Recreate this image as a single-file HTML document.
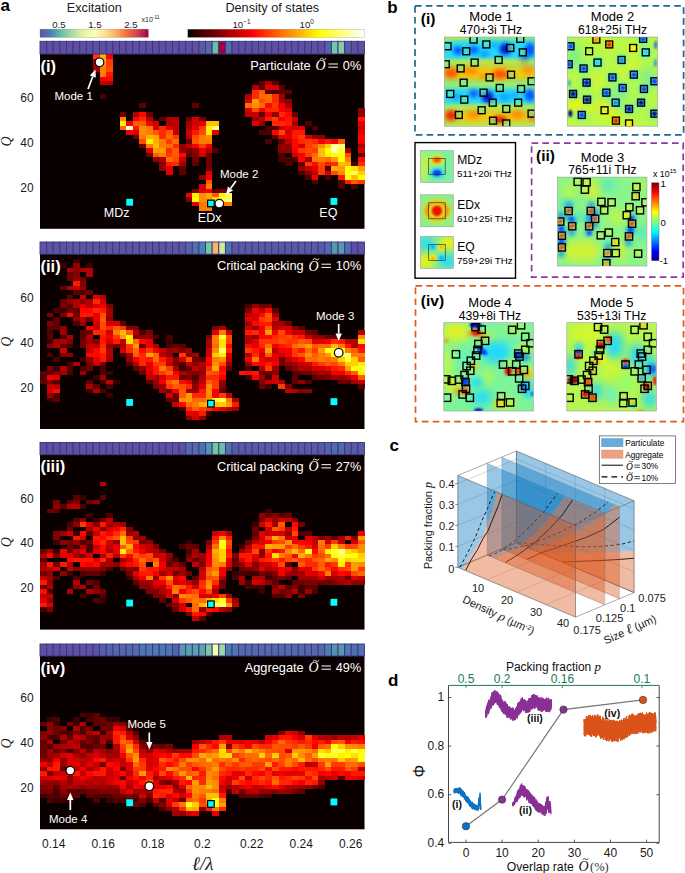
<!DOCTYPE html>
<html><head><meta charset="utf-8"><title>figure</title>
<style>html,body{margin:0;padding:0;background:#fff;}svg{display:block;font-family:"Liberation Sans",sans-serif;}</style>
</head><body>
<svg width="685" height="873" viewBox="0 0 685 873">
<rect width="685" height="873" fill="#fff"/>
<rect x="40.0" y="53.8" width="324.5" height="175.0" fill="#0b0000"/>
<path shape-rendering="crispEdges" fill="#ff3900" d="M93.0 54.0H99.7V58.5H93.0ZM106.2 58.5H112.9V63.0H106.2ZM106.2 63.0H112.9V67.5H106.2ZM271.8 103.3H278.5V107.8H271.8ZM271.8 116.7H278.5V121.3H271.8ZM198.9 125.7H205.6V130.2H198.9ZM172.4 134.7H179.1V139.2H172.4ZM298.3 134.7H304.9V139.2H298.3ZM165.8 139.2H172.5V143.7H165.8ZM304.9 139.2H311.6V143.7H304.9ZM198.9 143.6H205.6V148.2H198.9ZM304.9 143.6H311.6V148.2H304.9ZM298.3 148.1H304.9V152.7H298.3ZM311.5 148.1H318.2V152.7H311.5ZM165.8 152.6H172.5V157.1H165.8ZM304.9 152.6H311.6V157.1H304.9ZM304.9 161.6H311.6V166.1H304.9ZM318.1 166.1H324.8V170.6H318.1ZM318.1 170.5H324.8V175.1H318.1ZM357.9 179.5H364.6V184.0H357.9Z"/>
<path shape-rendering="crispEdges" fill="#ffae00" d="M99.6 54.0H106.3V58.5H99.6ZM99.6 58.5H106.3V63.0H99.6ZM146.0 134.7H159.3V139.2H146.0ZM152.6 139.2H159.3V143.7H152.6ZM344.6 161.6H351.3V166.1H344.6ZM331.4 166.1H338.1V170.6H331.4ZM205.6 192.9H212.2V197.5H205.6Z"/>
<path shape-rendering="crispEdges" fill="#f50000" d="M106.2 54.0H112.9V58.5H106.2ZM99.6 76.4H106.3V80.9H99.6ZM278.4 103.3H285.1V107.8H278.4ZM258.5 107.8H265.2V112.3H258.5ZM278.4 107.8H285.1V112.3H278.4ZM278.4 116.7H285.1V121.3H278.4ZM126.1 121.2H132.8V125.8H126.1ZM146.0 121.2H152.6V125.8H146.0ZM126.1 130.2H132.8V134.7H126.1ZM318.1 139.2H324.8V143.7H318.1ZM331.4 139.2H338.1V143.7H331.4ZM357.9 139.2H364.6V143.7H357.9ZM192.3 143.6H199.0V148.2H192.3ZM205.6 143.6H212.2V148.2H205.6ZM291.7 148.1H298.3V152.7H291.7ZM298.3 152.6H304.9V157.1H298.3ZM205.6 175.0H212.2V179.5H205.6ZM311.5 175.0H318.2V179.5H311.5ZM205.6 188.5H212.2V193.0H205.6ZM185.7 192.9H192.4V197.5H185.7Z"/>
<path shape-rendering="crispEdges" fill="#a10000" d="M93.0 58.5H99.7V63.0H93.0ZM93.0 63.0H99.7V67.5H93.0ZM93.0 67.4H99.7V72.0H93.0ZM278.4 94.3H285.1V98.9H278.4ZM278.4 98.8H285.1V103.4H278.4ZM285.0 103.3H291.7V107.8H285.0ZM251.9 116.7H258.6V121.3H251.9ZM185.7 121.2H192.4V125.8H185.7ZM291.7 121.2H298.3V125.8H291.7ZM344.6 148.1H351.3V152.7H344.6ZM304.9 157.1H311.6V161.6H304.9ZM179.1 161.6H185.7V166.1H179.1Z"/>
<path shape-rendering="crispEdges" fill="#ff8d00" d="M99.6 63.0H106.3V67.5H99.6ZM251.9 103.3H258.6V107.8H251.9ZM119.5 116.7H126.1V121.3H119.5ZM139.3 125.7H146.0V130.2H139.3ZM139.3 130.2H146.0V134.7H139.3ZM205.6 134.7H212.2V139.2H205.6ZM318.1 143.6H324.8V148.2H318.1ZM338.0 170.5H344.7V175.1H338.0ZM198.9 192.9H205.6V197.5H198.9ZM198.9 197.4H205.6V202.0H198.9Z"/>
<path shape-rendering="crispEdges" fill="#ff7c00" d="M99.6 67.4H106.3V72.0H99.6ZM99.6 71.9H106.3V76.5H99.6ZM146.0 125.7H152.6V130.2H146.0ZM146.0 130.2H152.6V134.7H146.0ZM139.3 134.7H146.0V139.2H139.3ZM198.9 134.7H205.6V139.2H198.9ZM159.2 139.2H165.9V143.7H159.2ZM198.9 139.2H212.2V143.7H198.9ZM146.0 143.6H152.6V148.2H146.0ZM159.2 143.6H165.9V148.2H159.2ZM159.2 152.6H165.9V157.1H159.2ZM311.5 157.1H324.8V161.6H311.5ZM344.6 157.1H351.3V161.6H344.6ZM205.6 184.0H212.2V188.5H205.6ZM198.9 201.9H232.1V206.4H198.9ZM198.9 206.4H212.2V210.9H198.9Z"/>
<path shape-rendering="crispEdges" fill="#ff4a00" d="M106.2 67.4H112.9V72.0H106.2ZM258.5 98.8H265.2V103.4H258.5ZM251.9 107.8H258.6V112.3H251.9ZM198.9 130.2H205.6V134.7H198.9ZM278.4 130.2H285.1V134.7H278.4ZM192.3 134.7H199.0V139.2H192.3ZM139.3 139.2H146.0V143.7H139.3ZM304.9 148.1H311.6V152.7H304.9ZM344.6 152.6H351.3V157.1H344.6ZM172.4 157.1H179.1V161.6H172.4ZM318.1 161.6H324.8V166.1H318.1ZM331.4 170.5H338.1V175.1H331.4Z"/>
<path shape-rendering="crispEdges" fill="#ff1700" d="M106.2 71.9H112.9V76.5H106.2ZM265.2 116.7H271.8V121.3H265.2ZM285.0 116.7H291.7V121.3H285.0ZM357.9 116.7H364.6V121.3H357.9ZM285.0 121.2H291.7V125.8H285.0ZM132.7 125.7H139.4V130.2H132.7ZM192.3 130.2H199.0V134.7H192.3ZM291.7 130.2H304.9V134.7H291.7ZM291.7 134.7H298.3V139.2H291.7ZM324.8 139.2H331.4V143.7H324.8ZM165.8 161.6H172.5V166.1H165.8ZM324.8 161.6H331.4V166.1H324.8ZM338.0 175.0H344.7V179.5H338.0ZM344.6 179.5H351.3V184.0H344.6Z"/>
<path shape-rendering="crispEdges" fill="#ff0700" d="M106.2 76.4H112.9V80.9H106.2ZM265.2 103.3H271.8V107.8H265.2ZM139.3 112.3H146.0V116.8H139.3ZM285.0 112.3H291.7V116.8H285.0ZM132.7 116.7H139.4V121.3H132.7ZM271.8 130.2H278.5V134.7H271.8ZM357.9 134.7H364.6V139.2H357.9ZM291.7 139.2H298.3V143.7H291.7ZM291.7 143.6H298.3V148.2H291.7ZM179.1 152.6H185.7V157.1H179.1ZM298.3 157.1H304.9V161.6H298.3ZM357.9 157.1H364.6V161.6H357.9ZM311.5 161.6H318.2V166.1H311.5Z"/>
<path shape-rendering="crispEdges" fill="#c30000" d="M99.6 80.9H106.3V85.4H99.6ZM245.3 112.3H258.6V116.8H245.3ZM258.5 116.7H265.2V121.3H258.5ZM172.4 121.2H179.1V125.8H172.4ZM172.4 125.7H179.1V130.2H172.4ZM172.4 130.2H179.1V134.7H172.4ZM185.7 134.7H192.4V139.2H185.7ZM285.0 139.2H291.7V143.7H285.0ZM185.7 143.6H192.4V148.2H185.7ZM179.1 157.1H185.7V161.6H179.1ZM304.9 166.1H311.6V170.6H304.9ZM311.5 170.5H318.2V175.1H311.5Z"/>
<path shape-rendering="crispEdges" fill="#b20000" d="M106.2 80.9H112.9V85.4H106.2ZM265.2 80.9H271.8V85.4H265.2ZM251.9 85.4H258.6V89.9H251.9ZM245.3 94.3H252.0V98.9H245.3ZM132.7 112.3H139.4V116.8H132.7ZM146.0 116.7H152.6V121.3H146.0ZM165.8 116.7H179.1V121.3H165.8ZM165.8 121.2H172.5V125.8H165.8ZM185.7 125.7H192.4V130.2H185.7ZM357.9 143.6H364.6V148.2H357.9ZM205.6 148.1H212.2V152.7H205.6ZM159.2 157.1H165.9V161.6H159.2Z"/>
<path shape-rendering="crispEdges" fill="#5e0000" d="M258.5 80.9H265.2V85.4H258.5ZM271.8 80.9H278.5V85.4H271.8ZM258.5 85.4H265.2V89.9H258.5ZM278.4 85.4H285.1V89.9H278.4ZM278.4 89.9H291.7V94.4H278.4ZM139.3 103.3H146.0V107.8H139.3ZM192.3 103.3H199.0V107.8H192.3ZM258.5 112.3H265.2V116.8H258.5ZM291.7 112.3H298.3V116.8H291.7ZM159.2 116.7H165.9V121.3H159.2ZM271.8 134.7H278.5V139.2H271.8ZM278.4 139.2H285.1V143.7H278.4ZM185.7 152.6H192.4V157.1H185.7ZM357.9 152.6H364.6V157.1H357.9ZM192.3 161.6H199.0V166.1H192.3ZM298.3 161.6H304.9V166.1H298.3ZM179.1 166.1H185.7V170.6H179.1ZM179.1 170.5H185.7V175.1H179.1ZM212.2 188.5H218.9V193.0H212.2Z"/>
<path shape-rendering="crispEdges" fill="#e40000" d="M265.2 85.4H271.8V89.9H265.2ZM285.0 107.8H291.7V112.3H285.0ZM265.2 112.3H271.8V116.8H265.2ZM198.9 121.2H205.6V125.8H198.9ZM251.9 121.2H258.6V125.8H251.9ZM357.9 121.2H364.6V125.8H357.9ZM165.8 125.7H172.5V130.2H165.8ZM192.3 125.7H199.0V130.2H192.3ZM285.0 125.7H291.7V130.2H285.0ZM298.3 125.7H304.9V130.2H298.3ZM212.2 130.2H218.9V134.7H212.2ZM357.9 130.2H364.6V134.7H357.9ZM278.4 134.7H291.7V139.2H278.4ZM146.0 148.1H152.6V152.7H146.0ZM198.9 148.1H205.6V152.7H198.9ZM165.8 166.1H172.5V170.6H165.8ZM311.5 166.1H318.2V170.6H311.5ZM165.8 170.5H172.5V175.1H165.8ZM205.6 170.5H212.2V175.1H205.6ZM198.9 188.5H205.6V193.0H198.9ZM192.3 201.9H199.0V206.4H192.3Z"/>
<path shape-rendering="crispEdges" fill="#d30000" d="M271.8 85.4H278.5V89.9H271.8ZM245.3 98.8H252.0V103.4H245.3ZM245.3 107.8H252.0V112.3H245.3ZM192.3 116.7H199.0V121.3H192.3ZM291.7 116.7H298.3V121.3H291.7ZM152.6 121.2H159.3V125.8H152.6ZM192.3 121.2H199.0V125.8H192.3ZM152.6 125.7H159.3V130.2H152.6ZM278.4 125.7H285.1V130.2H278.4ZM291.7 125.7H298.3V130.2H291.7ZM357.9 125.7H364.6V130.2H357.9ZM132.7 130.2H139.4V134.7H132.7ZM185.7 130.2H192.4V134.7H185.7ZM285.0 130.2H291.7V134.7H285.0ZM304.9 134.7H311.6V139.2H304.9ZM298.3 143.6H304.9V148.2H298.3ZM357.9 148.1H364.6V152.7H357.9ZM198.9 152.6H205.6V157.1H198.9ZM291.7 152.6H298.3V157.1H291.7ZM324.8 170.5H331.4V175.1H324.8ZM198.9 184.0H205.6V188.5H198.9Z"/>
<path shape-rendering="crispEdges" fill="#ff2800" d="M251.9 89.9H258.6V94.4H251.9ZM251.9 94.3H258.6V98.9H251.9ZM271.8 94.3H278.5V98.9H271.8ZM271.8 98.8H278.5V103.4H271.8ZM265.2 107.8H278.5V112.3H265.2ZM278.4 112.3H285.1V116.8H278.4ZM139.3 116.7H146.0V121.3H139.3ZM271.8 121.2H285.1V125.8H271.8ZM159.2 125.7H165.9V130.2H159.2ZM159.2 130.2H165.9V134.7H159.2ZM159.2 134.7H165.9V139.2H159.2ZM298.3 139.2H304.9V143.7H298.3ZM311.5 139.2H318.2V143.7H311.5ZM172.4 143.6H179.1V148.2H172.4ZM165.8 148.1H172.5V152.7H165.8ZM172.4 161.6H179.1V166.1H172.4ZM331.4 161.6H338.1V166.1H331.4ZM357.9 161.6H364.6V166.1H357.9Z"/>
<path shape-rendering="crispEdges" fill="#ff5a00" d="M258.5 89.9H265.2V94.4H258.5ZM132.7 121.2H146.0V125.8H132.7ZM152.6 130.2H159.3V134.7H152.6ZM165.8 130.2H172.5V134.7H165.8ZM192.3 139.2H199.0V143.7H192.3ZM338.0 139.2H344.7V143.7H338.0ZM311.5 143.6H318.2V148.2H311.5ZM172.4 148.1H179.1V152.7H172.4ZM152.6 152.6H159.3V157.1H152.6ZM172.4 152.6H179.1V157.1H172.4ZM205.6 179.5H212.2V184.0H205.6ZM351.3 179.5H357.9V184.0H351.3ZM212.2 192.9H218.9V197.5H212.2Z"/>
<path shape-rendering="crispEdges" fill="#4e0000" d="M265.2 89.9H278.5V94.4H265.2ZM99.6 94.3H106.3V98.9H99.6ZM304.9 121.2H311.6V125.8H304.9ZM265.2 125.7H278.5V130.2H265.2ZM311.5 125.7H318.2V130.2H311.5ZM258.5 130.2H271.8V134.7H258.5ZM265.2 139.2H271.8V143.7H265.2ZM212.2 148.1H218.9V152.7H212.2ZM278.4 152.6H285.1V157.1H278.4ZM278.4 157.1H298.3V161.6H278.4ZM285.0 161.6H291.7V166.1H285.0ZM351.3 161.6H357.9V166.1H351.3ZM324.8 166.1H331.4V170.6H324.8ZM298.3 170.5H304.9V175.1H298.3ZM304.9 175.0H311.6V179.5H304.9ZM324.8 175.0H331.4V179.5H324.8ZM311.5 179.5H318.2V184.0H311.5ZM338.0 179.5H344.7V184.0H338.0ZM338.0 184.0H344.7V188.5H338.0ZM351.3 184.0H357.9V188.5H351.3Z"/>
<path shape-rendering="crispEdges" fill="#ff6b00" d="M258.5 94.3H271.8V98.9H258.5ZM265.2 98.8H271.8V103.4H265.2ZM245.3 103.3H252.0V107.8H245.3ZM258.5 103.3H265.2V107.8H258.5ZM119.5 125.7H126.1V130.2H119.5ZM165.8 134.7H172.5V139.2H165.8ZM172.4 139.2H179.1V143.7H172.4ZM165.8 143.6H172.5V148.2H165.8ZM311.5 152.6H318.2V157.1H311.5ZM165.8 157.1H172.5V161.6H165.8ZM324.8 157.1H331.4V161.6H324.8Z"/>
<path shape-rendering="crispEdges" fill="#ff9d00" d="M251.9 98.8H258.6V103.4H251.9ZM152.6 148.1H165.9V152.7H152.6ZM331.4 157.1H338.1V161.6H331.4ZM338.0 166.1H344.7V170.6H338.0ZM357.9 166.1H364.6V170.6H357.9ZM205.6 197.4H212.2V202.0H205.6Z"/>
<path shape-rendering="crispEdges" fill="#910000" d="M285.0 98.8H291.7V103.4H285.0ZM357.9 107.8H364.6V112.3H357.9ZM271.8 112.3H278.5V116.8H271.8ZM357.9 112.3H364.6V116.8H357.9ZM258.5 121.2H265.2V125.8H258.5ZM311.5 134.7H324.8V139.2H311.5ZM179.1 143.6H185.7V148.2H179.1ZM278.4 143.6H291.7V148.2H278.4ZM179.1 148.1H185.7V152.7H179.1ZM192.3 148.1H199.0V152.7H192.3ZM278.4 148.1H291.7V152.7H278.4ZM152.6 157.1H159.3V161.6H152.6ZM159.2 161.6H165.9V166.1H159.2ZM159.2 166.1H165.9V170.6H159.2ZM298.3 166.1H304.9V170.6H298.3ZM304.9 170.5H311.6V175.1H304.9ZM198.9 175.0H205.6V179.5H198.9Z"/>
<path shape-rendering="crispEdges" fill="#6f0000" d="M119.5 112.3H126.1V116.8H119.5ZM146.0 112.3H152.6V116.8H146.0ZM185.7 116.7H192.4V121.3H185.7ZM198.9 116.7H205.6V121.3H198.9ZM132.7 134.7H139.4V139.2H132.7ZM185.7 139.2H192.4V143.7H185.7ZM139.3 143.6H146.0V148.2H139.3ZM185.7 148.1H192.4V152.7H185.7ZM146.0 152.6H152.6V157.1H146.0ZM205.6 152.6H212.2V157.1H205.6ZM192.3 157.1H199.0V161.6H192.3ZM205.6 157.1H212.2V161.6H205.6ZM205.6 161.6H212.2V166.1H205.6ZM205.6 166.1H212.2V170.6H205.6Z"/>
<path shape-rendering="crispEdges" fill="#fff100" d="M119.5 121.2H126.1V125.8H119.5ZM205.6 125.7H212.2V130.2H205.6ZM205.6 130.2H212.2V134.7H205.6ZM146.0 139.2H152.6V143.7H146.0ZM324.8 152.6H331.4V157.1H324.8ZM192.3 192.9H199.0V197.5H192.3ZM218.8 192.9H225.5V197.5H218.8Z"/>
<path shape-rendering="crispEdges" fill="#ffbf00" d="M205.6 121.2H218.9V125.8H205.6ZM152.6 143.6H159.3V148.2H152.6ZM318.1 148.1H324.8V152.7H318.1ZM318.1 152.6H324.8V157.1H318.1ZM338.0 161.6H344.7V166.1H338.0ZM351.3 175.0H357.9V179.5H351.3Z"/>
<path shape-rendering="crispEdges" fill="#ffffe6" d="M126.1 125.7H132.8V130.2H126.1Z"/>
<path shape-rendering="crispEdges" fill="#ffff82" d="M212.2 125.7H218.9V130.2H212.2ZM338.0 143.6H344.7V148.2H338.0Z"/>
<path shape-rendering="crispEdges" fill="#ffcf00" d="M324.8 143.6H331.4V148.2H324.8ZM357.9 170.5H364.6V175.1H357.9Z"/>
<path shape-rendering="crispEdges" fill="#ffff9b" d="M331.4 143.6H338.1V148.2H331.4Z"/>
<path shape-rendering="crispEdges" fill="#ffff04" d="M324.8 148.1H331.4V152.7H324.8ZM331.4 152.6H344.7V157.1H331.4ZM338.0 157.1H344.7V161.6H338.0ZM344.6 166.1H351.3V170.6H344.6ZM344.6 175.0H351.3V179.5H344.6ZM357.9 175.0H364.6V179.5H357.9ZM192.3 197.4H199.0V202.0H192.3Z"/>
<path shape-rendering="crispEdges" fill="#ffffb4" d="M331.4 148.1H338.1V152.7H331.4Z"/>
<path shape-rendering="crispEdges" fill="#ffff36" d="M338.0 148.1H344.7V152.7H338.0ZM218.8 197.4H225.5V202.0H218.8Z"/>
<path shape-rendering="crispEdges" fill="#800000" d="M192.3 152.6H199.0V157.1H192.3ZM192.3 188.5H199.0V193.0H192.3ZM218.8 188.5H225.5V193.0H218.8ZM185.7 197.4H192.4V202.0H185.7Z"/>
<path shape-rendering="crispEdges" fill="#ffe000" d="M351.3 166.1H357.9V170.6H351.3ZM212.2 197.4H218.9V202.0H212.2Z"/>
<path shape-rendering="crispEdges" fill="#ffff1d" d="M344.6 170.5H351.3V175.1H344.6Z"/>
<path shape-rendering="crispEdges" fill="#ffff4f" d="M351.3 170.5H357.9V175.1H351.3Z"/>
<path shape-rendering="crispEdges" fill="#ffff68" d="M225.4 192.9H232.1V197.5H225.4ZM225.4 197.4H232.1V202.0H225.4Z"/>
<rect x="40.00" y="41.3" width="6.62" height="12.7" fill="#5e4fa2" stroke="#3a3478" stroke-width="0.9"/>
<rect x="46.62" y="41.3" width="6.62" height="12.7" fill="#5e4fa2" stroke="#3a3478" stroke-width="0.9"/>
<rect x="53.24" y="41.3" width="6.62" height="12.7" fill="#5e4fa2" stroke="#3a3478" stroke-width="0.9"/>
<rect x="59.87" y="41.3" width="6.62" height="12.7" fill="#5e4fa2" stroke="#3a3478" stroke-width="0.9"/>
<rect x="66.49" y="41.3" width="6.62" height="12.7" fill="#5e4fa2" stroke="#3a3478" stroke-width="0.9"/>
<rect x="73.11" y="41.3" width="6.62" height="12.7" fill="#5e4fa2" stroke="#3a3478" stroke-width="0.9"/>
<rect x="79.73" y="41.3" width="6.62" height="12.7" fill="#5e4fa2" stroke="#3a3478" stroke-width="0.9"/>
<rect x="86.36" y="41.3" width="6.62" height="12.7" fill="#5e4fa2" stroke="#3a3478" stroke-width="0.9"/>
<rect x="92.98" y="41.3" width="6.62" height="12.7" fill="#5e4fa2" stroke="#3a3478" stroke-width="0.9"/>
<rect x="99.60" y="41.3" width="6.62" height="12.7" fill="#5e4fa2" stroke="#3a3478" stroke-width="0.9"/>
<rect x="106.22" y="41.3" width="6.62" height="12.7" fill="#5e4fa2" stroke="#3a3478" stroke-width="0.9"/>
<rect x="112.85" y="41.3" width="6.62" height="12.7" fill="#5e4fa2" stroke="#3a3478" stroke-width="0.9"/>
<rect x="119.47" y="41.3" width="6.62" height="12.7" fill="#5e4fa2" stroke="#3a3478" stroke-width="0.9"/>
<rect x="126.09" y="41.3" width="6.62" height="12.7" fill="#5e4fa2" stroke="#3a3478" stroke-width="0.9"/>
<rect x="132.71" y="41.3" width="6.62" height="12.7" fill="#5e4fa2" stroke="#3a3478" stroke-width="0.9"/>
<rect x="139.34" y="41.3" width="6.62" height="12.7" fill="#5e4fa2" stroke="#3a3478" stroke-width="0.9"/>
<rect x="145.96" y="41.3" width="6.62" height="12.7" fill="#5e4fa2" stroke="#3a3478" stroke-width="0.9"/>
<rect x="152.58" y="41.3" width="6.62" height="12.7" fill="#5e4fa2" stroke="#3a3478" stroke-width="0.9"/>
<rect x="159.20" y="41.3" width="6.62" height="12.7" fill="#5e4fa2" stroke="#3a3478" stroke-width="0.9"/>
<rect x="165.83" y="41.3" width="6.62" height="12.7" fill="#5e4fa2" stroke="#3a3478" stroke-width="0.9"/>
<rect x="172.45" y="41.3" width="6.62" height="12.7" fill="#5e4fa2" stroke="#3a3478" stroke-width="0.9"/>
<rect x="179.07" y="41.3" width="6.62" height="12.7" fill="#5e4fa2" stroke="#3a3478" stroke-width="0.9"/>
<rect x="185.69" y="41.3" width="6.62" height="12.7" fill="#5e4fa2" stroke="#3a3478" stroke-width="0.9"/>
<rect x="192.32" y="41.3" width="6.62" height="12.7" fill="#5e4fa2" stroke="#3a3478" stroke-width="0.9"/>
<rect x="198.94" y="41.3" width="6.62" height="12.7" fill="#5a59a6" stroke="#3a3478" stroke-width="0.9"/>
<rect x="205.56" y="41.3" width="6.62" height="12.7" fill="#5468ac" stroke="#3a3478" stroke-width="0.9"/>
<rect x="212.18" y="41.3" width="6.62" height="12.7" fill="#66c2a5" stroke="#3a3478" stroke-width="0.9"/>
<rect x="218.81" y="41.3" width="6.62" height="12.7" fill="#9e0142" stroke="#3a3478" stroke-width="0.9"/>
<rect x="225.43" y="41.3" width="6.62" height="12.7" fill="#526cae" stroke="#3a3478" stroke-width="0.9"/>
<rect x="232.05" y="41.3" width="6.62" height="12.7" fill="#5e4fa2" stroke="#3a3478" stroke-width="0.9"/>
<rect x="238.67" y="41.3" width="6.62" height="12.7" fill="#5e4fa2" stroke="#3a3478" stroke-width="0.9"/>
<rect x="245.30" y="41.3" width="6.62" height="12.7" fill="#5e4fa2" stroke="#3a3478" stroke-width="0.9"/>
<rect x="251.92" y="41.3" width="6.62" height="12.7" fill="#5e4fa2" stroke="#3a3478" stroke-width="0.9"/>
<rect x="258.54" y="41.3" width="6.62" height="12.7" fill="#5e4fa2" stroke="#3a3478" stroke-width="0.9"/>
<rect x="265.16" y="41.3" width="6.62" height="12.7" fill="#5e4fa2" stroke="#3a3478" stroke-width="0.9"/>
<rect x="271.79" y="41.3" width="6.62" height="12.7" fill="#5e4fa2" stroke="#3a3478" stroke-width="0.9"/>
<rect x="278.41" y="41.3" width="6.62" height="12.7" fill="#5e4fa2" stroke="#3a3478" stroke-width="0.9"/>
<rect x="285.03" y="41.3" width="6.62" height="12.7" fill="#5e4fa2" stroke="#3a3478" stroke-width="0.9"/>
<rect x="291.65" y="41.3" width="6.62" height="12.7" fill="#5e4fa2" stroke="#3a3478" stroke-width="0.9"/>
<rect x="298.28" y="41.3" width="6.62" height="12.7" fill="#5e4fa2" stroke="#3a3478" stroke-width="0.9"/>
<rect x="304.90" y="41.3" width="6.62" height="12.7" fill="#5e4fa2" stroke="#3a3478" stroke-width="0.9"/>
<rect x="311.52" y="41.3" width="6.62" height="12.7" fill="#5e4fa2" stroke="#3a3478" stroke-width="0.9"/>
<rect x="318.14" y="41.3" width="6.62" height="12.7" fill="#5e4fa2" stroke="#3a3478" stroke-width="0.9"/>
<rect x="324.77" y="41.3" width="6.62" height="12.7" fill="#5663aa" stroke="#3a3478" stroke-width="0.9"/>
<rect x="331.39" y="41.3" width="6.62" height="12.7" fill="#74c7a5" stroke="#3a3478" stroke-width="0.9"/>
<rect x="338.01" y="41.3" width="6.62" height="12.7" fill="#82cda5" stroke="#3a3478" stroke-width="0.9"/>
<rect x="344.63" y="41.3" width="6.62" height="12.7" fill="#585ea8" stroke="#3a3478" stroke-width="0.9"/>
<rect x="351.26" y="41.3" width="6.62" height="12.7" fill="#5e4fa2" stroke="#3a3478" stroke-width="0.9"/>
<rect x="357.88" y="41.3" width="6.62" height="12.7" fill="#5e4fa2" stroke="#3a3478" stroke-width="0.9"/>
<rect x="40.0" y="254.0" width="324.5" height="175.0" fill="#0b0000"/>
<path shape-rendering="crispEdges" fill="#3d0000" d="M73.1 258.7H79.8V263.2H73.1ZM59.9 263.2H66.5V267.7H59.9ZM86.4 263.2H93.0V267.7H86.4ZM59.9 308.0H66.5V312.5H59.9ZM46.6 339.4H53.3V343.9H46.6ZM165.8 339.4H172.5V343.9H165.8ZM79.7 357.3H86.4V361.8H79.7ZM53.2 366.3H59.9V370.8H53.2ZM179.1 366.3H185.7V370.8H179.1ZM106.2 370.7H112.9V375.3H106.2ZM93.0 375.2H99.7V379.7H93.0ZM245.3 375.2H252.0V379.7H245.3ZM99.6 379.7H106.3V384.2H99.6ZM112.8 379.7H119.5V384.2H112.8ZM265.2 384.2H271.8V388.7H265.2ZM86.4 388.7H93.0V393.2H86.4ZM106.2 393.1H112.9V397.7H106.2ZM46.6 397.6H53.3V402.2H46.6ZM205.6 411.1H212.2V415.6H205.6Z"/>
<path shape-rendering="crispEdges" fill="#910000" d="M73.1 263.2H79.8V267.7H73.1ZM73.1 267.6H79.8V272.2H73.1ZM73.1 276.6H79.8V281.1H73.1ZM79.7 285.6H86.4V290.1H79.7ZM66.5 299.0H73.2V303.6H66.5ZM79.7 299.0H86.4V303.6H79.7ZM251.9 303.5H258.6V308.0H251.9ZM73.1 316.9H79.8V321.5H73.1ZM106.2 316.9H112.9V321.5H106.2ZM79.7 321.4H86.4V326.0H79.7ZM59.9 325.9H66.5V330.4H59.9ZM126.1 325.9H132.8V330.4H126.1ZM251.9 325.9H258.6V330.4H251.9ZM291.7 325.9H298.3V330.4H291.7ZM139.3 334.9H152.6V339.4H139.3ZM251.9 334.9H258.6V339.4H251.9ZM311.5 334.9H324.8V339.4H311.5ZM46.6 343.8H53.3V348.4H46.6ZM106.2 343.8H112.9V348.4H106.2ZM165.8 348.3H172.5V352.9H165.8ZM66.5 352.8H73.2V357.3H66.5ZM165.8 352.8H172.5V357.3H165.8ZM86.4 357.3H93.0V361.8H86.4ZM126.1 357.3H132.8V361.8H126.1ZM192.3 361.8H199.0V366.3H192.3ZM225.4 361.8H232.1V366.3H225.4ZM245.3 361.8H252.0V366.3H245.3ZM285.0 361.8H291.7V366.3H285.0ZM139.3 366.3H146.0V370.8H139.3ZM291.7 366.3H298.3V370.8H291.7ZM185.7 370.7H192.4V375.3H185.7ZM198.9 370.7H205.6V375.3H198.9ZM311.5 370.7H318.2V375.3H311.5ZM324.8 370.7H331.4V375.3H324.8ZM338.0 375.2H344.7V379.7H338.0ZM152.6 379.7H159.3V384.2H152.6ZM218.8 379.7H225.5V384.2H218.8ZM298.3 379.7H304.9V384.2H298.3ZM192.3 384.2H199.0V388.7H192.3ZM304.9 388.7H311.6V393.2H304.9ZM185.7 415.6H192.4V420.1H185.7ZM198.9 415.6H205.6V420.1H198.9Z"/>
<path shape-rendering="crispEdges" fill="#b20000" d="M66.5 267.6H73.2V272.2H66.5ZM79.7 267.6H93.0V272.2H79.7ZM86.4 272.1H93.0V276.7H86.4ZM66.5 285.6H73.2V290.1H66.5ZM99.6 294.5H106.3V299.1H99.6ZM73.1 299.0H79.8V303.6H73.1ZM86.4 299.0H93.0V303.6H86.4ZM73.1 303.5H79.8V308.0H73.1ZM86.4 303.5H93.0V308.0H86.4ZM258.5 308.0H265.2V312.5H258.5ZM79.7 316.9H86.4V321.5H79.7ZM218.8 325.9H225.5V330.4H218.8ZM271.8 325.9H278.5V330.4H271.8ZM132.7 330.4H139.4V334.9H132.7ZM357.9 330.4H364.6V334.9H357.9ZM66.5 334.9H73.2V339.4H66.5ZM86.4 334.9H93.0V339.4H86.4ZM245.3 334.9H252.0V339.4H245.3ZM59.9 339.4H66.5V343.9H59.9ZM205.6 339.4H212.2V343.9H205.6ZM245.3 339.4H252.0V343.9H245.3ZM344.6 339.4H357.9V343.9H344.6ZM53.2 343.8H59.9V348.4H53.2ZM119.5 343.8H126.1V348.4H119.5ZM152.6 343.8H159.3V348.4H152.6ZM351.3 343.8H357.9V348.4H351.3ZM106.2 348.3H112.9V352.9H106.2ZM271.8 348.3H278.5V352.9H271.8ZM106.2 352.8H112.9V357.3H106.2ZM159.2 352.8H165.9V357.3H159.2ZM245.3 352.8H252.0V357.3H245.3ZM73.1 361.8H79.8V366.3H73.1ZM132.7 361.8H139.4V366.3H132.7ZM198.9 361.8H205.6V366.3H198.9ZM59.9 366.3H66.5V370.8H59.9ZM258.5 366.3H265.2V370.8H258.5ZM298.3 366.3H311.6V370.8H298.3ZM179.1 370.7H185.7V375.3H179.1ZM318.1 370.7H324.8V375.3H318.1ZM198.9 375.2H205.6V379.7H198.9ZM344.6 375.2H351.3V379.7H344.6ZM278.4 379.7H285.1V384.2H278.4ZM53.2 384.2H59.9V388.7H53.2ZM86.4 384.2H93.0V388.7H86.4ZM93.0 388.7H99.7V393.2H93.0ZM291.7 388.7H298.3V393.2H291.7ZM232.1 397.6H238.7V402.2H232.1Z"/>
<path shape-rendering="crispEdges" fill="#6f0000" d="M66.5 272.1H73.2V276.7H66.5ZM66.5 276.6H73.2V281.1H66.5ZM79.7 276.6H86.4V281.1H79.7ZM86.4 290.1H93.0V294.6H86.4ZM59.9 299.0H66.5V303.6H59.9ZM258.5 303.5H271.8V308.0H258.5ZM66.5 308.0H73.2V312.5H66.5ZM73.1 312.5H79.8V317.0H73.1ZM285.0 321.4H291.7V326.0H285.0ZM86.4 330.4H93.0V334.9H86.4ZM304.9 330.4H311.6V334.9H304.9ZM324.8 334.9H331.4V339.4H324.8ZM79.7 339.4H86.4V343.9H79.7ZM79.7 343.8H86.4V348.4H79.7ZM112.8 343.8H119.5V348.4H112.8ZM139.3 343.8H146.0V348.4H139.3ZM192.3 357.3H199.0V361.8H192.3ZM278.4 357.3H285.1V361.8H278.4ZM86.4 361.8H93.0V366.3H86.4ZM99.6 361.8H106.3V366.3H99.6ZM172.4 361.8H179.1V366.3H172.4ZM278.4 361.8H285.1V366.3H278.4ZM86.4 366.3H93.0V370.8H86.4ZM185.7 366.3H192.4V370.8H185.7ZM139.3 370.7H146.0V375.3H139.3ZM265.2 370.7H271.8V375.3H265.2ZM304.9 370.7H311.6V375.3H304.9ZM179.1 375.2H185.7V379.7H179.1ZM318.1 375.2H324.8V379.7H318.1ZM192.3 379.7H199.0V384.2H192.3ZM338.0 379.7H344.7V384.2H338.0ZM258.5 384.2H265.2V388.7H258.5ZM165.8 388.7H172.5V393.2H165.8ZM172.4 393.1H179.1V397.7H172.4ZM165.8 397.6H172.5V402.2H165.8Z"/>
<path shape-rendering="crispEdges" fill="#800000" d="M73.1 272.1H79.8V276.7H73.1ZM79.7 281.1H86.4V285.6H79.7ZM59.9 303.5H66.5V308.0H59.9ZM106.2 303.5H112.9V308.0H106.2ZM245.3 308.0H252.0V312.5H245.3ZM46.6 312.5H53.3V317.0H46.6ZM59.9 312.5H66.5V317.0H59.9ZM46.6 321.4H53.3V326.0H46.6ZM132.7 325.9H139.4V330.4H132.7ZM212.2 325.9H218.9V330.4H212.2ZM146.0 330.4H152.6V334.9H146.0ZM132.7 334.9H139.4V339.4H132.7ZM205.6 334.9H212.2V339.4H205.6ZM66.5 339.4H73.2V343.9H66.5ZM93.0 339.4H99.7V343.9H93.0ZM179.1 348.3H185.7V352.9H179.1ZM59.9 352.8H66.5V357.3H59.9ZM185.7 352.8H192.4V357.3H185.7ZM172.4 357.3H179.1V361.8H172.4ZM46.6 366.3H53.3V370.8H46.6ZM53.2 370.7H59.9V375.3H53.2ZM192.3 370.7H199.0V375.3H192.3ZM271.8 370.7H278.5V375.3H271.8ZM185.7 375.2H192.4V379.7H185.7ZM324.8 375.2H331.4V379.7H324.8ZM46.6 379.7H53.3V384.2H46.6ZM258.5 379.7H265.2V384.2H258.5ZM152.6 384.2H159.3V388.7H152.6ZM218.8 384.2H225.5V388.7H218.8ZM285.0 384.2H291.7V388.7H285.0ZM298.3 388.7H304.9V393.2H298.3Z"/>
<path shape-rendering="crispEdges" fill="#ff1700" d="M73.1 281.1H79.8V285.6H73.1ZM99.6 308.0H106.3V312.5H99.6ZM79.7 312.5H93.0V317.0H79.7ZM258.5 321.4H271.8V326.0H258.5ZM245.3 330.4H252.0V334.9H245.3ZM99.6 334.9H106.3V339.4H99.6ZM298.3 334.9H304.9V339.4H298.3ZM99.6 339.4H106.3V343.9H99.6ZM112.8 339.4H119.5V343.9H112.8ZM338.0 339.4H344.7V343.9H338.0ZM278.4 343.8H285.1V348.4H278.4ZM344.6 343.8H351.3V348.4H344.6ZM251.9 348.3H258.6V352.9H251.9ZM298.3 348.3H304.9V352.9H298.3ZM357.9 348.3H364.6V352.9H357.9ZM99.6 352.8H106.3V357.3H99.6ZM99.6 357.3H106.3V361.8H99.6ZM146.0 357.3H152.6V361.8H146.0ZM159.2 357.3H165.9V361.8H159.2ZM265.2 361.8H271.8V366.3H265.2ZM311.5 361.8H318.2V366.3H311.5ZM152.6 366.3H159.3V370.8H152.6ZM331.4 366.3H338.1V370.8H331.4ZM152.6 370.7H159.3V375.3H152.6ZM218.8 370.7H225.5V375.3H218.8ZM238.7 370.7H245.3V375.3H238.7ZM251.9 370.7H258.6V375.3H251.9ZM165.8 375.2H179.1V379.7H165.8ZM198.9 388.7H205.6V393.2H198.9ZM232.1 402.1H238.7V406.6H232.1ZM198.9 411.1H205.6V415.6H198.9Z"/>
<path shape-rendering="crispEdges" fill="#5e0000" d="M59.9 285.6H66.5V290.1H59.9ZM73.1 290.1H79.8V294.6H73.1ZM66.5 294.5H73.2V299.1H66.5ZM66.5 303.5H73.2V308.0H66.5ZM73.1 308.0H79.8V312.5H73.1ZM271.8 308.0H278.5V312.5H271.8ZM53.2 316.9H59.9V321.5H53.2ZM86.4 316.9H93.0V321.5H86.4ZM53.2 321.4H59.9V326.0H53.2ZM119.5 321.4H126.1V326.0H119.5ZM46.6 325.9H59.9V330.4H46.6ZM298.3 325.9H304.9V330.4H298.3ZM79.7 330.4H86.4V334.9H79.7ZM311.5 330.4H318.2V334.9H311.5ZM46.6 334.9H53.3V339.4H46.6ZM79.7 334.9H86.4V339.4H79.7ZM331.4 334.9H338.1V339.4H331.4ZM59.9 343.8H66.5V348.4H59.9ZM172.4 343.8H185.7V348.4H172.4ZM198.9 357.3H205.6V361.8H198.9ZM132.7 366.3H139.4V370.8H132.7ZM225.4 366.3H232.1V370.8H225.4ZM285.0 366.3H291.7V370.8H285.0ZM40.0 370.7H53.3V375.3H40.0ZM258.5 370.7H265.2V375.3H258.5ZM298.3 370.7H304.9V375.3H298.3ZM291.7 375.2H298.3V379.7H291.7ZM311.5 375.2H318.2V379.7H311.5ZM40.0 379.7H46.7V384.2H40.0ZM86.4 379.7H93.0V384.2H86.4ZM291.7 379.7H298.3V384.2H291.7ZM344.6 379.7H351.3V384.2H344.6ZM93.0 384.2H99.7V388.7H93.0ZM357.9 384.2H364.6V388.7H357.9ZM218.8 388.7H225.5V393.2H218.8ZM53.2 397.6H59.9V402.2H53.2ZM172.4 397.6H179.1V402.2H172.4Z"/>
<path shape-rendering="crispEdges" fill="#c30000" d="M73.1 285.6H79.8V290.1H73.1ZM79.7 294.5H86.4V299.1H79.7ZM245.3 312.5H252.0V317.0H245.3ZM93.0 325.9H99.7V330.4H93.0ZM225.4 330.4H232.1V334.9H225.4ZM291.7 330.4H304.9V334.9H291.7ZM304.9 334.9H311.6V339.4H304.9ZM119.5 339.4H126.1V343.9H119.5ZM86.4 343.8H99.7V348.4H86.4ZM86.4 348.3H93.0V352.9H86.4ZM159.2 348.3H165.9V352.9H159.2ZM258.5 352.8H265.2V357.3H258.5ZM225.4 357.3H232.1V361.8H225.4ZM285.0 357.3H291.7V361.8H285.0ZM93.0 361.8H99.7V366.3H93.0ZM165.8 361.8H172.5V366.3H165.8ZM185.7 361.8H192.4V366.3H185.7ZM298.3 361.8H304.9V366.3H298.3ZM192.3 366.3H199.0V370.8H192.3ZM146.0 375.2H152.6V379.7H146.0ZM106.2 379.7H112.9V384.2H106.2ZM198.9 379.7H205.6V384.2H198.9ZM265.2 379.7H271.8V384.2H265.2ZM357.9 379.7H364.6V384.2H357.9ZM46.6 384.2H53.3V388.7H46.6ZM285.0 388.7H291.7V393.2H285.0ZM225.4 393.1H232.1V397.7H225.4ZM172.4 402.1H179.1V406.6H172.4ZM225.4 406.6H232.1V411.1H225.4Z"/>
<path shape-rendering="crispEdges" fill="#4e0000" d="M79.7 290.1H86.4V294.6H79.7ZM245.3 303.5H252.0V308.0H245.3ZM53.2 308.0H59.9V312.5H53.2ZM73.1 321.4H79.8V326.0H73.1ZM46.6 330.4H53.3V334.9H46.6ZM139.3 330.4H146.0V334.9H139.3ZM59.9 334.9H66.5V339.4H59.9ZM152.6 334.9H159.3V339.4H152.6ZM165.8 334.9H172.5V339.4H165.8ZM66.5 343.8H73.2V348.4H66.5ZM165.8 343.8H172.5V348.4H165.8ZM46.6 352.8H53.3V357.3H46.6ZM119.5 352.8H126.1V357.3H119.5ZM53.2 357.3H59.9V361.8H53.2ZM66.5 361.8H73.2V366.3H66.5ZM126.1 361.8H132.8V366.3H126.1ZM179.1 361.8H185.7V366.3H179.1ZM66.5 366.3H73.2V370.8H66.5ZM79.7 366.3H86.4V370.8H79.7ZM99.6 366.3H106.3V370.8H99.6ZM245.3 366.3H252.0V370.8H245.3ZM66.5 370.7H73.2V375.3H66.5ZM99.6 370.7H106.3V375.3H99.6ZM291.7 370.7H298.3V375.3H291.7ZM40.0 375.2H46.7V379.7H40.0ZM192.3 375.2H199.0V379.7H192.3ZM265.2 375.2H271.8V379.7H265.2ZM53.2 379.7H59.9V384.2H53.2ZM146.0 379.7H152.6V384.2H146.0ZM304.9 379.7H311.6V384.2H304.9ZM106.2 384.2H112.9V388.7H106.2ZM99.6 388.7H106.3V393.2H99.6ZM53.2 393.1H59.9V397.7H53.2ZM179.1 406.6H185.7V411.1H179.1Z"/>
<path shape-rendering="crispEdges" fill="#e40000" d="M93.0 294.5H99.7V299.1H93.0ZM79.7 303.5H86.4V308.0H79.7ZM93.0 303.5H99.7V308.0H93.0ZM93.0 312.5H99.7V317.0H93.0ZM93.0 316.9H99.7V321.5H93.0ZM245.3 316.9H252.0V321.5H245.3ZM271.8 316.9H278.5V321.5H271.8ZM212.2 330.4H218.9V334.9H212.2ZM146.0 339.4H152.6V343.9H146.0ZM251.9 339.4H258.6V343.9H251.9ZM311.5 339.4H324.8V343.9H311.5ZM251.9 343.8H258.6V348.4H251.9ZM271.8 352.8H278.5V357.3H271.8ZM93.0 357.3H99.7V361.8H93.0ZM271.8 357.3H278.5V361.8H271.8ZM291.7 357.3H298.3V361.8H291.7ZM146.0 361.8H152.6V366.3H146.0ZM146.0 366.3H152.6V370.8H146.0ZM53.2 375.2H59.9V379.7H53.2ZM351.3 375.2H357.9V379.7H351.3ZM185.7 379.7H192.4V384.2H185.7ZM198.9 384.2H205.6V388.7H198.9ZM218.8 406.6H225.5V411.1H218.8ZM185.7 411.1H199.0V415.6H185.7Z"/>
<path shape-rendering="crispEdges" fill="#ff2800" d="M93.0 299.0H99.7V303.6H93.0ZM93.0 308.0H99.7V312.5H93.0ZM106.2 325.9H112.9V330.4H106.2ZM93.0 330.4H106.3V334.9H93.0ZM251.9 330.4H258.6V334.9H251.9ZM271.8 334.9H278.5V339.4H271.8ZM291.7 334.9H298.3V339.4H291.7ZM331.4 339.4H338.1V343.9H331.4ZM99.6 343.8H106.3V348.4H99.6ZM258.5 343.8H265.2V348.4H258.5ZM285.0 343.8H291.7V348.4H285.0ZM126.1 348.3H132.8V352.9H126.1ZM225.4 348.3H232.1V352.9H225.4ZM139.3 352.8H146.0V357.3H139.3ZM251.9 352.8H258.6V357.3H251.9ZM139.3 357.3H146.0V361.8H139.3ZM139.3 361.8H146.0V366.3H139.3ZM205.6 366.3H212.2V370.8H205.6ZM338.0 366.3H344.7V370.8H338.0ZM344.6 370.7H351.3V375.3H344.6ZM205.6 375.2H218.9V379.7H205.6ZM185.7 384.2H192.4V388.7H185.7ZM192.3 393.1H205.6V397.7H192.3ZM185.7 406.6H192.4V411.1H185.7ZM205.6 406.6H212.2V411.1H205.6Z"/>
<path shape-rendering="crispEdges" fill="#d30000" d="M99.6 299.0H106.3V303.6H99.6ZM251.9 312.5H258.6V317.0H251.9ZM251.9 316.9H258.6V321.5H251.9ZM93.0 321.4H99.7V326.0H93.0ZM106.2 321.4H119.5V326.0H106.2ZM245.3 325.9H252.0V330.4H245.3ZM278.4 325.9H291.7V330.4H278.4ZM106.2 330.4H112.9V334.9H106.2ZM106.2 339.4H112.9V343.9H106.2ZM59.9 348.3H66.5V352.9H59.9ZM119.5 348.3H126.1V352.9H119.5ZM205.6 348.3H212.2V352.9H205.6ZM205.6 352.8H212.2V357.3H205.6ZM225.4 352.8H232.1V357.3H225.4ZM278.4 352.8H285.1V357.3H278.4ZM165.8 357.3H172.5V361.8H165.8ZM179.1 357.3H185.7V361.8H179.1ZM265.2 357.3H271.8V361.8H265.2ZM304.9 361.8H311.6V366.3H304.9ZM311.5 366.3H324.8V370.8H311.5ZM146.0 370.7H152.6V375.3H146.0ZM159.2 375.2H165.9V379.7H159.2ZM271.8 375.2H278.5V379.7H271.8ZM271.8 379.7H278.5V384.2H271.8ZM46.6 388.7H53.3V393.2H46.6ZM165.8 393.1H172.5V397.7H165.8ZM192.3 415.6H199.0V420.1H192.3Z"/>
<path shape-rendering="crispEdges" fill="#f50000" d="M99.6 303.5H106.3V308.0H99.6ZM251.9 308.0H258.6V312.5H251.9ZM86.4 325.9H93.0V330.4H86.4ZM258.5 325.9H265.2V330.4H258.5ZM258.5 330.4H265.2V334.9H258.5ZM271.8 330.4H278.5V334.9H271.8ZM285.0 330.4H291.7V334.9H285.0ZM106.2 334.9H112.9V339.4H106.2ZM324.8 339.4H331.4V343.9H324.8ZM146.0 343.8H152.6V348.4H146.0ZM271.8 343.8H278.5V348.4H271.8ZM152.6 348.3H159.3V352.9H152.6ZM258.5 348.3H265.2V352.9H258.5ZM278.4 348.3H291.7V352.9H278.4ZM285.0 352.8H291.7V357.3H285.0ZM132.7 357.3H139.4V361.8H132.7ZM245.3 357.3H252.0V361.8H245.3ZM258.5 357.3H265.2V361.8H258.5ZM205.6 361.8H212.2V366.3H205.6ZM258.5 361.8H265.2V366.3H258.5ZM271.8 361.8H278.5V366.3H271.8ZM324.8 366.3H331.4V370.8H324.8ZM172.4 370.7H179.1V375.3H172.4ZM331.4 370.7H344.7V375.3H331.4ZM46.6 375.2H53.3V379.7H46.6ZM218.8 375.2H225.5V379.7H218.8ZM251.9 375.2H258.6V379.7H251.9ZM159.2 379.7H165.9V384.2H159.2ZM172.4 388.7H179.1V393.2H172.4ZM212.2 388.7H218.9V393.2H212.2ZM212.2 393.1H218.9V397.7H212.2Z"/>
<path shape-rendering="crispEdges" fill="#ff0700" d="M79.7 308.0H93.0V312.5H79.7ZM265.2 308.0H271.8V312.5H265.2ZM66.5 312.5H73.2V317.0H66.5ZM258.5 312.5H265.2V317.0H258.5ZM251.9 321.4H258.6V326.0H251.9ZM258.5 334.9H271.8V339.4H258.5ZM139.3 339.4H146.0V343.9H139.3ZM225.4 343.8H232.1V348.4H225.4ZM245.3 343.8H252.0V348.4H245.3ZM357.9 343.8H364.6V348.4H357.9ZM93.0 348.3H99.7V352.9H93.0ZM139.3 348.3H146.0V352.9H139.3ZM86.4 352.8H99.7V357.3H86.4ZM205.6 357.3H212.2V361.8H205.6ZM298.3 357.3H304.9V361.8H298.3ZM251.9 361.8H258.6V366.3H251.9ZM218.8 366.3H225.5V370.8H218.8ZM245.3 370.7H252.0V375.3H245.3ZM179.1 379.7H185.7V384.2H179.1ZM53.2 388.7H59.9V393.2H53.2ZM179.1 402.1H185.7V406.6H179.1ZM212.2 406.6H218.9V411.1H212.2Z"/>
<path shape-rendering="crispEdges" fill="#a10000" d="M106.2 308.0H112.9V312.5H106.2ZM106.2 312.5H112.9V317.0H106.2ZM271.8 312.5H278.5V317.0H271.8ZM245.3 321.4H252.0V326.0H245.3ZM271.8 321.4H285.1V326.0H271.8ZM59.9 330.4H66.5V334.9H59.9ZM53.2 339.4H59.9V343.9H53.2ZM86.4 339.4H93.0V343.9H86.4ZM205.6 343.8H212.2V348.4H205.6ZM172.4 348.3H179.1V352.9H172.4ZM185.7 348.3H192.4V352.9H185.7ZM126.1 352.8H132.8V357.3H126.1ZM192.3 352.8H199.0V357.3H192.3ZM106.2 357.3H112.9V361.8H106.2ZM291.7 361.8H298.3V366.3H291.7ZM172.4 366.3H179.1V370.8H172.4ZM198.9 366.3H205.6V370.8H198.9ZM271.8 366.3H278.5V370.8H271.8ZM59.9 370.7H66.5V375.3H59.9ZM79.7 370.7H86.4V375.3H79.7ZM99.6 375.2H106.3V379.7H99.6ZM152.6 375.2H159.3V379.7H152.6ZM258.5 375.2H265.2V379.7H258.5ZM331.4 375.2H338.1V379.7H331.4ZM351.3 379.7H357.9V384.2H351.3ZM159.2 384.2H165.9V388.7H159.2ZM159.2 388.7H165.9V393.2H159.2ZM185.7 388.7H199.0V393.2H185.7ZM46.6 393.1H53.3V397.7H46.6ZM232.1 406.6H238.7V411.1H232.1Z"/>
<path shape-rendering="crispEdges" fill="#ff4a00" d="M99.6 312.5H106.3V317.0H99.6ZM265.2 316.9H271.8V321.5H265.2ZM99.6 321.4H106.3V326.0H99.6ZM99.6 325.9H106.3V330.4H99.6ZM278.4 330.4H285.1V334.9H278.4ZM225.4 334.9H232.1V339.4H225.4ZM285.0 334.9H291.7V339.4H285.0ZM225.4 339.4H232.1V343.9H225.4ZM278.4 339.4H285.1V343.9H278.4ZM304.9 339.4H311.6V343.9H304.9ZM185.7 357.3H192.4V361.8H185.7ZM218.8 361.8H225.5V366.3H218.8ZM331.4 361.8H338.1V366.3H331.4ZM212.2 370.7H218.9V375.3H212.2ZM179.1 384.2H185.7V388.7H179.1Z"/>
<path shape-rendering="crispEdges" fill="#ff5a00" d="M265.2 312.5H271.8V317.0H265.2ZM99.6 316.9H106.3V321.5H99.6ZM112.8 325.9H119.5V330.4H112.8ZM265.2 325.9H271.8V330.4H265.2ZM126.1 330.4H132.8V334.9H126.1ZM298.3 339.4H304.9V343.9H298.3ZM311.5 343.8H318.2V348.4H311.5ZM351.3 348.3H357.9V352.9H351.3ZM132.7 352.8H139.4V357.3H132.7ZM265.2 352.8H271.8V357.3H265.2ZM298.3 352.8H304.9V357.3H298.3ZM311.5 352.8H318.2V357.3H311.5ZM357.9 357.3H364.6V361.8H357.9ZM324.8 361.8H331.4V366.3H324.8ZM205.6 370.7H212.2V375.3H205.6ZM351.3 370.7H357.9V375.3H351.3ZM357.9 375.2H364.6V379.7H357.9ZM165.8 379.7H172.5V384.2H165.8ZM205.6 379.7H212.2V384.2H205.6ZM172.4 384.2H179.1V388.7H172.4ZM179.1 388.7H185.7V393.2H179.1ZM179.1 393.1H185.7V397.7H179.1ZM192.3 406.6H199.0V411.1H192.3Z"/>
<path shape-rendering="crispEdges" fill="#ff3900" d="M258.5 316.9H265.2V321.5H258.5ZM119.5 325.9H126.1V330.4H119.5ZM112.8 334.9H119.5V339.4H112.8ZM278.4 334.9H285.1V339.4H278.4ZM258.5 339.4H278.5V343.9H258.5ZM285.0 339.4H298.3V343.9H285.0ZM126.1 343.8H132.8V348.4H126.1ZM99.6 348.3H106.3V352.9H99.6ZM146.0 348.3H152.6V352.9H146.0ZM245.3 348.3H252.0V352.9H245.3ZM291.7 348.3H298.3V352.9H291.7ZM311.5 348.3H318.2V352.9H311.5ZM179.1 352.8H185.7V357.3H179.1ZM291.7 352.8H298.3V357.3H291.7ZM152.6 361.8H165.9V366.3H152.6ZM318.1 361.8H324.8V366.3H318.1ZM165.8 366.3H172.5V370.8H165.8ZM265.2 366.3H271.8V370.8H265.2ZM159.2 370.7H165.9V375.3H159.2ZM212.2 379.7H218.9V384.2H212.2ZM165.8 384.2H172.5V388.7H165.8ZM212.2 384.2H218.9V388.7H212.2ZM278.4 384.2H285.1V388.7H278.4ZM218.8 393.1H225.5V397.7H218.8ZM198.9 406.6H205.6V411.1H198.9Z"/>
<path shape-rendering="crispEdges" fill="#ff7c00" d="M112.8 330.4H119.5V334.9H112.8ZM218.8 330.4H225.5V334.9H218.8ZM212.2 334.9H218.9V339.4H212.2ZM212.2 339.4H218.9V343.9H212.2ZM298.3 343.8H304.9V348.4H298.3ZM338.0 343.8H344.7V348.4H338.0ZM344.6 348.3H351.3V352.9H344.6ZM318.1 352.8H324.8V357.3H318.1ZM351.3 352.8H364.6V357.3H351.3ZM212.2 357.3H218.9V361.8H212.2ZM251.9 357.3H258.6V361.8H251.9ZM318.1 357.3H324.8V361.8H318.1ZM331.4 357.3H338.1V361.8H331.4ZM338.0 361.8H344.7V366.3H338.0ZM159.2 366.3H165.9V370.8H159.2ZM172.4 379.7H179.1V384.2H172.4ZM225.4 397.6H232.1V402.2H225.4ZM192.3 402.1H199.0V406.6H192.3Z"/>
<path shape-rendering="crispEdges" fill="#ffbf00" d="M119.5 330.4H126.1V334.9H119.5ZM331.4 343.8H338.1V348.4H331.4ZM205.6 402.1H218.9V406.6H205.6Z"/>
<path shape-rendering="crispEdges" fill="#ff9d00" d="M265.2 330.4H271.8V334.9H265.2ZM119.5 334.9H126.1V339.4H119.5ZM132.7 343.8H139.4V348.4H132.7ZM304.9 343.8H311.6V348.4H304.9ZM265.2 348.3H271.8V352.9H265.2ZM318.1 348.3H324.8V352.9H318.1ZM324.8 352.8H331.4V357.3H324.8ZM344.6 366.3H351.3V370.8H344.6ZM185.7 393.1H192.4V397.7H185.7ZM185.7 397.6H192.4V402.2H185.7ZM225.4 402.1H232.1V406.6H225.4Z"/>
<path shape-rendering="crispEdges" fill="#fff100" d="M126.1 334.9H132.8V339.4H126.1ZM218.8 352.8H225.5V357.3H218.8ZM357.9 361.8H364.6V366.3H357.9ZM357.9 370.7H364.6V375.3H357.9Z"/>
<path shape-rendering="crispEdges" fill="#ffff36" d="M218.8 334.9H225.5V339.4H218.8ZM344.6 357.3H351.3V361.8H344.6Z"/>
<path shape-rendering="crispEdges" fill="#ff8d00" d="M357.9 334.9H364.6V339.4H357.9ZM212.2 348.3H218.9V352.9H212.2ZM304.9 352.8H311.6V357.3H304.9ZM218.8 357.3H225.5V361.8H218.8ZM212.2 361.8H218.9V366.3H212.2ZM205.6 384.2H212.2V388.7H205.6ZM205.6 388.7H212.2V393.2H205.6ZM205.6 393.1H212.2V397.7H205.6ZM179.1 397.6H185.7V402.2H179.1ZM205.6 397.6H212.2V402.2H205.6Z"/>
<path shape-rendering="crispEdges" fill="#ffe000" d="M126.1 339.4H132.8V343.9H126.1ZM218.8 339.4H225.5V343.9H218.8ZM357.9 339.4H364.6V343.9H357.9ZM218.8 343.8H225.5V348.4H218.8Z"/>
<path shape-rendering="crispEdges" fill="#ff6b00" d="M132.7 339.4H139.4V343.9H132.7ZM212.2 343.8H218.9V348.4H212.2ZM265.2 343.8H271.8V348.4H265.2ZM291.7 343.8H298.3V348.4H291.7ZM318.1 343.8H331.4V348.4H318.1ZM132.7 348.3H139.4V352.9H132.7ZM304.9 348.3H311.6V352.9H304.9ZM152.6 352.8H159.3V357.3H152.6ZM152.6 357.3H159.3V361.8H152.6ZM304.9 357.3H318.2V361.8H304.9ZM324.8 357.3H331.4V361.8H324.8ZM165.8 370.7H172.5V375.3H165.8ZM192.3 397.6H205.6V402.2H192.3ZM185.7 402.1H192.4V406.6H185.7Z"/>
<path shape-rendering="crispEdges" fill="#ffff68" d="M218.8 348.3H225.5V352.9H218.8Z"/>
<path shape-rendering="crispEdges" fill="#ffff1d" d="M324.8 348.3H338.1V352.9H324.8ZM331.4 352.8H338.1V357.3H331.4ZM357.9 366.3H364.6V370.8H357.9ZM212.2 397.6H218.9V402.2H212.2Z"/>
<path shape-rendering="crispEdges" fill="#ffff04" d="M338.0 348.3H344.7V352.9H338.0ZM351.3 366.3H357.9V370.8H351.3Z"/>
<path shape-rendering="crispEdges" fill="#ffae00" d="M146.0 352.8H152.6V357.3H146.0ZM212.2 366.3H218.9V370.8H212.2ZM198.9 402.1H205.6V406.6H198.9Z"/>
<path shape-rendering="crispEdges" fill="#ffcf00" d="M212.2 352.8H218.9V357.3H212.2ZM338.0 357.3H344.7V361.8H338.0ZM351.3 357.3H357.9V361.8H351.3ZM344.6 361.8H357.9V366.3H344.6ZM218.8 402.1H225.5V406.6H218.8Z"/>
<path shape-rendering="crispEdges" fill="#ffff4f" d="M338.0 352.8H344.7V357.3H338.0ZM218.8 397.6H225.5V402.2H218.8Z"/>
<path shape-rendering="crispEdges" fill="#ffff82" d="M344.6 352.8H351.3V357.3H344.6Z"/>
<rect x="40.00" y="242.0" width="6.62" height="12.2" fill="#5c54a4" stroke="#3a3478" stroke-width="0.9"/>
<rect x="46.62" y="242.0" width="6.62" height="12.2" fill="#5c54a4" stroke="#3a3478" stroke-width="0.9"/>
<rect x="53.24" y="242.0" width="6.62" height="12.2" fill="#5c54a4" stroke="#3a3478" stroke-width="0.9"/>
<rect x="59.87" y="242.0" width="6.62" height="12.2" fill="#5c54a4" stroke="#3a3478" stroke-width="0.9"/>
<rect x="66.49" y="242.0" width="6.62" height="12.2" fill="#5c54a4" stroke="#3a3478" stroke-width="0.9"/>
<rect x="73.11" y="242.0" width="6.62" height="12.2" fill="#5c54a4" stroke="#3a3478" stroke-width="0.9"/>
<rect x="79.73" y="242.0" width="6.62" height="12.2" fill="#5c54a4" stroke="#3a3478" stroke-width="0.9"/>
<rect x="86.36" y="242.0" width="6.62" height="12.2" fill="#5c54a4" stroke="#3a3478" stroke-width="0.9"/>
<rect x="92.98" y="242.0" width="6.62" height="12.2" fill="#5c54a4" stroke="#3a3478" stroke-width="0.9"/>
<rect x="99.60" y="242.0" width="6.62" height="12.2" fill="#5c54a4" stroke="#3a3478" stroke-width="0.9"/>
<rect x="106.22" y="242.0" width="6.62" height="12.2" fill="#5c54a4" stroke="#3a3478" stroke-width="0.9"/>
<rect x="112.85" y="242.0" width="6.62" height="12.2" fill="#5c54a4" stroke="#3a3478" stroke-width="0.9"/>
<rect x="119.47" y="242.0" width="6.62" height="12.2" fill="#5c54a4" stroke="#3a3478" stroke-width="0.9"/>
<rect x="126.09" y="242.0" width="6.62" height="12.2" fill="#5c54a4" stroke="#3a3478" stroke-width="0.9"/>
<rect x="132.71" y="242.0" width="6.62" height="12.2" fill="#5c54a4" stroke="#3a3478" stroke-width="0.9"/>
<rect x="139.34" y="242.0" width="6.62" height="12.2" fill="#5c54a4" stroke="#3a3478" stroke-width="0.9"/>
<rect x="145.96" y="242.0" width="6.62" height="12.2" fill="#5c54a4" stroke="#3a3478" stroke-width="0.9"/>
<rect x="152.58" y="242.0" width="6.62" height="12.2" fill="#5c54a4" stroke="#3a3478" stroke-width="0.9"/>
<rect x="159.20" y="242.0" width="6.62" height="12.2" fill="#5c54a4" stroke="#3a3478" stroke-width="0.9"/>
<rect x="165.83" y="242.0" width="6.62" height="12.2" fill="#5c54a4" stroke="#3a3478" stroke-width="0.9"/>
<rect x="172.45" y="242.0" width="6.62" height="12.2" fill="#5c54a4" stroke="#3a3478" stroke-width="0.9"/>
<rect x="179.07" y="242.0" width="6.62" height="12.2" fill="#5c54a4" stroke="#3a3478" stroke-width="0.9"/>
<rect x="185.69" y="242.0" width="6.62" height="12.2" fill="#5663aa" stroke="#3a3478" stroke-width="0.9"/>
<rect x="192.32" y="242.0" width="6.62" height="12.2" fill="#5071b0" stroke="#3a3478" stroke-width="0.9"/>
<rect x="198.94" y="242.0" width="6.62" height="12.2" fill="#4a80b6" stroke="#3a3478" stroke-width="0.9"/>
<rect x="205.56" y="242.0" width="6.62" height="12.2" fill="#74c7a5" stroke="#3a3478" stroke-width="0.9"/>
<rect x="212.18" y="242.0" width="6.62" height="12.2" fill="#fdb365" stroke="#3a3478" stroke-width="0.9"/>
<rect x="218.81" y="242.0" width="6.62" height="12.2" fill="#ceeb9d" stroke="#3a3478" stroke-width="0.9"/>
<rect x="225.43" y="242.0" width="6.62" height="12.2" fill="#4e76b2" stroke="#3a3478" stroke-width="0.9"/>
<rect x="232.05" y="242.0" width="6.62" height="12.2" fill="#5a59a6" stroke="#3a3478" stroke-width="0.9"/>
<rect x="238.67" y="242.0" width="6.62" height="12.2" fill="#5a59a6" stroke="#3a3478" stroke-width="0.9"/>
<rect x="245.30" y="242.0" width="6.62" height="12.2" fill="#5a59a6" stroke="#3a3478" stroke-width="0.9"/>
<rect x="251.92" y="242.0" width="6.62" height="12.2" fill="#5a59a6" stroke="#3a3478" stroke-width="0.9"/>
<rect x="258.54" y="242.0" width="6.62" height="12.2" fill="#5a59a6" stroke="#3a3478" stroke-width="0.9"/>
<rect x="265.16" y="242.0" width="6.62" height="12.2" fill="#5a59a6" stroke="#3a3478" stroke-width="0.9"/>
<rect x="271.79" y="242.0" width="6.62" height="12.2" fill="#5a59a6" stroke="#3a3478" stroke-width="0.9"/>
<rect x="278.41" y="242.0" width="6.62" height="12.2" fill="#5a59a6" stroke="#3a3478" stroke-width="0.9"/>
<rect x="285.03" y="242.0" width="6.62" height="12.2" fill="#5a59a6" stroke="#3a3478" stroke-width="0.9"/>
<rect x="291.65" y="242.0" width="6.62" height="12.2" fill="#5a59a6" stroke="#3a3478" stroke-width="0.9"/>
<rect x="298.28" y="242.0" width="6.62" height="12.2" fill="#5a59a6" stroke="#3a3478" stroke-width="0.9"/>
<rect x="304.90" y="242.0" width="6.62" height="12.2" fill="#5a59a6" stroke="#3a3478" stroke-width="0.9"/>
<rect x="311.52" y="242.0" width="6.62" height="12.2" fill="#5a59a6" stroke="#3a3478" stroke-width="0.9"/>
<rect x="318.14" y="242.0" width="6.62" height="12.2" fill="#5a59a6" stroke="#3a3478" stroke-width="0.9"/>
<rect x="324.77" y="242.0" width="6.62" height="12.2" fill="#526cae" stroke="#3a3478" stroke-width="0.9"/>
<rect x="331.39" y="242.0" width="6.62" height="12.2" fill="#559aaf" stroke="#3a3478" stroke-width="0.9"/>
<rect x="338.01" y="242.0" width="6.62" height="12.2" fill="#559aaf" stroke="#3a3478" stroke-width="0.9"/>
<rect x="344.63" y="242.0" width="6.62" height="12.2" fill="#526cae" stroke="#3a3478" stroke-width="0.9"/>
<rect x="351.26" y="242.0" width="6.62" height="12.2" fill="#5e4fa2" stroke="#3a3478" stroke-width="0.9"/>
<rect x="357.88" y="242.0" width="6.62" height="12.2" fill="#5e4fa2" stroke="#3a3478" stroke-width="0.9"/>
<rect x="40.0" y="454.5" width="324.5" height="175.1" fill="#0b0000"/>
<path shape-rendering="crispEdges" fill="#b20000" d="M99.6 481.7H106.3V486.2H99.6ZM66.5 504.1H79.8V508.6H66.5ZM112.8 522.0H119.5V526.6H112.8ZM86.4 526.5H93.0V531.0H86.4ZM132.7 531.0H139.4V535.5H132.7ZM251.9 540.0H258.6V544.5H251.9ZM79.7 544.4H86.4V549.0H79.7ZM205.6 544.4H212.2V549.0H205.6ZM245.3 544.4H252.0V549.0H245.3ZM146.0 548.9H159.3V553.5H146.0ZM40.0 553.4H46.7V557.9H40.0ZM99.6 553.4H106.3V557.9H99.6ZM112.8 553.4H119.5V557.9H112.8ZM192.3 553.4H199.0V557.9H192.3ZM66.5 562.4H73.2V566.9H66.5ZM106.2 562.4H112.9V566.9H106.2ZM40.0 566.9H46.7V571.4H40.0ZM265.2 566.9H271.8V571.4H265.2ZM132.7 575.8H139.4V580.3H132.7ZM218.8 575.8H225.5V580.3H218.8ZM251.9 575.8H265.2V580.3H251.9ZM338.0 575.8H344.7V580.3H338.0ZM73.1 580.3H79.8V584.8H73.1ZM344.6 580.3H351.3V584.8H344.6ZM46.6 584.8H53.3V589.3H46.6ZM79.7 584.8H86.4V589.3H79.7ZM159.2 584.8H165.9V589.3H159.2ZM66.5 589.3H73.2V593.8H66.5ZM86.4 589.3H93.0V593.8H86.4ZM159.2 589.3H165.9V593.8H159.2ZM291.7 589.3H298.3V593.8H291.7ZM218.8 607.2H225.5V611.7H218.8Z"/>
<path shape-rendering="crispEdges" fill="#5e0000" d="M73.1 495.1H79.8V499.7H73.1ZM99.6 495.1H106.3V499.7H99.6ZM66.5 499.6H73.2V504.2H66.5ZM59.9 504.1H66.5V508.6H59.9ZM53.2 508.6H59.9V513.1H53.2ZM278.4 513.1H285.1V517.6H278.4ZM73.1 517.5H79.8V522.1H73.1ZM86.4 531.0H93.0V535.5H86.4ZM251.9 531.0H258.6V535.5H251.9ZM304.9 531.0H311.6V535.5H304.9ZM331.4 535.5H338.1V540.0H331.4ZM192.3 544.4H199.0V549.0H192.3ZM40.0 557.9H46.7V562.4H40.0ZM192.3 557.9H199.0V562.4H192.3ZM232.1 557.9H238.7V562.4H232.1ZM165.8 562.4H172.5V566.9H165.8ZM179.1 562.4H185.7V566.9H179.1ZM285.0 562.4H291.7V566.9H285.0ZM86.4 571.3H99.7V575.9H86.4ZM265.2 571.3H271.8V575.9H265.2ZM192.3 575.8H199.0V580.3H192.3ZM271.8 575.8H278.5V580.3H271.8ZM285.0 575.8H291.7V580.3H285.0ZM344.6 575.8H351.3V580.3H344.6ZM132.7 580.3H139.4V584.8H132.7ZM271.8 580.3H278.5V584.8H271.8ZM291.7 580.3H298.3V584.8H291.7ZM40.0 584.8H46.7V589.3H40.0ZM285.0 584.8H291.7V589.3H285.0ZM304.9 584.8H318.2V589.3H304.9ZM159.2 598.2H165.9V602.8H159.2ZM165.8 602.7H172.5V607.2H165.8ZM205.6 611.7H212.2V616.2H205.6ZM198.9 616.2H205.6V620.7H198.9Z"/>
<path shape-rendering="crispEdges" fill="#3d0000" d="M79.7 495.1H86.4V499.7H79.7ZM265.2 508.6H271.8V513.1H265.2ZM86.4 513.1H93.0V517.6H86.4ZM93.0 517.5H99.7V522.1H93.0ZM251.9 522.0H258.6V526.6H251.9ZM73.1 531.0H79.8V535.5H73.1ZM53.2 540.0H59.9V544.5H53.2ZM185.7 540.0H192.4V544.5H185.7ZM73.1 544.4H79.8V549.0H73.1ZM238.7 544.4H245.3V549.0H238.7ZM53.2 548.9H59.9V553.5H53.2ZM66.5 571.3H73.2V575.9H66.5ZM99.6 571.3H106.3V575.9H99.6ZM232.1 571.3H238.7V575.9H232.1ZM245.3 571.3H258.6V575.9H245.3ZM126.1 575.8H132.8V580.3H126.1ZM265.2 575.8H271.8V580.3H265.2ZM251.9 584.8H265.2V589.3H251.9ZM298.3 584.8H304.9V589.3H298.3ZM258.5 589.3H265.2V593.8H258.5ZM298.3 589.3H304.9V593.8H298.3ZM99.6 598.2H106.3V602.8H99.6ZM40.0 607.2H46.7V611.7H40.0Z"/>
<path shape-rendering="crispEdges" fill="#800000" d="M53.2 499.6H59.9V504.2H53.2ZM73.1 499.6H79.8V504.2H73.1ZM271.8 513.1H278.5V517.6H271.8ZM99.6 517.5H106.3V522.1H99.6ZM258.5 517.5H265.2V522.1H258.5ZM291.7 517.5H298.3V522.1H291.7ZM93.0 522.0H99.7V526.6H93.0ZM99.6 526.5H106.3V531.0H99.6ZM126.1 526.5H132.8V531.0H126.1ZM53.2 531.0H59.9V535.5H53.2ZM53.2 535.5H59.9V540.0H53.2ZM251.9 535.5H258.6V540.0H251.9ZM318.1 535.5H324.8V540.0H318.1ZM66.5 540.0H73.2V544.5H66.5ZM205.6 540.0H212.2V544.5H205.6ZM152.6 544.4H159.3V549.0H152.6ZM258.5 548.9H265.2V553.5H258.5ZM79.7 553.4H86.4V557.9H79.7ZM232.1 553.4H238.7V557.9H232.1ZM165.8 557.9H172.5V562.4H165.8ZM198.9 562.4H205.6V566.9H198.9ZM251.9 562.4H258.6V566.9H251.9ZM99.6 566.9H106.3V571.4H99.6ZM245.3 566.9H252.0V571.4H245.3ZM271.8 571.3H278.5V575.9H271.8ZM278.4 575.8H285.1V580.3H278.4ZM304.9 580.3H318.2V584.8H304.9ZM331.4 580.3H338.1V584.8H331.4ZM271.8 584.8H278.5V589.3H271.8ZM291.7 584.8H298.3V589.3H291.7ZM146.0 589.3H159.3V593.8H146.0ZM285.0 589.3H291.7V593.8H285.0ZM152.6 593.7H165.9V598.3H152.6ZM298.3 593.7H304.9V598.3H298.3ZM46.6 607.2H53.3V611.7H46.6ZM185.7 611.7H192.4V616.2H185.7Z"/>
<path shape-rendering="crispEdges" fill="#6f0000" d="M86.4 499.6H93.0V504.2H86.4ZM46.6 508.6H53.3V513.1H46.6ZM265.2 513.1H271.8V517.6H265.2ZM285.0 513.1H291.7V517.6H285.0ZM298.3 522.0H304.9V526.6H298.3ZM66.5 526.5H73.2V531.0H66.5ZM251.9 526.5H258.6V531.0H251.9ZM86.4 540.0H93.0V544.5H86.4ZM139.3 540.0H146.0V544.5H139.3ZM245.3 540.0H252.0V544.5H245.3ZM66.5 544.4H73.2V549.0H66.5ZM185.7 544.4H192.4V549.0H185.7ZM40.0 548.9H46.7V553.5H40.0ZM66.5 548.9H73.2V553.5H66.5ZM159.2 548.9H165.9V553.5H159.2ZM53.2 553.4H59.9V557.9H53.2ZM185.7 553.4H192.4V557.9H185.7ZM53.2 562.4H59.9V566.9H53.2ZM232.1 562.4H238.7V566.9H232.1ZM119.5 566.9H126.1V571.4H119.5ZM132.7 566.9H139.4V571.4H132.7ZM238.7 566.9H245.3V571.4H238.7ZM40.0 571.3H46.7V575.9H40.0ZM126.1 571.3H132.8V575.9H126.1ZM172.4 571.3H179.1V575.9H172.4ZM185.7 571.3H192.4V575.9H185.7ZM258.5 571.3H265.2V575.9H258.5ZM86.4 580.3H93.0V584.8H86.4ZM218.8 580.3H225.5V584.8H218.8ZM298.3 580.3H304.9V584.8H298.3ZM318.1 580.3H331.4V584.8H318.1ZM93.0 584.8H99.7V589.3H93.0ZM218.8 584.8H225.5V589.3H218.8ZM99.6 589.3H106.3V593.8H99.6ZM278.4 589.3H285.1V593.8H278.4ZM172.4 607.2H179.1V611.7H172.4Z"/>
<path shape-rendering="crispEdges" fill="#910000" d="M93.0 499.6H99.7V504.2H93.0ZM53.2 504.1H59.9V508.6H53.2ZM258.5 513.1H265.2V517.6H258.5ZM79.7 517.5H86.4V522.1H79.7ZM73.1 522.0H79.8V526.6H73.1ZM132.7 535.5H139.4V540.0H132.7ZM351.3 535.5H357.9V540.0H351.3ZM59.9 540.0H66.5V544.5H59.9ZM73.1 540.0H79.8V544.5H73.1ZM112.8 540.0H119.5V544.5H112.8ZM146.0 540.0H152.6V544.5H146.0ZM165.8 553.4H172.5V557.9H165.8ZM258.5 553.4H265.2V557.9H258.5ZM198.9 557.9H205.6V562.4H198.9ZM112.8 562.4H119.5V566.9H112.8ZM172.4 562.4H179.1V566.9H172.4ZM238.7 562.4H245.3V566.9H238.7ZM73.1 566.9H99.7V571.4H73.1ZM126.1 566.9H132.8V571.4H126.1ZM225.4 566.9H232.1V571.4H225.4ZM251.9 566.9H258.6V571.4H251.9ZM291.7 566.9H298.3V571.4H291.7ZM46.6 571.3H53.3V575.9H46.6ZM59.9 571.3H66.5V575.9H59.9ZM291.7 571.3H298.3V575.9H291.7ZM152.6 575.8H159.3V580.3H152.6ZM46.6 580.3H53.3V584.8H46.6ZM192.3 580.3H199.0V584.8H192.3ZM265.2 580.3H271.8V584.8H265.2ZM351.3 580.3H364.6V584.8H351.3ZM73.1 584.8H79.8V589.3H73.1ZM139.3 584.8H152.6V589.3H139.3ZM93.0 589.3H99.7V593.8H93.0ZM172.4 593.7H179.1V598.3H172.4ZM285.0 593.7H291.7V598.3H285.0ZM46.6 598.2H53.3V602.8H46.6ZM172.4 602.7H179.1V607.2H172.4ZM198.9 607.2H205.6V611.7H198.9ZM225.4 607.2H232.1V611.7H225.4Z"/>
<path shape-rendering="crispEdges" fill="#4e0000" d="M79.7 504.1H86.4V508.6H79.7ZM106.2 513.1H112.9V517.6H106.2ZM66.5 522.0H73.2V526.6H66.5ZM298.3 531.0H304.9V535.5H298.3ZM79.7 540.0H86.4V544.5H79.7ZM86.4 544.4H93.0V549.0H86.4ZM179.1 544.4H185.7V549.0H179.1ZM86.4 548.9H93.0V553.5H86.4ZM185.7 548.9H192.4V553.5H185.7ZM172.4 557.9H179.1V562.4H172.4ZM106.2 566.9H112.9V571.4H106.2ZM79.7 571.3H86.4V575.9H79.7ZM238.7 571.3H245.3V575.9H238.7ZM53.2 575.8H59.9V580.3H53.2ZM73.1 575.8H79.8V580.3H73.1ZM232.1 575.8H238.7V580.3H232.1ZM93.0 580.3H99.7V584.8H93.0ZM245.3 580.3H252.0V584.8H245.3ZM245.3 584.8H252.0V589.3H245.3ZM46.6 589.3H53.3V593.8H46.6ZM311.5 589.3H318.2V593.8H311.5ZM79.7 593.7H86.4V598.3H79.7ZM99.6 593.7H106.3V598.3H99.6ZM271.8 593.7H285.1V598.3H271.8ZM93.0 598.2H99.7V602.8H93.0Z"/>
<path shape-rendering="crispEdges" fill="#c30000" d="M106.2 517.5H112.9V522.1H106.2ZM285.0 517.5H291.7V522.1H285.0ZM285.0 526.5H291.7V531.0H285.0ZM93.0 531.0H99.7V535.5H93.0ZM212.2 531.0H218.9V535.5H212.2ZM265.2 531.0H271.8V535.5H265.2ZM285.0 535.5H291.7V540.0H285.0ZM311.5 535.5H318.2V540.0H311.5ZM311.5 540.0H318.2V544.5H311.5ZM324.8 540.0H331.4V544.5H324.8ZM338.0 540.0H344.7V544.5H338.0ZM93.0 544.4H99.7V549.0H93.0ZM106.2 544.4H112.9V549.0H106.2ZM146.0 544.4H152.6V549.0H146.0ZM73.1 548.9H79.8V553.5H73.1ZM152.6 553.4H159.3V557.9H152.6ZM192.3 562.4H199.0V566.9H192.3ZM258.5 562.4H265.2V566.9H258.5ZM46.6 566.9H53.3V571.4H46.6ZM66.5 566.9H73.2V571.4H66.5ZM165.8 566.9H179.1V571.4H165.8ZM198.9 566.9H205.6V571.4H198.9ZM271.8 566.9H278.5V571.4H271.8ZM40.0 575.8H46.7V580.3H40.0ZM357.9 575.8H364.6V580.3H357.9ZM185.7 580.3H192.4V584.8H185.7ZM258.5 580.3H265.2V584.8H258.5ZM152.6 584.8H159.3V589.3H152.6ZM278.4 584.8H285.1V589.3H278.4ZM40.0 593.7H53.3V598.3H40.0ZM232.1 602.7H238.7V607.2H232.1ZM192.3 616.2H199.0V620.7H192.3Z"/>
<path shape-rendering="crispEdges" fill="#d30000" d="M265.2 517.5H271.8V522.1H265.2ZM278.4 517.5H285.1V522.1H278.4ZM86.4 522.0H93.0V526.6H86.4ZM258.5 522.0H265.2V526.6H258.5ZM106.2 526.5H112.9V531.0H106.2ZM265.2 526.5H271.8V531.0H265.2ZM66.5 531.0H73.2V535.5H66.5ZM271.8 531.0H285.1V535.5H271.8ZM79.7 535.5H86.4V540.0H79.7ZM258.5 535.5H265.2V540.0H258.5ZM106.2 540.0H112.9V544.5H106.2ZM351.3 540.0H357.9V544.5H351.3ZM139.3 544.4H146.0V549.0H139.3ZM311.5 544.4H318.2V549.0H311.5ZM245.3 548.9H252.0V553.5H245.3ZM86.4 553.4H93.0V557.9H86.4ZM159.2 553.4H165.9V557.9H159.2ZM126.1 557.9H132.8V562.4H126.1ZM159.2 557.9H165.9V562.4H159.2ZM251.9 557.9H258.6V562.4H251.9ZM119.5 562.4H126.1V566.9H119.5ZM225.4 562.4H232.1V566.9H225.4ZM265.2 562.4H271.8V566.9H265.2ZM165.8 571.3H172.5V575.9H165.8ZM198.9 571.3H205.6V575.9H198.9ZM311.5 571.3H318.2V575.9H311.5ZM331.4 571.3H338.1V575.9H331.4ZM198.9 575.8H205.6V580.3H198.9ZM318.1 575.8H324.8V580.3H318.1ZM172.4 580.3H179.1V584.8H172.4ZM251.9 580.3H258.6V584.8H251.9ZM192.3 584.8H199.0V589.3H192.3ZM165.8 589.3H172.5V593.8H165.8ZM198.9 593.7H212.2V598.3H198.9ZM172.4 598.2H179.1V602.8H172.4ZM46.6 602.7H53.3V607.2H46.6ZM179.1 602.7H185.7V607.2H179.1ZM179.1 607.2H185.7V611.7H179.1Z"/>
<path shape-rendering="crispEdges" fill="#a10000" d="M271.8 517.5H278.5V522.1H271.8ZM106.2 522.0H112.9V526.6H106.2ZM119.5 522.0H126.1V526.6H119.5ZM271.8 522.0H278.5V526.6H271.8ZM59.9 531.0H66.5V535.5H59.9ZM126.1 531.0H132.8V535.5H126.1ZM225.4 531.0H232.1V535.5H225.4ZM285.0 531.0H291.7V535.5H285.0ZM139.3 535.5H146.0V540.0H139.3ZM324.8 535.5H331.4V540.0H324.8ZM338.0 535.5H344.7V540.0H338.0ZM46.6 548.9H53.3V553.5H46.6ZM106.2 548.9H112.9V553.5H106.2ZM192.3 548.9H199.0V553.5H192.3ZM238.7 548.9H245.3V553.5H238.7ZM73.1 553.4H79.8V557.9H73.1ZM198.9 553.4H205.6V557.9H198.9ZM106.2 557.9H112.9V562.4H106.2ZM119.5 557.9H126.1V562.4H119.5ZM185.7 557.9H192.4V562.4H185.7ZM40.0 562.4H46.7V566.9H40.0ZM99.6 562.4H106.3V566.9H99.6ZM179.1 566.9H185.7V571.4H179.1ZM159.2 571.3H165.9V575.9H159.2ZM179.1 571.3H185.7V575.9H179.1ZM285.0 571.3H291.7V575.9H285.0ZM298.3 571.3H304.9V575.9H298.3ZM46.6 575.8H53.3V580.3H46.6ZM238.7 575.8H245.3V580.3H238.7ZM298.3 575.8H318.2V580.3H298.3ZM324.8 575.8H338.1V580.3H324.8ZM139.3 580.3H152.6V584.8H139.3ZM238.7 580.3H245.3V584.8H238.7ZM338.0 580.3H344.7V584.8H338.0ZM212.2 589.3H218.9V593.8H212.2ZM271.8 589.3H278.5V593.8H271.8ZM304.9 589.3H311.6V593.8H304.9ZM225.4 593.7H232.1V598.3H225.4ZM232.1 598.2H238.7V602.8H232.1Z"/>
<path shape-rendering="crispEdges" fill="#ff3900" d="M79.7 522.0H86.4V526.6H79.7ZM278.4 526.5H285.1V531.0H278.4ZM106.2 535.5H112.9V540.0H106.2ZM126.1 535.5H132.8V540.0H126.1ZM265.2 535.5H271.8V540.0H265.2ZM132.7 540.0H139.4V544.5H132.7ZM212.2 540.0H218.9V544.5H212.2ZM271.8 540.0H278.5V544.5H271.8ZM331.4 540.0H338.1V544.5H331.4ZM225.4 544.4H232.1V549.0H225.4ZM285.0 544.4H291.7V549.0H285.0ZM298.3 544.4H304.9V549.0H298.3ZM324.8 544.4H331.4V549.0H324.8ZM344.6 544.4H351.3V549.0H344.6ZM265.2 548.9H271.8V553.5H265.2ZM119.5 553.4H126.1V557.9H119.5ZM139.3 553.4H146.0V557.9H139.3ZM311.5 553.4H318.2V557.9H311.5ZM146.0 557.9H152.6V562.4H146.0ZM298.3 557.9H304.9V562.4H298.3ZM331.4 562.4H338.1V566.9H331.4ZM344.6 562.4H351.3V566.9H344.6ZM139.3 566.9H146.0V571.4H139.3ZM311.5 566.9H318.2V571.4H311.5ZM324.8 566.9H331.4V571.4H324.8ZM338.0 566.9H344.7V571.4H338.0ZM357.9 566.9H364.6V571.4H357.9ZM159.2 575.8H165.9V580.3H159.2ZM198.9 584.8H205.6V589.3H198.9ZM218.8 593.7H225.5V598.3H218.8ZM179.1 598.2H185.7V602.8H179.1ZM225.4 598.2H232.1V602.8H225.4Z"/>
<path shape-rendering="crispEdges" fill="#ff1700" d="M99.6 522.0H106.3V526.6H99.6ZM265.2 522.0H271.8V526.6H265.2ZM291.7 526.5H298.3V531.0H291.7ZM99.6 531.0H106.3V535.5H99.6ZM73.1 535.5H79.8V540.0H73.1ZM93.0 535.5H99.7V540.0H93.0ZM212.2 535.5H218.9V540.0H212.2ZM225.4 535.5H232.1V540.0H225.4ZM344.6 535.5H351.3V540.0H344.6ZM251.9 544.4H265.2V549.0H251.9ZM304.9 544.4H311.6V549.0H304.9ZM132.7 548.9H139.4V553.5H132.7ZM225.4 548.9H232.1V553.5H225.4ZM278.4 548.9H285.1V553.5H278.4ZM106.2 553.4H112.9V557.9H106.2ZM238.7 553.4H252.0V557.9H238.7ZM265.2 553.4H271.8V557.9H265.2ZM73.1 557.9H93.0V562.4H73.1ZM245.3 557.9H252.0V562.4H245.3ZM258.5 557.9H265.2V562.4H258.5ZM278.4 557.9H285.1V562.4H278.4ZM46.6 562.4H53.3V566.9H46.6ZM59.9 562.4H66.5V566.9H59.9ZM132.7 562.4H139.4V566.9H132.7ZM324.8 562.4H331.4V566.9H324.8ZM146.0 566.9H159.3V571.4H146.0ZM139.3 571.3H152.6V575.9H139.3ZM40.0 580.3H46.7V584.8H40.0ZM165.8 584.8H172.5V589.3H165.8ZM185.7 584.8H192.4V589.3H185.7ZM40.0 602.7H46.7V607.2H40.0ZM185.7 607.2H192.4V611.7H185.7ZM205.6 607.2H212.2V611.7H205.6ZM192.3 611.7H199.0V616.2H192.3Z"/>
<path shape-rendering="crispEdges" fill="#ff5a00" d="M278.4 522.0H285.1V526.6H278.4ZM271.8 526.5H278.5V531.0H271.8ZM112.8 535.5H119.5V540.0H112.8ZM357.9 540.0H364.6V544.5H357.9ZM119.5 544.4H126.1V549.0H119.5ZM132.7 553.4H139.4V557.9H132.7ZM285.0 553.4H291.7V557.9H285.0ZM152.6 557.9H159.3V562.4H152.6ZM291.7 557.9H298.3V562.4H291.7ZM311.5 557.9H318.2V562.4H311.5ZM298.3 562.4H304.9V566.9H298.3ZM318.1 562.4H324.8V566.9H318.1ZM205.6 566.9H212.2V571.4H205.6ZM212.2 575.8H218.9V580.3H212.2ZM179.1 584.8H185.7V589.3H179.1ZM185.7 598.2H192.4V602.8H185.7Z"/>
<path shape-rendering="crispEdges" fill="#ff0700" d="M291.7 522.0H298.3V526.6H291.7ZM79.7 531.0H86.4V535.5H79.7ZM99.6 535.5H106.3V540.0H99.6ZM93.0 540.0H99.7V544.5H93.0ZM298.3 540.0H304.9V544.5H298.3ZM99.6 544.4H106.3V549.0H99.6ZM132.7 544.4H139.4V549.0H132.7ZM99.6 548.9H106.3V553.5H99.6ZM311.5 548.9H318.2V553.5H311.5ZM46.6 553.4H53.3V557.9H46.6ZM126.1 553.4H132.8V557.9H126.1ZM66.5 557.9H73.2V562.4H66.5ZM79.7 562.4H86.4V566.9H79.7ZM93.0 562.4H99.7V566.9H93.0ZM126.1 562.4H132.8V566.9H126.1ZM205.6 562.4H212.2V566.9H205.6ZM331.4 566.9H338.1V571.4H331.4ZM318.1 571.3H324.8V575.9H318.1ZM338.0 571.3H344.7V575.9H338.0ZM179.1 575.8H185.7V580.3H179.1ZM40.0 589.3H46.7V593.8H40.0ZM198.9 589.3H205.6V593.8H198.9ZM212.2 607.2H218.9V611.7H212.2ZM198.9 611.7H205.6V616.2H198.9Z"/>
<path shape-rendering="crispEdges" fill="#f50000" d="M93.0 526.5H99.7V531.0H93.0ZM112.8 526.5H119.5V531.0H112.8ZM106.2 531.0H112.9V535.5H106.2ZM218.8 531.0H225.5V535.5H218.8ZM357.9 531.0H364.6V535.5H357.9ZM265.2 540.0H271.8V544.5H265.2ZM291.7 540.0H298.3V544.5H291.7ZM304.9 540.0H311.6V544.5H304.9ZM59.9 548.9H66.5V553.5H59.9ZM139.3 548.9H146.0V553.5H139.3ZM271.8 548.9H278.5V553.5H271.8ZM205.6 553.4H212.2V557.9H205.6ZM291.7 553.4H298.3V557.9H291.7ZM205.6 557.9H212.2V562.4H205.6ZM86.4 562.4H93.0V566.9H86.4ZM159.2 562.4H165.9V566.9H159.2ZM271.8 562.4H278.5V566.9H271.8ZM218.8 566.9H225.5V571.4H218.8ZM278.4 566.9H285.1V571.4H278.4ZM152.6 571.3H159.3V575.9H152.6ZM218.8 571.3H225.5V575.9H218.8ZM278.4 571.3H285.1V575.9H278.4ZM344.6 571.3H351.3V575.9H344.6ZM139.3 575.8H146.0V580.3H139.3ZM159.2 580.3H165.9V584.8H159.2ZM179.1 589.3H185.7V593.8H179.1ZM212.2 593.7H218.9V598.3H212.2Z"/>
<path shape-rendering="crispEdges" fill="#ff2800" d="M119.5 526.5H126.1V531.0H119.5ZM112.8 531.0H119.5V535.5H112.8ZM99.6 540.0H106.3V544.5H99.6ZM225.4 553.4H232.1V557.9H225.4ZM99.6 557.9H106.3V562.4H99.6ZM132.7 557.9H139.4V562.4H132.7ZM265.2 557.9H271.8V562.4H265.2ZM304.9 557.9H311.6V562.4H304.9ZM304.9 562.4H318.2V566.9H304.9ZM198.9 580.3H205.6V584.8H198.9ZM212.2 580.3H218.9V584.8H212.2ZM185.7 589.3H192.4V593.8H185.7Z"/>
<path shape-rendering="crispEdges" fill="#ff6b00" d="M119.5 531.0H126.1V535.5H119.5ZM212.2 544.4H218.9V549.0H212.2ZM291.7 544.4H298.3V549.0H291.7ZM318.1 544.4H324.8V549.0H318.1ZM126.1 548.9H132.8V553.5H126.1ZM298.3 548.9H304.9V553.5H298.3ZM318.1 548.9H324.8V553.5H318.1ZM324.8 553.4H331.4V557.9H324.8ZM139.3 557.9H146.0V562.4H139.3ZM318.1 557.9H324.8V562.4H318.1ZM212.2 566.9H218.9V571.4H212.2ZM318.1 566.9H324.8V571.4H318.1ZM205.6 571.3H212.2V575.9H205.6ZM357.9 571.3H364.6V575.9H357.9ZM172.4 584.8H179.1V589.3H172.4ZM192.3 593.7H199.0V598.3H192.3ZM198.9 598.2H205.6V602.8H198.9ZM192.3 602.7H199.0V607.2H192.3ZM192.3 607.2H199.0V611.7H192.3Z"/>
<path shape-rendering="crispEdges" fill="#e40000" d="M258.5 531.0H265.2V535.5H258.5ZM291.7 535.5H298.3V540.0H291.7ZM304.9 535.5H311.6V540.0H304.9ZM258.5 540.0H265.2V544.5H258.5ZM112.8 544.4H119.5V549.0H112.8ZM79.7 548.9H86.4V553.5H79.7ZM93.0 548.9H99.7V553.5H93.0ZM112.8 548.9H119.5V553.5H112.8ZM205.6 548.9H212.2V553.5H205.6ZM59.9 553.4H73.2V557.9H59.9ZM251.9 553.4H258.6V557.9H251.9ZM93.0 557.9H99.7V562.4H93.0ZM225.4 557.9H232.1V562.4H225.4ZM238.7 557.9H245.3V562.4H238.7ZM245.3 562.4H252.0V566.9H245.3ZM53.2 566.9H59.9V571.4H53.2ZM159.2 566.9H165.9V571.4H159.2ZM258.5 566.9H265.2V571.4H258.5ZM285.0 566.9H291.7V571.4H285.0ZM298.3 566.9H311.6V571.4H298.3ZM132.7 571.3H139.4V575.9H132.7ZM304.9 571.3H311.6V575.9H304.9ZM172.4 575.8H179.1V580.3H172.4ZM351.3 575.8H357.9V580.3H351.3ZM152.6 580.3H159.3V584.8H152.6ZM179.1 580.3H185.7V584.8H179.1ZM212.2 584.8H218.9V589.3H212.2ZM165.8 593.7H172.5V598.3H165.8ZM40.0 598.2H46.7V602.8H40.0Z"/>
<path shape-rendering="crispEdges" fill="#ff4a00" d="M291.7 531.0H298.3V535.5H291.7ZM126.1 540.0H132.8V544.5H126.1ZM225.4 540.0H232.1V544.5H225.4ZM278.4 540.0H285.1V544.5H278.4ZM351.3 544.4H357.9V549.0H351.3ZM251.9 548.9H258.6V553.5H251.9ZM146.0 553.4H152.6V557.9H146.0ZM318.1 553.4H324.8V557.9H318.1ZM271.8 557.9H278.5V562.4H271.8ZM285.0 557.9H291.7V562.4H285.0ZM139.3 562.4H146.0V566.9H139.3ZM278.4 562.4H285.1V566.9H278.4ZM344.6 566.9H351.3V571.4H344.6ZM351.3 571.3H357.9V575.9H351.3ZM205.6 575.8H212.2V580.3H205.6ZM165.8 580.3H172.5V584.8H165.8ZM192.3 589.3H199.0V593.8H192.3ZM205.6 589.3H212.2V593.8H205.6Z"/>
<path shape-rendering="crispEdges" fill="#ffbf00" d="M119.5 535.5H126.1V540.0H119.5ZM119.5 540.0H126.1V544.5H119.5ZM291.7 548.9H298.3V553.5H291.7ZM351.3 548.9H357.9V553.5H351.3ZM198.9 602.7H205.6V607.2H198.9Z"/>
<path shape-rendering="crispEdges" fill="#ff8d00" d="M218.8 535.5H225.5V540.0H218.8ZM285.0 540.0H291.7V544.5H285.0ZM357.9 544.4H364.6V549.0H357.9ZM285.0 548.9H291.7V553.5H285.0ZM357.9 548.9H364.6V553.5H357.9ZM212.2 557.9H218.9V562.4H212.2ZM331.4 557.9H338.1V562.4H331.4ZM212.2 562.4H218.9V566.9H212.2ZM357.9 562.4H364.6V566.9H357.9ZM165.8 575.8H172.5V580.3H165.8ZM205.6 580.3H212.2V584.8H205.6ZM179.1 593.7H185.7V598.3H179.1Z"/>
<path shape-rendering="crispEdges" fill="#ffae00" d="M271.8 535.5H278.5V540.0H271.8ZM126.1 544.4H132.8V549.0H126.1ZM265.2 544.4H271.8V549.0H265.2ZM212.2 548.9H218.9V553.5H212.2ZM298.3 553.4H304.9V557.9H298.3ZM324.8 557.9H331.4V562.4H324.8ZM205.6 598.2H212.2V602.8H205.6Z"/>
<path shape-rendering="crispEdges" fill="#ff7c00" d="M278.4 535.5H285.1V540.0H278.4ZM318.1 540.0H324.8V544.5H318.1ZM338.0 544.4H344.7V549.0H338.0ZM278.4 553.4H285.1V557.9H278.4ZM304.9 553.4H311.6V557.9H304.9ZM152.6 562.4H159.3V566.9H152.6ZM218.8 562.4H225.5V566.9H218.8ZM324.8 571.3H331.4V575.9H324.8ZM146.0 575.8H152.6V580.3H146.0ZM172.4 589.3H179.1V593.8H172.4ZM185.7 593.7H192.4V598.3H185.7ZM192.3 598.2H199.0V602.8H192.3Z"/>
<path shape-rendering="crispEdges" fill="#ff9d00" d="M357.9 535.5H364.6V540.0H357.9ZM271.8 544.4H285.1V549.0H271.8ZM212.2 553.4H218.9V557.9H212.2ZM351.3 562.4H357.9V566.9H351.3ZM351.3 566.9H357.9V571.4H351.3ZM212.2 571.3H218.9V575.9H212.2ZM205.6 584.8H212.2V589.3H205.6ZM225.4 602.7H232.1V607.2H225.4Z"/>
<path shape-rendering="crispEdges" fill="#ffff1d" d="M218.8 540.0H225.5V544.5H218.8ZM304.9 548.9H311.6V553.5H304.9ZM344.6 553.4H351.3V557.9H344.6ZM218.8 598.2H225.5V602.8H218.8Z"/>
<path shape-rendering="crispEdges" fill="#ffff04" d="M218.8 544.4H225.5V549.0H218.8ZM331.4 553.4H338.1V557.9H331.4ZM351.3 553.4H357.9V557.9H351.3ZM338.0 557.9H344.7V562.4H338.0Z"/>
<path shape-rendering="crispEdges" fill="#ffcf00" d="M331.4 544.4H338.1V549.0H331.4ZM218.8 548.9H225.5V553.5H218.8ZM218.8 553.4H225.5V557.9H218.8ZM357.9 553.4H364.6V557.9H357.9ZM218.8 557.9H225.5V562.4H218.8ZM344.6 557.9H351.3V562.4H344.6Z"/>
<path shape-rendering="crispEdges" fill="#fff100" d="M119.5 548.9H126.1V553.5H119.5ZM324.8 548.9H331.4V553.5H324.8ZM338.0 562.4H344.7V566.9H338.0Z"/>
<path shape-rendering="crispEdges" fill="#ffff36" d="M331.4 548.9H338.1V553.5H331.4ZM205.6 602.7H212.2V607.2H205.6Z"/>
<path shape-rendering="crispEdges" fill="#ffff82" d="M338.0 548.9H344.7V553.5H338.0Z"/>
<path shape-rendering="crispEdges" fill="#ffe000" d="M344.6 548.9H351.3V553.5H344.6ZM271.8 553.4H278.5V557.9H271.8ZM351.3 557.9H364.6V562.4H351.3ZM212.2 598.2H218.9V602.8H212.2Z"/>
<path shape-rendering="crispEdges" fill="#ffff4f" d="M338.0 553.4H344.7V557.9H338.0ZM212.2 602.7H218.9V607.2H212.2Z"/>
<path shape-rendering="crispEdges" fill="#ffff68" d="M218.8 602.7H225.5V607.2H218.8Z"/>
<rect x="40.00" y="442.5" width="6.62" height="12.2" fill="#5e4fa2" stroke="#3a3478" stroke-width="0.9"/>
<rect x="46.62" y="442.5" width="6.62" height="12.2" fill="#5e4fa2" stroke="#3a3478" stroke-width="0.9"/>
<rect x="53.24" y="442.5" width="6.62" height="12.2" fill="#5e4fa2" stroke="#3a3478" stroke-width="0.9"/>
<rect x="59.87" y="442.5" width="6.62" height="12.2" fill="#5e4fa2" stroke="#3a3478" stroke-width="0.9"/>
<rect x="66.49" y="442.5" width="6.62" height="12.2" fill="#5e4fa2" stroke="#3a3478" stroke-width="0.9"/>
<rect x="73.11" y="442.5" width="6.62" height="12.2" fill="#5e4fa2" stroke="#3a3478" stroke-width="0.9"/>
<rect x="79.73" y="442.5" width="6.62" height="12.2" fill="#5e4fa2" stroke="#3a3478" stroke-width="0.9"/>
<rect x="86.36" y="442.5" width="6.62" height="12.2" fill="#5e4fa2" stroke="#3a3478" stroke-width="0.9"/>
<rect x="92.98" y="442.5" width="6.62" height="12.2" fill="#5e4fa2" stroke="#3a3478" stroke-width="0.9"/>
<rect x="99.60" y="442.5" width="6.62" height="12.2" fill="#5e4fa2" stroke="#3a3478" stroke-width="0.9"/>
<rect x="106.22" y="442.5" width="6.62" height="12.2" fill="#5e4fa2" stroke="#3a3478" stroke-width="0.9"/>
<rect x="112.85" y="442.5" width="6.62" height="12.2" fill="#5e4fa2" stroke="#3a3478" stroke-width="0.9"/>
<rect x="119.47" y="442.5" width="6.62" height="12.2" fill="#5e4fa2" stroke="#3a3478" stroke-width="0.9"/>
<rect x="126.09" y="442.5" width="6.62" height="12.2" fill="#5e4fa2" stroke="#3a3478" stroke-width="0.9"/>
<rect x="132.71" y="442.5" width="6.62" height="12.2" fill="#5e4fa2" stroke="#3a3478" stroke-width="0.9"/>
<rect x="139.34" y="442.5" width="6.62" height="12.2" fill="#5e4fa2" stroke="#3a3478" stroke-width="0.9"/>
<rect x="145.96" y="442.5" width="6.62" height="12.2" fill="#5e4fa2" stroke="#3a3478" stroke-width="0.9"/>
<rect x="152.58" y="442.5" width="6.62" height="12.2" fill="#5e4fa2" stroke="#3a3478" stroke-width="0.9"/>
<rect x="159.20" y="442.5" width="6.62" height="12.2" fill="#5e4fa2" stroke="#3a3478" stroke-width="0.9"/>
<rect x="165.83" y="442.5" width="6.62" height="12.2" fill="#5e4fa2" stroke="#3a3478" stroke-width="0.9"/>
<rect x="172.45" y="442.5" width="6.62" height="12.2" fill="#5e4fa2" stroke="#3a3478" stroke-width="0.9"/>
<rect x="179.07" y="442.5" width="6.62" height="12.2" fill="#5e4fa2" stroke="#3a3478" stroke-width="0.9"/>
<rect x="185.69" y="442.5" width="6.62" height="12.2" fill="#5468ac" stroke="#3a3478" stroke-width="0.9"/>
<rect x="192.32" y="442.5" width="6.62" height="12.2" fill="#526cae" stroke="#3a3478" stroke-width="0.9"/>
<rect x="198.94" y="442.5" width="6.62" height="12.2" fill="#5071b0" stroke="#3a3478" stroke-width="0.9"/>
<rect x="205.56" y="442.5" width="6.62" height="12.2" fill="#5294b1" stroke="#3a3478" stroke-width="0.9"/>
<rect x="212.18" y="442.5" width="6.62" height="12.2" fill="#74c7a5" stroke="#3a3478" stroke-width="0.9"/>
<rect x="218.81" y="442.5" width="6.62" height="12.2" fill="#66c2a5" stroke="#3a3478" stroke-width="0.9"/>
<rect x="225.43" y="442.5" width="6.62" height="12.2" fill="#5071b0" stroke="#3a3478" stroke-width="0.9"/>
<rect x="232.05" y="442.5" width="6.62" height="12.2" fill="#5a59a6" stroke="#3a3478" stroke-width="0.9"/>
<rect x="238.67" y="442.5" width="6.62" height="12.2" fill="#5a59a6" stroke="#3a3478" stroke-width="0.9"/>
<rect x="245.30" y="442.5" width="6.62" height="12.2" fill="#5a59a6" stroke="#3a3478" stroke-width="0.9"/>
<rect x="251.92" y="442.5" width="6.62" height="12.2" fill="#5a59a6" stroke="#3a3478" stroke-width="0.9"/>
<rect x="258.54" y="442.5" width="6.62" height="12.2" fill="#5a59a6" stroke="#3a3478" stroke-width="0.9"/>
<rect x="265.16" y="442.5" width="6.62" height="12.2" fill="#5a59a6" stroke="#3a3478" stroke-width="0.9"/>
<rect x="271.79" y="442.5" width="6.62" height="12.2" fill="#5a59a6" stroke="#3a3478" stroke-width="0.9"/>
<rect x="278.41" y="442.5" width="6.62" height="12.2" fill="#5a59a6" stroke="#3a3478" stroke-width="0.9"/>
<rect x="285.03" y="442.5" width="6.62" height="12.2" fill="#5a59a6" stroke="#3a3478" stroke-width="0.9"/>
<rect x="291.65" y="442.5" width="6.62" height="12.2" fill="#5a59a6" stroke="#3a3478" stroke-width="0.9"/>
<rect x="298.28" y="442.5" width="6.62" height="12.2" fill="#5a59a6" stroke="#3a3478" stroke-width="0.9"/>
<rect x="304.90" y="442.5" width="6.62" height="12.2" fill="#5a59a6" stroke="#3a3478" stroke-width="0.9"/>
<rect x="311.52" y="442.5" width="6.62" height="12.2" fill="#5a59a6" stroke="#3a3478" stroke-width="0.9"/>
<rect x="318.14" y="442.5" width="6.62" height="12.2" fill="#5a59a6" stroke="#3a3478" stroke-width="0.9"/>
<rect x="324.77" y="442.5" width="6.62" height="12.2" fill="#5663aa" stroke="#3a3478" stroke-width="0.9"/>
<rect x="331.39" y="442.5" width="6.62" height="12.2" fill="#5468ac" stroke="#3a3478" stroke-width="0.9"/>
<rect x="338.01" y="442.5" width="6.62" height="12.2" fill="#5468ac" stroke="#3a3478" stroke-width="0.9"/>
<rect x="344.63" y="442.5" width="6.62" height="12.2" fill="#5a59a6" stroke="#3a3478" stroke-width="0.9"/>
<rect x="351.26" y="442.5" width="6.62" height="12.2" fill="#5a59a6" stroke="#3a3478" stroke-width="0.9"/>
<rect x="357.88" y="442.5" width="6.62" height="12.2" fill="#5a59a6" stroke="#3a3478" stroke-width="0.9"/>
<rect x="40.0" y="655.8" width="324.5" height="173.5" fill="#0b0000"/>
<path shape-rendering="crispEdges" fill="#4e0000" d="M79.7 712.8H86.4V717.3H79.7ZM53.2 717.2H59.9V721.8H53.2ZM86.4 717.2H93.0V721.8H86.4ZM126.1 721.7H132.8V726.3H126.1ZM79.7 726.2H86.4V730.7H79.7ZM59.9 730.7H73.2V735.2H59.9ZM46.6 735.2H59.9V739.7H46.6ZM93.0 739.7H99.7V744.2H93.0ZM106.2 739.7H112.9V744.2H106.2ZM46.6 744.1H53.3V748.7H46.6ZM86.4 744.1H93.0V748.7H86.4ZM146.0 744.1H152.6V748.7H146.0ZM338.0 775.5H344.7V780.0H338.0ZM318.1 784.5H324.8V789.0H318.1ZM53.2 789.0H59.9V793.5H53.2ZM73.1 789.0H79.8V793.5H73.1ZM225.4 789.0H232.1V793.5H225.4ZM53.2 793.4H59.9V798.0H53.2ZM93.0 793.4H112.9V798.0H93.0ZM258.5 793.4H265.2V798.0H258.5ZM46.6 797.9H53.3V802.5H46.6ZM93.0 797.9H99.7V802.5H93.0ZM112.8 797.9H132.8V802.5H112.8ZM146.0 797.9H152.6V802.5H146.0ZM159.2 797.9H165.9V802.5H159.2ZM139.3 802.4H146.0V806.9H139.3ZM159.2 806.9H165.9V811.4H159.2Z"/>
<path shape-rendering="crispEdges" fill="#3d0000" d="M86.4 712.8H93.0V717.3H86.4ZM46.6 717.2H53.3V721.8H46.6ZM73.1 717.2H79.8V721.8H73.1ZM106.2 717.2H119.5V721.8H106.2ZM53.2 721.7H59.9V726.3H53.2ZM73.1 721.7H79.8V726.3H73.1ZM132.7 721.7H139.4V726.3H132.7ZM99.6 730.7H106.3V735.2H99.6ZM66.5 748.6H73.2V753.2H66.5ZM40.0 793.4H46.7V798.0H40.0ZM265.2 793.4H271.8V798.0H265.2ZM53.2 797.9H73.2V802.5H53.2ZM106.2 797.9H112.9V802.5H106.2ZM132.7 797.9H139.4V802.5H132.7Z"/>
<path shape-rendering="crispEdges" fill="#5e0000" d="M93.0 712.8H99.7V717.3H93.0ZM93.0 717.2H99.7V721.8H93.0ZM40.0 721.7H46.7V726.3H40.0ZM93.0 721.7H106.3V726.3H93.0ZM126.1 726.2H132.8V730.7H126.1ZM79.7 730.7H86.4V735.2H79.7ZM132.7 730.7H139.4V735.2H132.7ZM66.5 735.2H73.2V739.7H66.5ZM93.0 735.2H99.7V739.7H93.0ZM40.0 739.7H46.7V744.2H40.0ZM79.7 739.7H86.4V744.2H79.7ZM139.3 739.7H146.0V744.2H139.3ZM79.7 744.1H86.4V748.7H79.7ZM159.2 744.1H165.9V748.7H159.2ZM99.6 762.1H106.3V766.6H99.6ZM59.9 766.6H66.5V771.1H59.9ZM53.2 784.5H59.9V789.0H53.2ZM66.5 789.0H73.2V793.5H66.5ZM79.7 789.0H86.4V793.5H79.7ZM298.3 789.0H304.9V793.5H298.3ZM46.6 793.4H53.3V798.0H46.6ZM73.1 793.4H79.8V798.0H73.1ZM86.4 793.4H93.0V798.0H86.4ZM119.5 793.4H126.1V798.0H119.5ZM238.7 793.4H258.6V798.0H238.7ZM152.6 802.4H159.3V806.9H152.6Z"/>
<path shape-rendering="crispEdges" fill="#6f0000" d="M99.6 717.2H106.3V721.8H99.6ZM66.5 721.7H73.2V726.3H66.5ZM106.2 721.7H112.9V726.3H106.2ZM53.2 726.2H59.9V730.7H53.2ZM86.4 726.2H93.0V730.7H86.4ZM99.6 726.2H112.9V730.7H99.6ZM53.2 730.7H59.9V735.2H53.2ZM86.4 735.2H93.0V739.7H86.4ZM59.9 739.7H66.5V744.2H59.9ZM40.0 744.1H46.7V748.7H40.0ZM93.0 744.1H106.3V748.7H93.0ZM152.6 744.1H159.3V748.7H152.6ZM40.0 748.6H46.7V753.2H40.0ZM53.2 748.6H59.9V753.2H53.2ZM86.4 748.6H93.0V753.2H86.4ZM40.0 753.1H46.7V757.6H40.0ZM119.5 775.5H126.1V780.0H119.5ZM165.8 780.0H172.5V784.5H165.8ZM311.5 784.5H318.2V789.0H311.5ZM40.0 789.0H46.7V793.5H40.0ZM86.4 789.0H99.7V793.5H86.4ZM238.7 789.0H245.3V793.5H238.7ZM291.7 789.0H298.3V793.5H291.7ZM59.9 793.4H73.2V798.0H59.9ZM112.8 793.4H119.5V798.0H112.8ZM132.7 793.4H139.4V798.0H132.7ZM179.1 797.9H185.7V802.5H179.1ZM132.7 802.4H139.4V806.9H132.7Z"/>
<path shape-rendering="crispEdges" fill="#910000" d="M46.6 721.7H53.3V726.3H46.6ZM112.8 721.7H119.5V726.3H112.8ZM46.6 726.2H53.3V730.7H46.6ZM46.6 730.7H53.3V735.2H46.6ZM298.3 730.7H304.9V735.2H298.3ZM40.0 735.2H46.7V739.7H40.0ZM106.2 735.2H112.9V739.7H106.2ZM132.7 735.2H139.4V739.7H132.7ZM106.2 748.6H112.9V753.2H106.2ZM146.0 748.6H152.6V753.2H146.0ZM79.7 753.1H86.4V757.6H79.7ZM40.0 757.6H53.3V762.1H40.0ZM59.9 757.6H66.5V762.1H59.9ZM59.9 762.1H66.5V766.6H59.9ZM40.0 766.6H46.7V771.1H40.0ZM66.5 775.5H73.2V780.0H66.5ZM46.6 780.0H59.9V784.5H46.6ZM66.5 780.0H73.2V784.5H66.5ZM318.1 780.0H324.8V784.5H318.1ZM46.6 784.5H53.3V789.0H46.6ZM79.7 784.5H86.4V789.0H79.7ZM106.2 784.5H112.9V789.0H106.2ZM304.9 784.5H311.6V789.0H304.9ZM59.9 789.0H66.5V793.5H59.9ZM179.1 789.0H185.7V793.5H179.1ZM258.5 789.0H271.8V793.5H258.5ZM285.0 789.0H291.7V793.5H285.0ZM165.8 806.9H172.5V811.4H165.8ZM198.9 806.9H205.6V811.4H198.9ZM179.1 811.4H185.7V815.9H179.1Z"/>
<path shape-rendering="crispEdges" fill="#b20000" d="M79.7 721.7H86.4V726.3H79.7ZM73.1 726.2H79.8V730.7H73.1ZM126.1 730.7H132.8V735.2H126.1ZM59.9 735.2H66.5V739.7H59.9ZM79.7 735.2H86.4V739.7H79.7ZM218.8 735.2H232.1V739.7H218.8ZM318.1 735.2H331.4V739.7H318.1ZM344.6 735.2H351.3V739.7H344.6ZM46.6 739.7H53.3V744.2H46.6ZM99.6 739.7H106.3V744.2H99.6ZM59.9 744.1H73.2V748.7H59.9ZM112.8 744.1H119.5V748.7H112.8ZM112.8 748.6H119.5V753.2H112.8ZM165.8 748.6H172.5V753.2H165.8ZM79.7 762.1H86.4V766.6H79.7ZM304.9 762.1H311.6V766.6H304.9ZM357.9 766.6H364.6V771.1H357.9ZM93.0 775.5H99.7V780.0H93.0ZM318.1 775.5H324.8V780.0H318.1ZM59.9 780.0H66.5V784.5H59.9ZM86.4 780.0H93.0V784.5H86.4ZM99.6 780.0H106.3V784.5H99.6ZM66.5 784.5H73.2V789.0H66.5ZM232.1 784.5H238.7V789.0H232.1ZM285.0 784.5H298.3V789.0H285.0ZM146.0 789.0H152.6V793.5H146.0ZM172.4 789.0H179.1V793.5H172.4ZM245.3 789.0H252.0V793.5H245.3ZM172.4 806.9H179.1V811.4H172.4Z"/>
<path shape-rendering="crispEdges" fill="#800000" d="M119.5 721.7H126.1V726.3H119.5ZM59.9 726.2H66.5V730.7H59.9ZM40.0 730.7H46.7V735.2H40.0ZM73.1 730.7H79.8V735.2H73.1ZM278.4 730.7H285.1V735.2H278.4ZM86.4 739.7H93.0V744.2H86.4ZM139.3 744.1H146.0V748.7H139.3ZM165.8 744.1H172.5V748.7H165.8ZM225.4 744.1H232.1V748.7H225.4ZM59.9 748.6H66.5V753.2H59.9ZM73.1 748.6H79.8V753.2H73.1ZM119.5 766.6H126.1V771.1H119.5ZM46.6 771.0H53.3V775.6H46.6ZM159.2 780.0H165.9V784.5H159.2ZM40.0 784.5H46.7V789.0H40.0ZM172.4 784.5H179.1V789.0H172.4ZM46.6 789.0H53.3V793.5H46.6ZM99.6 789.0H119.5V793.5H99.6ZM271.8 789.0H278.5V793.5H271.8ZM126.1 793.4H132.8V798.0H126.1ZM146.0 793.4H152.6V798.0H146.0ZM139.3 797.9H146.0V802.5H139.3ZM159.2 802.4H165.9V806.9H159.2Z"/>
<path shape-rendering="crispEdges" fill="#f50000" d="M112.8 726.2H119.5V730.7H112.8ZM291.7 735.2H298.3V739.7H291.7ZM265.2 739.7H271.8V744.2H265.2ZM324.8 739.7H331.4V744.2H324.8ZM344.6 739.7H351.3V744.2H344.6ZM192.3 744.1H199.0V748.7H192.3ZM245.3 744.1H252.0V748.7H245.3ZM311.5 744.1H318.2V748.7H311.5ZM119.5 753.1H126.1V757.6H119.5ZM152.6 753.1H159.3V757.6H152.6ZM165.8 753.1H172.5V757.6H165.8ZM53.2 757.6H59.9V762.1H53.2ZM40.0 762.1H46.7V766.6H40.0ZM112.8 762.1H119.5V766.6H112.8ZM79.7 766.6H86.4V771.1H79.7ZM258.5 771.0H265.2V775.6H258.5ZM278.4 771.0H285.1V775.6H278.4ZM318.1 771.0H324.8V775.6H318.1ZM344.6 771.0H351.3V775.6H344.6ZM53.2 775.5H59.9V780.0H53.2ZM79.7 775.5H86.4V780.0H79.7ZM126.1 775.5H132.8V780.0H126.1ZM139.3 775.5H146.0V780.0H139.3ZM232.1 775.5H238.7V780.0H232.1ZM344.6 775.5H357.9V780.0H344.6ZM112.8 780.0H119.5V784.5H112.8ZM218.8 780.0H225.5V784.5H218.8ZM298.3 780.0H304.9V784.5H298.3ZM119.5 784.5H126.1V789.0H119.5ZM132.7 784.5H139.4V789.0H132.7ZM245.3 784.5H252.0V789.0H245.3ZM265.2 784.5H271.8V789.0H265.2Z"/>
<path shape-rendering="crispEdges" fill="#d30000" d="M119.5 726.2H126.1V730.7H119.5ZM291.7 730.7H298.3V735.2H291.7ZM126.1 735.2H132.8V739.7H126.1ZM265.2 735.2H271.8V739.7H265.2ZM298.3 735.2H304.9V739.7H298.3ZM132.7 739.7H139.4V744.2H132.7ZM238.7 739.7H245.3V744.2H238.7ZM159.2 748.6H165.9V753.2H159.2ZM285.0 748.6H291.7V753.2H285.0ZM59.9 753.1H66.5V757.6H59.9ZM93.0 753.1H99.7V757.6H93.0ZM139.3 753.1H152.6V757.6H139.3ZM73.1 757.6H79.8V762.1H73.1ZM112.8 757.6H119.5V762.1H112.8ZM146.0 757.6H152.6V762.1H146.0ZM146.0 762.1H152.6V766.6H146.0ZM93.0 766.6H99.7V771.1H93.0ZM106.2 766.6H112.9V771.1H106.2ZM59.9 771.0H66.5V775.6H59.9ZM40.0 775.5H46.7V780.0H40.0ZM73.1 775.5H79.8V780.0H73.1ZM86.4 775.5H93.0V780.0H86.4ZM106.2 775.5H119.5V780.0H106.2ZM159.2 775.5H165.9V780.0H159.2ZM331.4 775.5H338.1V780.0H331.4ZM357.9 775.5H364.6V780.0H357.9ZM106.2 780.0H112.9V784.5H106.2ZM225.4 780.0H232.1V784.5H225.4ZM179.1 784.5H185.7V789.0H179.1ZM238.7 784.5H245.3V789.0H238.7ZM258.5 784.5H265.2V789.0H258.5ZM218.8 789.0H225.5V793.5H218.8ZM139.3 793.4H146.0V798.0H139.3ZM165.8 793.4H172.5V798.0H165.8ZM179.1 793.4H185.7V798.0H179.1ZM165.8 802.4H172.5V806.9H165.8ZM185.7 811.4H192.4V815.9H185.7Z"/>
<path shape-rendering="crispEdges" fill="#a10000" d="M86.4 730.7H93.0V735.2H86.4ZM106.2 730.7H112.9V735.2H106.2ZM99.6 735.2H106.3V739.7H99.6ZM331.4 735.2H338.1V739.7H331.4ZM73.1 739.7H79.8V744.2H73.1ZM192.3 739.7H199.0V744.2H192.3ZM53.2 744.1H59.9V748.7H53.2ZM46.6 748.6H53.3V753.2H46.6ZM99.6 748.6H106.3V753.2H99.6ZM172.4 748.6H192.4V753.2H172.4ZM46.6 753.1H59.9V757.6H46.6ZM73.1 753.1H79.8V757.6H73.1ZM106.2 753.1H119.5V757.6H106.2ZM86.4 766.6H93.0V771.1H86.4ZM152.6 775.5H159.3V780.0H152.6ZM40.0 780.0H46.7V784.5H40.0ZM172.4 780.0H179.1V784.5H172.4ZM59.9 784.5H66.5V789.0H59.9ZM73.1 784.5H79.8V789.0H73.1ZM86.4 784.5H106.3V789.0H86.4ZM112.8 784.5H119.5V789.0H112.8ZM126.1 784.5H132.8V789.0H126.1ZM225.4 784.5H232.1V789.0H225.4ZM298.3 784.5H304.9V789.0H298.3ZM132.7 789.0H146.0V793.5H132.7ZM278.4 789.0H285.1V793.5H278.4ZM172.4 811.4H179.1V815.9H172.4Z"/>
<path shape-rendering="crispEdges" fill="#c30000" d="M93.0 730.7H99.7V735.2H93.0ZM73.1 735.2H79.8V739.7H73.1ZM338.0 735.2H344.7V739.7H338.0ZM351.3 735.2H357.9V739.7H351.3ZM66.5 739.7H73.2V744.2H66.5ZM198.9 739.7H205.6V744.2H198.9ZM258.5 739.7H265.2V744.2H258.5ZM73.1 744.1H79.8V748.7H73.1ZM79.7 748.6H86.4V753.2H79.7ZM93.0 748.6H99.7V753.2H93.0ZM139.3 748.6H146.0V753.2H139.3ZM86.4 753.1H93.0V757.6H86.4ZM99.6 753.1H106.3V757.6H99.6ZM79.7 757.6H93.0V762.1H79.7ZM106.2 757.6H112.9V762.1H106.2ZM119.5 757.6H126.1V762.1H119.5ZM46.6 762.1H53.3V766.6H46.6ZM93.0 762.1H99.7V766.6H93.0ZM119.5 762.1H126.1V766.6H119.5ZM311.5 762.1H318.2V766.6H311.5ZM66.5 766.6H79.8V771.1H66.5ZM53.2 771.0H59.9V775.6H53.2ZM79.7 771.0H86.4V775.6H79.7ZM106.2 771.0H112.9V775.6H106.2ZM126.1 771.0H132.8V775.6H126.1ZM99.6 775.5H106.3V780.0H99.6ZM225.4 775.5H232.1V780.0H225.4ZM245.3 775.5H252.0V780.0H245.3ZM324.8 775.5H331.4V780.0H324.8ZM73.1 780.0H86.4V784.5H73.1ZM93.0 780.0H99.7V784.5H93.0ZM126.1 780.0H132.8V784.5H126.1ZM218.8 784.5H225.5V789.0H218.8ZM251.9 784.5H258.6V789.0H251.9ZM119.5 789.0H126.1V793.5H119.5ZM232.1 789.0H238.7V793.5H232.1ZM251.9 789.0H258.6V793.5H251.9ZM152.6 797.9H159.3V802.5H152.6ZM172.4 797.9H179.1V802.5H172.4Z"/>
<path shape-rendering="crispEdges" fill="#ff2800" d="M112.8 730.7H119.5V735.2H112.8ZM271.8 739.7H278.5V744.2H271.8ZM291.7 739.7H298.3V744.2H291.7ZM304.9 739.7H311.6V744.2H304.9ZM132.7 744.1H139.4V748.7H132.7ZM205.6 744.1H212.2V748.7H205.6ZM258.5 744.1H271.8V748.7H258.5ZM119.5 748.6H126.1V753.2H119.5ZM198.9 748.6H205.6V753.2H198.9ZM139.3 757.6H146.0V762.1H139.3ZM238.7 757.6H245.3V762.1H238.7ZM159.2 762.1H165.9V766.6H159.2ZM172.4 762.1H179.1V766.6H172.4ZM218.8 762.1H225.5V766.6H218.8ZM225.4 766.6H238.7V771.1H225.4ZM245.3 766.6H258.6V771.1H245.3ZM318.1 766.6H324.8V771.1H318.1ZM132.7 771.0H139.4V775.6H132.7ZM218.8 771.0H225.5V775.6H218.8ZM245.3 771.0H252.0V775.6H245.3ZM265.2 771.0H271.8V775.6H265.2ZM311.5 771.0H318.2V775.6H311.5ZM146.0 775.5H152.6V780.0H146.0ZM179.1 775.5H185.7V780.0H179.1ZM192.3 775.5H205.6V780.0H192.3ZM251.9 775.5H258.6V780.0H251.9ZM265.2 775.5H271.8V780.0H265.2ZM285.0 775.5H291.7V780.0H285.0ZM198.9 780.0H205.6V784.5H198.9ZM258.5 780.0H265.2V784.5H258.5ZM278.4 780.0H291.7V784.5H278.4ZM304.9 780.0H311.6V784.5H304.9ZM159.2 789.0H172.5V793.5H159.2ZM152.6 793.4H159.3V798.0H152.6ZM179.1 806.9H185.7V811.4H179.1ZM218.8 806.9H225.5V811.4H218.8Z"/>
<path shape-rendering="crispEdges" fill="#ff1700" d="M119.5 730.7H126.1V735.2H119.5ZM112.8 735.2H119.5V739.7H112.8ZM278.4 735.2H291.7V739.7H278.4ZM112.8 739.7H119.5V744.2H112.8ZM212.2 739.7H218.9V744.2H212.2ZM298.3 739.7H304.9V744.2H298.3ZM318.1 739.7H324.8V744.2H318.1ZM351.3 739.7H357.9V744.2H351.3ZM238.7 744.1H245.3V748.7H238.7ZM192.3 748.6H199.0V753.2H192.3ZM99.6 757.6H106.3V762.1H99.6ZM172.4 757.6H179.1V762.1H172.4ZM53.2 762.1H59.9V766.6H53.2ZM271.8 762.1H278.5V766.6H271.8ZM298.3 762.1H304.9V766.6H298.3ZM46.6 766.6H59.9V771.1H46.6ZM99.6 766.6H106.3V771.1H99.6ZM159.2 766.6H165.9V771.1H159.2ZM278.4 766.6H291.7V771.1H278.4ZM298.3 766.6H318.2V771.1H298.3ZM331.4 766.6H344.7V771.1H331.4ZM40.0 771.0H46.7V775.6H40.0ZM73.1 771.0H79.8V775.6H73.1ZM93.0 771.0H106.3V775.6H93.0ZM146.0 771.0H152.6V775.6H146.0ZM198.9 771.0H205.6V775.6H198.9ZM225.4 771.0H232.1V775.6H225.4ZM351.3 771.0H364.6V775.6H351.3ZM132.7 775.5H139.4V780.0H132.7ZM172.4 775.5H179.1V780.0H172.4ZM278.4 775.5H285.1V780.0H278.4ZM139.3 780.0H146.0V784.5H139.3ZM179.1 780.0H185.7V784.5H179.1ZM238.7 780.0H245.3V784.5H238.7ZM251.9 780.0H258.6V784.5H251.9ZM265.2 780.0H271.8V784.5H265.2ZM311.5 780.0H318.2V784.5H311.5ZM152.6 789.0H159.3V793.5H152.6ZM159.2 793.4H165.9V798.0H159.2ZM218.8 793.4H225.5V798.0H218.8ZM205.6 806.9H212.2V811.4H205.6Z"/>
<path shape-rendering="crispEdges" fill="#e40000" d="M285.0 730.7H291.7V735.2H285.0ZM271.8 735.2H278.5V739.7H271.8ZM311.5 735.2H318.2V739.7H311.5ZM357.9 735.2H364.6V739.7H357.9ZM205.6 739.7H212.2V744.2H205.6ZM225.4 739.7H238.7V744.2H225.4ZM245.3 739.7H258.6V744.2H245.3ZM152.6 748.6H159.3V753.2H152.6ZM66.5 753.1H73.2V757.6H66.5ZM66.5 757.6H73.2V762.1H66.5ZM152.6 757.6H159.3V762.1H152.6ZM66.5 762.1H79.8V766.6H66.5ZM86.4 762.1H93.0V766.6H86.4ZM126.1 762.1H132.8V766.6H126.1ZM152.6 762.1H159.3V766.6H152.6ZM126.1 766.6H132.8V771.1H126.1ZM146.0 766.6H152.6V771.1H146.0ZM66.5 771.0H73.2V775.6H66.5ZM112.8 771.0H119.5V775.6H112.8ZM152.6 771.0H159.3V775.6H152.6ZM232.1 771.0H245.3V775.6H232.1ZM271.8 771.0H278.5V775.6H271.8ZM285.0 771.0H304.9V775.6H285.0ZM331.4 771.0H338.1V775.6H331.4ZM46.6 775.5H53.3V780.0H46.6ZM59.9 775.5H66.5V780.0H59.9ZM165.8 775.5H172.5V780.0H165.8ZM132.7 780.0H139.4V784.5H132.7ZM152.6 780.0H159.3V784.5H152.6ZM139.3 784.5H165.9V789.0H139.3ZM278.4 784.5H285.1V789.0H278.4ZM126.1 789.0H132.8V793.5H126.1ZM165.8 797.9H172.5V802.5H165.8ZM192.3 811.4H199.0V815.9H192.3ZM212.2 811.4H218.9V815.9H212.2Z"/>
<path shape-rendering="crispEdges" fill="#ff4a00" d="M119.5 735.2H126.1V739.7H119.5ZM126.1 739.7H132.8V744.2H126.1ZM331.4 739.7H338.1V744.2H331.4ZM251.9 744.1H258.6V748.7H251.9ZM278.4 744.1H291.7V748.7H278.4ZM132.7 748.6H139.4V753.2H132.7ZM205.6 748.6H212.2V753.2H205.6ZM225.4 748.6H232.1V753.2H225.4ZM271.8 748.6H285.1V753.2H271.8ZM192.3 753.1H199.0V757.6H192.3ZM278.4 753.1H285.1V757.6H278.4ZM179.1 757.6H185.7V762.1H179.1ZM265.2 757.6H271.8V762.1H265.2ZM278.4 757.6H285.1V762.1H278.4ZM311.5 757.6H318.2V762.1H311.5ZM278.4 762.1H285.1V766.6H278.4ZM291.7 762.1H298.3V766.6H291.7ZM357.9 762.1H364.6V766.6H357.9ZM179.1 766.6H192.4V771.1H179.1ZM218.8 766.6H225.5V771.1H218.8ZM258.5 766.6H265.2V771.1H258.5ZM271.8 766.6H278.5V771.1H271.8ZM324.8 766.6H331.4V771.1H324.8ZM159.2 771.0H165.9V775.6H159.2ZM172.4 771.0H179.1V775.6H172.4ZM238.7 775.5H245.3V780.0H238.7ZM258.5 775.5H265.2V780.0H258.5ZM291.7 775.5H298.3V780.0H291.7ZM311.5 775.5H318.2V780.0H311.5ZM198.9 802.4H205.6V806.9H198.9Z"/>
<path shape-rendering="crispEdges" fill="#ff3900" d="M304.9 735.2H311.6V739.7H304.9ZM218.8 739.7H225.5V744.2H218.8ZM285.0 739.7H291.7V744.2H285.0ZM119.5 744.1H126.1V748.7H119.5ZM232.1 744.1H238.7V748.7H232.1ZM291.7 744.1H298.3V748.7H291.7ZM304.9 744.1H311.6V748.7H304.9ZM172.4 753.1H179.1V757.6H172.4ZM232.1 753.1H238.7V757.6H232.1ZM126.1 757.6H132.8V762.1H126.1ZM165.8 757.6H172.5V762.1H165.8ZM139.3 762.1H146.0V766.6H139.3ZM185.7 762.1H192.4V766.6H185.7ZM232.1 762.1H238.7V766.6H232.1ZM251.9 762.1H265.2V766.6H251.9ZM318.1 762.1H324.8V766.6H318.1ZM331.4 762.1H344.7V766.6H331.4ZM132.7 766.6H146.0V771.1H132.7ZM198.9 766.6H205.6V771.1H198.9ZM238.7 766.6H245.3V771.1H238.7ZM351.3 766.6H357.9V771.1H351.3ZM304.9 771.0H311.6V775.6H304.9ZM298.3 775.5H304.9V780.0H298.3ZM232.1 780.0H238.7V784.5H232.1ZM185.7 789.0H192.4V793.5H185.7ZM198.9 797.9H205.6V802.5H198.9ZM172.4 802.4H179.1V806.9H172.4Z"/>
<path shape-rendering="crispEdges" fill="#ff6b00" d="M119.5 739.7H126.1V744.2H119.5ZM278.4 739.7H285.1V744.2H278.4ZM324.8 744.1H331.4V748.7H324.8ZM212.2 748.6H218.9V753.2H212.2ZM311.5 748.6H318.2V753.2H311.5ZM245.3 753.1H258.6V757.6H245.3ZM265.2 753.1H271.8V757.6H265.2ZM198.9 757.6H205.6V762.1H198.9ZM212.2 757.6H218.9V762.1H212.2ZM225.4 757.6H232.1V762.1H225.4ZM251.9 757.6H258.6V762.1H251.9ZM271.8 757.6H278.5V762.1H271.8ZM291.7 757.6H298.3V762.1H291.7ZM304.9 757.6H311.6V762.1H304.9ZM132.7 762.1H139.4V766.6H132.7ZM198.9 762.1H212.2V766.6H198.9ZM344.6 762.1H357.9V766.6H344.6ZM205.6 766.6H212.2V771.1H205.6ZM192.3 771.0H199.0V775.6H192.3ZM212.2 775.5H218.9V780.0H212.2ZM271.8 780.0H278.5V784.5H271.8ZM185.7 784.5H192.4V789.0H185.7ZM212.2 789.0H218.9V793.5H212.2ZM192.3 797.9H199.0V802.5H192.3ZM205.6 802.4H212.2V806.9H205.6Z"/>
<path shape-rendering="crispEdges" fill="#ff0700" d="M311.5 739.7H318.2V744.2H311.5ZM357.9 739.7H364.6V744.2H357.9ZM212.2 744.1H218.9V748.7H212.2ZM159.2 753.1H165.9V757.6H159.2ZM179.1 753.1H192.4V757.6H179.1ZM93.0 757.6H99.7V762.1H93.0ZM106.2 762.1H112.9V766.6H106.2ZM165.8 762.1H172.5V766.6H165.8ZM112.8 766.6H119.5V771.1H112.8ZM152.6 766.6H159.3V771.1H152.6ZM192.3 766.6H199.0V771.1H192.3ZM265.2 766.6H271.8V771.1H265.2ZM291.7 766.6H298.3V771.1H291.7ZM86.4 771.0H93.0V775.6H86.4ZM119.5 771.0H126.1V775.6H119.5ZM165.8 771.0H172.5V775.6H165.8ZM251.9 771.0H258.6V775.6H251.9ZM324.8 771.0H331.4V775.6H324.8ZM338.0 771.0H344.7V775.6H338.0ZM218.8 775.5H225.5V780.0H218.8ZM304.9 775.5H311.6V780.0H304.9ZM119.5 780.0H126.1V784.5H119.5ZM185.7 780.0H192.4V784.5H185.7ZM245.3 780.0H252.0V784.5H245.3ZM291.7 780.0H298.3V784.5H291.7ZM165.8 784.5H172.5V789.0H165.8ZM271.8 784.5H278.5V789.0H271.8ZM172.4 793.4H179.1V798.0H172.4ZM185.7 793.4H192.4V798.0H185.7Z"/>
<path shape-rendering="crispEdges" fill="#ff5a00" d="M338.0 739.7H344.7V744.2H338.0ZM198.9 744.1H205.6V748.7H198.9ZM271.8 744.1H278.5V748.7H271.8ZM298.3 744.1H304.9V748.7H298.3ZM318.1 744.1H324.8V748.7H318.1ZM265.2 748.6H271.8V753.2H265.2ZM126.1 753.1H132.8V757.6H126.1ZM238.7 753.1H245.3V757.6H238.7ZM285.0 753.1H291.7V757.6H285.0ZM304.9 753.1H311.6V757.6H304.9ZM159.2 757.6H165.9V762.1H159.2ZM245.3 757.6H252.0V762.1H245.3ZM258.5 757.6H265.2V762.1H258.5ZM192.3 762.1H199.0V766.6H192.3ZM225.4 762.1H232.1V766.6H225.4ZM238.7 762.1H252.0V766.6H238.7ZM344.6 766.6H351.3V771.1H344.6ZM185.7 771.0H192.4V775.6H185.7ZM271.8 775.5H278.5V780.0H271.8ZM146.0 780.0H152.6V784.5H146.0ZM198.9 793.4H205.6V798.0H198.9ZM185.7 797.9H192.4V802.5H185.7Z"/>
<path shape-rendering="crispEdges" fill="#ff8d00" d="M126.1 744.1H132.8V748.7H126.1ZM344.6 744.1H357.9V748.7H344.6ZM251.9 748.6H258.6V753.2H251.9ZM304.9 748.6H311.6V753.2H304.9ZM132.7 753.1H139.4V757.6H132.7ZM205.6 753.1H212.2V757.6H205.6ZM298.3 753.1H304.9V757.6H298.3ZM185.7 757.6H199.0V762.1H185.7ZM232.1 757.6H238.7V762.1H232.1ZM344.6 757.6H351.3V762.1H344.6ZM165.8 766.6H172.5V771.1H165.8ZM205.6 771.0H212.2V775.6H205.6ZM205.6 775.5H212.2V780.0H205.6ZM212.2 780.0H218.9V784.5H212.2ZM192.3 784.5H205.6V789.0H192.3ZM212.2 784.5H218.9V789.0H212.2ZM192.3 789.0H199.0V793.5H192.3Z"/>
<path shape-rendering="crispEdges" fill="#ff9d00" d="M218.8 744.1H225.5V748.7H218.8ZM232.1 748.6H238.7V753.2H232.1ZM291.7 748.6H304.9V753.2H291.7ZM212.2 753.1H218.9V757.6H212.2ZM311.5 753.1H318.2V757.6H311.5ZM132.7 757.6H139.4V762.1H132.7ZM351.3 757.6H357.9V762.1H351.3ZM265.2 762.1H271.8V766.6H265.2ZM324.8 762.1H331.4V766.6H324.8ZM212.2 766.6H218.9V771.1H212.2ZM139.3 771.0H146.0V775.6H139.3ZM179.1 771.0H185.7V775.6H179.1ZM192.3 780.0H199.0V784.5H192.3ZM205.6 780.0H212.2V784.5H205.6ZM218.8 802.4H225.5V806.9H218.8Z"/>
<path shape-rendering="crispEdges" fill="#ffff04" d="M331.4 744.1H338.1V748.7H331.4ZM357.9 748.6H364.6V753.2H357.9ZM324.8 753.1H331.4V757.6H324.8ZM344.6 753.1H351.3V757.6H344.6ZM357.9 757.6H364.6V762.1H357.9Z"/>
<path shape-rendering="crispEdges" fill="#ffcf00" d="M338.0 744.1H344.7V748.7H338.0ZM218.8 753.1H225.5V757.6H218.8ZM258.5 753.1H265.2V757.6H258.5ZM271.8 753.1H278.5V757.6H271.8ZM291.7 753.1H298.3V757.6H291.7ZM338.0 757.6H344.7V762.1H338.0ZM192.3 802.4H199.0V806.9H192.3Z"/>
<path shape-rendering="crispEdges" fill="#ff7c00" d="M357.9 744.1H364.6V748.7H357.9ZM238.7 748.6H245.3V753.2H238.7ZM258.5 748.6H265.2V753.2H258.5ZM218.8 757.6H225.5V762.1H218.8ZM285.0 757.6H291.7V762.1H285.0ZM318.1 757.6H338.1V762.1H318.1ZM179.1 762.1H185.7V766.6H179.1ZM212.2 762.1H218.9V766.6H212.2ZM285.0 762.1H291.7V766.6H285.0ZM172.4 766.6H179.1V771.1H172.4ZM212.2 771.0H218.9V775.6H212.2ZM198.9 789.0H212.2V793.5H198.9ZM192.3 793.4H199.0V798.0H192.3ZM218.8 797.9H225.5V802.5H218.8ZM179.1 802.4H185.7V806.9H179.1ZM212.2 806.9H218.9V811.4H212.2Z"/>
<path shape-rendering="crispEdges" fill="#ffae00" d="M126.1 748.6H132.8V753.2H126.1ZM198.9 753.1H205.6V757.6H198.9ZM205.6 797.9H212.2V802.5H205.6ZM192.3 806.9H199.0V811.4H192.3Z"/>
<path shape-rendering="crispEdges" fill="#ffe000" d="M218.8 748.6H225.5V753.2H218.8ZM318.1 748.6H324.8V753.2H318.1ZM225.4 753.1H232.1V757.6H225.4ZM351.3 753.1H357.9V757.6H351.3Z"/>
<path shape-rendering="crispEdges" fill="#ffbf00" d="M245.3 748.6H252.0V753.2H245.3ZM324.8 748.6H331.4V753.2H324.8ZM205.6 757.6H212.2V762.1H205.6ZM298.3 757.6H304.9V762.1H298.3ZM185.7 775.5H192.4V780.0H185.7ZM205.6 784.5H212.2V789.0H205.6ZM205.6 793.4H218.9V798.0H205.6ZM185.7 806.9H192.4V811.4H185.7Z"/>
<path shape-rendering="crispEdges" fill="#ffff4f" d="M331.4 748.6H344.7V753.2H331.4Z"/>
<path shape-rendering="crispEdges" fill="#fff100" d="M344.6 748.6H351.3V753.2H344.6ZM338.0 753.1H344.7V757.6H338.0Z"/>
<path shape-rendering="crispEdges" fill="#ffff36" d="M351.3 748.6H357.9V753.2H351.3ZM318.1 753.1H324.8V757.6H318.1Z"/>
<path shape-rendering="crispEdges" fill="#ffff1d" d="M331.4 753.1H338.1V757.6H331.4ZM357.9 753.1H364.6V757.6H357.9ZM212.2 797.9H218.9V802.5H212.2ZM185.7 802.4H192.4V806.9H185.7ZM212.2 802.4H218.9V806.9H212.2Z"/>
<rect x="40.00" y="644.0" width="6.62" height="12.0" fill="#5d51a3" stroke="#3a3478" stroke-width="0.9"/>
<rect x="46.62" y="644.0" width="6.62" height="12.0" fill="#5d51a3" stroke="#3a3478" stroke-width="0.9"/>
<rect x="53.24" y="644.0" width="6.62" height="12.0" fill="#5d51a3" stroke="#3a3478" stroke-width="0.9"/>
<rect x="59.87" y="644.0" width="6.62" height="12.0" fill="#5d51a3" stroke="#3a3478" stroke-width="0.9"/>
<rect x="66.49" y="644.0" width="6.62" height="12.0" fill="#5d51a3" stroke="#3a3478" stroke-width="0.9"/>
<rect x="73.11" y="644.0" width="6.62" height="12.0" fill="#5d51a3" stroke="#3a3478" stroke-width="0.9"/>
<rect x="79.73" y="644.0" width="6.62" height="12.0" fill="#5d51a3" stroke="#3a3478" stroke-width="0.9"/>
<rect x="86.36" y="644.0" width="6.62" height="12.0" fill="#5d51a3" stroke="#3a3478" stroke-width="0.9"/>
<rect x="92.98" y="644.0" width="6.62" height="12.0" fill="#5d51a3" stroke="#3a3478" stroke-width="0.9"/>
<rect x="99.60" y="644.0" width="6.62" height="12.0" fill="#585ea8" stroke="#3a3478" stroke-width="0.9"/>
<rect x="106.22" y="644.0" width="6.62" height="12.0" fill="#5761a9" stroke="#3a3478" stroke-width="0.9"/>
<rect x="112.85" y="644.0" width="6.62" height="12.0" fill="#5664aa" stroke="#3a3478" stroke-width="0.9"/>
<rect x="119.47" y="644.0" width="6.62" height="12.0" fill="#5467ac" stroke="#3a3478" stroke-width="0.9"/>
<rect x="126.09" y="644.0" width="6.62" height="12.0" fill="#5369ad" stroke="#3a3478" stroke-width="0.9"/>
<rect x="132.71" y="644.0" width="6.62" height="12.0" fill="#526cae" stroke="#3a3478" stroke-width="0.9"/>
<rect x="139.34" y="644.0" width="6.62" height="12.0" fill="#4e76b2" stroke="#3a3478" stroke-width="0.9"/>
<rect x="145.96" y="644.0" width="6.62" height="12.0" fill="#4e76b2" stroke="#3a3478" stroke-width="0.9"/>
<rect x="152.58" y="644.0" width="6.62" height="12.0" fill="#4e76b2" stroke="#3a3478" stroke-width="0.9"/>
<rect x="159.20" y="644.0" width="6.62" height="12.0" fill="#4e76b2" stroke="#3a3478" stroke-width="0.9"/>
<rect x="165.83" y="644.0" width="6.62" height="12.0" fill="#4e76b2" stroke="#3a3478" stroke-width="0.9"/>
<rect x="172.45" y="644.0" width="6.62" height="12.0" fill="#5663aa" stroke="#3a3478" stroke-width="0.9"/>
<rect x="179.07" y="644.0" width="6.62" height="12.0" fill="#559aaf" stroke="#3a3478" stroke-width="0.9"/>
<rect x="185.69" y="644.0" width="6.62" height="12.0" fill="#58a1ae" stroke="#3a3478" stroke-width="0.9"/>
<rect x="192.32" y="644.0" width="6.62" height="12.0" fill="#58a1ae" stroke="#3a3478" stroke-width="0.9"/>
<rect x="198.94" y="644.0" width="6.62" height="12.0" fill="#5ba8ac" stroke="#3a3478" stroke-width="0.9"/>
<rect x="205.56" y="644.0" width="6.62" height="12.0" fill="#7bcaa5" stroke="#3a3478" stroke-width="0.9"/>
<rect x="212.18" y="644.0" width="6.62" height="12.0" fill="#f7fcb3" stroke="#3a3478" stroke-width="0.9"/>
<rect x="218.81" y="644.0" width="6.62" height="12.0" fill="#9dd8a4" stroke="#3a3478" stroke-width="0.9"/>
<rect x="225.43" y="644.0" width="6.62" height="12.0" fill="#4c7bb4" stroke="#3a3478" stroke-width="0.9"/>
<rect x="232.05" y="644.0" width="6.62" height="12.0" fill="#4e76b2" stroke="#3a3478" stroke-width="0.9"/>
<rect x="238.67" y="644.0" width="6.62" height="12.0" fill="#5468ac" stroke="#3a3478" stroke-width="0.9"/>
<rect x="245.30" y="644.0" width="6.62" height="12.0" fill="#5468ac" stroke="#3a3478" stroke-width="0.9"/>
<rect x="251.92" y="644.0" width="6.62" height="12.0" fill="#5468ac" stroke="#3a3478" stroke-width="0.9"/>
<rect x="258.54" y="644.0" width="6.62" height="12.0" fill="#5468ac" stroke="#3a3478" stroke-width="0.9"/>
<rect x="265.16" y="644.0" width="6.62" height="12.0" fill="#5468ac" stroke="#3a3478" stroke-width="0.9"/>
<rect x="271.79" y="644.0" width="6.62" height="12.0" fill="#5468ac" stroke="#3a3478" stroke-width="0.9"/>
<rect x="278.41" y="644.0" width="6.62" height="12.0" fill="#5468ac" stroke="#3a3478" stroke-width="0.9"/>
<rect x="285.03" y="644.0" width="6.62" height="12.0" fill="#5468ac" stroke="#3a3478" stroke-width="0.9"/>
<rect x="291.65" y="644.0" width="6.62" height="12.0" fill="#5468ac" stroke="#3a3478" stroke-width="0.9"/>
<rect x="298.28" y="644.0" width="6.62" height="12.0" fill="#5468ac" stroke="#3a3478" stroke-width="0.9"/>
<rect x="304.90" y="644.0" width="6.62" height="12.0" fill="#5468ac" stroke="#3a3478" stroke-width="0.9"/>
<rect x="311.52" y="644.0" width="6.62" height="12.0" fill="#5468ac" stroke="#3a3478" stroke-width="0.9"/>
<rect x="318.14" y="644.0" width="6.62" height="12.0" fill="#5468ac" stroke="#3a3478" stroke-width="0.9"/>
<rect x="324.77" y="644.0" width="6.62" height="12.0" fill="#4a80b6" stroke="#3a3478" stroke-width="0.9"/>
<rect x="331.39" y="644.0" width="6.62" height="12.0" fill="#5294b1" stroke="#3a3478" stroke-width="0.9"/>
<rect x="338.01" y="644.0" width="6.62" height="12.0" fill="#559aaf" stroke="#3a3478" stroke-width="0.9"/>
<rect x="344.63" y="644.0" width="6.62" height="12.0" fill="#4e76b2" stroke="#3a3478" stroke-width="0.9"/>
<rect x="351.26" y="644.0" width="6.62" height="12.0" fill="#5071b0" stroke="#3a3478" stroke-width="0.9"/>
<rect x="357.88" y="644.0" width="6.62" height="12.0" fill="#5071b0" stroke="#3a3478" stroke-width="0.9"/>
<text x="40.5" y="71.5" font-size="16.5" text-anchor="start" fill="#fff" font-weight="bold" font-style="normal" font-family="Liberation Sans" >(i)</text>
<text x="361.2" y="69.8" font-size="12.7" text-anchor="end" fill="#fff" font-weight="normal" font-style="normal" font-family="Liberation Sans" >0%</text>
<path d="M328.4 67.2h9.6M328.4 64.0h9.6" stroke="#fff" stroke-width="1" fill="none"/>
<text x="315.4" y="70.4" font-size="14" fill="#fff" font-style="italic" font-family="Liberation Serif">O</text>
<path d="M319.8 59.6q1.6 -2.2 3.2 -0.6t3.2 -0.8" stroke="#fff" stroke-width="0.9" fill="none"/>
<text x="310.7" y="69.8" font-size="12.8" text-anchor="end" fill="#fff" font-weight="normal" font-style="normal" font-family="Liberation Sans" >Particulate</text>
<text x="33.7" y="191.5" font-size="12" text-anchor="end" fill="#1a1a1a" font-weight="normal" font-style="normal" font-family="Liberation Sans" >20</text>
<text x="33.7" y="146.6" font-size="12" text-anchor="end" fill="#1a1a1a" font-weight="normal" font-style="normal" font-family="Liberation Sans" >40</text>
<text x="33.7" y="101.8" font-size="12" text-anchor="end" fill="#1a1a1a" font-weight="normal" font-style="normal" font-family="Liberation Sans" >60</text>
<text transform="translate(11,141.5) rotate(-90)" font-size="14" text-anchor="middle" font-style="italic" font-family="Liberation Serif" fill="#222">Q</text>
<rect x="126.25" y="198.80" width="6.8" height="6.9" fill="#00ffff"/>
<rect x="330.50" y="198.00" width="6.8" height="6.9" fill="#00ffff"/>
<rect x="207.60" y="200.15" width="6.6" height="6.6" fill="#00ffff" stroke="#000" stroke-width="1.2"/>
<text x="40.5" y="271.7" font-size="16.5" text-anchor="start" fill="#fff" font-weight="bold" font-style="normal" font-family="Liberation Sans" >(ii)</text>
<text x="361.2" y="270.0" font-size="12.7" text-anchor="end" fill="#fff" font-weight="normal" font-style="normal" font-family="Liberation Sans" >10%</text>
<path d="M321.4 267.4h9.6M321.4 264.2h9.6" stroke="#fff" stroke-width="1" fill="none"/>
<text x="308.4" y="270.6" font-size="14" fill="#fff" font-style="italic" font-family="Liberation Serif">O</text>
<path d="M312.8 259.8q1.6 -2.2 3.2 -0.6t3.2 -0.8" stroke="#fff" stroke-width="0.9" fill="none"/>
<text x="303.7" y="270.0" font-size="12.8" text-anchor="end" fill="#fff" font-weight="normal" font-style="normal" font-family="Liberation Sans" >Critical packing</text>
<text x="33.7" y="391.7" font-size="12" text-anchor="end" fill="#1a1a1a" font-weight="normal" font-style="normal" font-family="Liberation Sans" >20</text>
<text x="33.7" y="346.8" font-size="12" text-anchor="end" fill="#1a1a1a" font-weight="normal" font-style="normal" font-family="Liberation Sans" >40</text>
<text x="33.7" y="302.0" font-size="12" text-anchor="end" fill="#1a1a1a" font-weight="normal" font-style="normal" font-family="Liberation Sans" >60</text>
<text transform="translate(11,341.7) rotate(-90)" font-size="14" text-anchor="middle" font-style="italic" font-family="Liberation Serif" fill="#222">Q</text>
<rect x="126.25" y="399.00" width="6.8" height="6.9" fill="#00ffff"/>
<rect x="330.50" y="398.20" width="6.8" height="6.9" fill="#00ffff"/>
<rect x="207.60" y="400.35" width="6.6" height="6.6" fill="#00ffff" stroke="#000" stroke-width="1.2"/>
<text x="40.5" y="472.2" font-size="16.5" text-anchor="start" fill="#fff" font-weight="bold" font-style="normal" font-family="Liberation Sans" >(iii)</text>
<text x="361.2" y="470.5" font-size="12.7" text-anchor="end" fill="#fff" font-weight="normal" font-style="normal" font-family="Liberation Sans" >27%</text>
<path d="M321.4 467.9h9.6M321.4 464.7h9.6" stroke="#fff" stroke-width="1" fill="none"/>
<text x="308.4" y="471.1" font-size="14" fill="#fff" font-style="italic" font-family="Liberation Serif">O</text>
<path d="M312.8 460.3q1.6 -2.2 3.2 -0.6t3.2 -0.8" stroke="#fff" stroke-width="0.9" fill="none"/>
<text x="303.7" y="470.5" font-size="12.8" text-anchor="end" fill="#fff" font-weight="normal" font-style="normal" font-family="Liberation Sans" >Critical packing</text>
<text x="33.7" y="592.3" font-size="12" text-anchor="end" fill="#1a1a1a" font-weight="normal" font-style="normal" font-family="Liberation Sans" >20</text>
<text x="33.7" y="547.4" font-size="12" text-anchor="end" fill="#1a1a1a" font-weight="normal" font-style="normal" font-family="Liberation Sans" >40</text>
<text x="33.7" y="502.6" font-size="12" text-anchor="end" fill="#1a1a1a" font-weight="normal" font-style="normal" font-family="Liberation Sans" >60</text>
<text transform="translate(11,542.2) rotate(-90)" font-size="14" text-anchor="middle" font-style="italic" font-family="Liberation Serif" fill="#222">Q</text>
<rect x="126.25" y="599.60" width="6.8" height="6.9" fill="#00ffff"/>
<rect x="330.50" y="598.80" width="6.8" height="6.9" fill="#00ffff"/>
<rect x="207.60" y="600.95" width="6.6" height="6.6" fill="#00ffff" stroke="#000" stroke-width="1.2"/>
<text x="40.5" y="673.5" font-size="16.5" text-anchor="start" fill="#fff" font-weight="bold" font-style="normal" font-family="Liberation Sans" >(iv)</text>
<text x="361.2" y="671.8" font-size="12.7" text-anchor="end" fill="#fff" font-weight="normal" font-style="normal" font-family="Liberation Sans" >49%</text>
<path d="M321.4 669.2h9.6M321.4 666.0h9.6" stroke="#fff" stroke-width="1" fill="none"/>
<text x="308.4" y="672.4" font-size="14" fill="#fff" font-style="italic" font-family="Liberation Serif">O</text>
<path d="M312.8 661.6q1.6 -2.2 3.2 -0.6t3.2 -0.8" stroke="#fff" stroke-width="0.9" fill="none"/>
<text x="303.7" y="671.8" font-size="12.8" text-anchor="end" fill="#fff" font-weight="normal" font-style="normal" font-family="Liberation Sans" >Aggregate</text>
<text x="33.7" y="792.0" font-size="12" text-anchor="end" fill="#1a1a1a" font-weight="normal" font-style="normal" font-family="Liberation Sans" >20</text>
<text x="33.7" y="747.1" font-size="12" text-anchor="end" fill="#1a1a1a" font-weight="normal" font-style="normal" font-family="Liberation Sans" >40</text>
<text x="33.7" y="702.3" font-size="12" text-anchor="end" fill="#1a1a1a" font-weight="normal" font-style="normal" font-family="Liberation Sans" >60</text>
<text transform="translate(11,743.5) rotate(-90)" font-size="14" text-anchor="middle" font-style="italic" font-family="Liberation Serif" fill="#222">Q</text>
<rect x="126.25" y="799.30" width="6.8" height="6.9" fill="#00ffff"/>
<rect x="330.50" y="798.50" width="6.8" height="6.9" fill="#00ffff"/>
<rect x="207.60" y="800.65" width="6.6" height="6.6" fill="#00ffff" stroke="#000" stroke-width="1.2"/>

<circle cx="99.5" cy="62.3" r="4.3" fill="#fff" stroke="#000" stroke-width="1.2"/>
<line x1="88.0" y1="89.0" x2="92.8" y2="76.5" stroke="#fff" stroke-width="1.7"/><polygon points="95.5,69.5 95.8,77.6 89.8,75.4" fill="#fff"/>
<text x="54.5" y="99.5" font-size="11.5" text-anchor="start" fill="#fff" font-weight="normal" font-style="normal" font-family="Liberation Sans" >Mode 1</text>
<text x="103.8" y="217.2" font-size="12.5" text-anchor="start" fill="#fff" font-weight="normal" font-style="normal" font-family="Liberation Sans" >MDz</text>
<text x="197.8" y="222.2" font-size="12.5" text-anchor="start" fill="#fff" font-weight="normal" font-style="normal" font-family="Liberation Sans" >EDx</text>
<text x="319.3" y="217.2" font-size="12.5" text-anchor="start" fill="#fff" font-weight="normal" font-style="normal" font-family="Liberation Sans" >EQ</text>
<circle cx="219.3" cy="203.6" r="4.3" fill="#fff" stroke="#000" stroke-width="1.2"/>
<line x1="236.0" y1="181.0" x2="230.5" y2="188.5" stroke="#fff" stroke-width="1.7"/><polygon points="226.0,194.5 227.9,186.6 233.0,190.4" fill="#fff"/>
<text x="220.0" y="178.0" font-size="11.5" text-anchor="start" fill="#fff" font-weight="normal" font-style="normal" font-family="Liberation Sans" >Mode 2</text>
<circle cx="338.7" cy="352.8" r="4.3" fill="#fff" stroke="#000" stroke-width="1.2"/>
<line x1="338.7" y1="324.0" x2="338.7" y2="333.5" stroke="#fff" stroke-width="1.7"/><polygon points="338.7,341.0 335.5,333.5 341.9,333.5" fill="#fff"/>
<text x="316.0" y="320.0" font-size="11.5" text-anchor="start" fill="#fff" font-weight="normal" font-style="normal" font-family="Liberation Sans" >Mode 3</text>
<circle cx="70.3" cy="770.6" r="4.3" fill="#fff" stroke="#000" stroke-width="1.2"/>
<line x1="70.3" y1="810.0" x2="70.3" y2="800.0" stroke="#fff" stroke-width="1.7"/><polygon points="70.3,792.5 73.5,800.0 67.1,800.0" fill="#fff"/>
<text x="49.0" y="823.3" font-size="11.5" text-anchor="start" fill="#fff" font-weight="normal" font-style="normal" font-family="Liberation Sans" >Mode 4</text>
<circle cx="149.3" cy="786.2" r="4.3" fill="#fff" stroke="#000" stroke-width="1.2"/>
<line x1="149.3" y1="732.5" x2="149.3" y2="742.0" stroke="#fff" stroke-width="1.7"/><polygon points="149.3,749.5 146.1,742.0 152.5,742.0" fill="#fff"/>
<text x="127.5" y="727.5" font-size="11.5" text-anchor="start" fill="#fff" font-weight="normal" font-style="normal" font-family="Liberation Sans" >Mode 5</text>
<text x="53.8" y="848.3" font-size="12" text-anchor="middle" fill="#1a1a1a" font-weight="normal" font-style="normal" font-family="Liberation Sans" >0.14</text>
<text x="103.3" y="848.3" font-size="12" text-anchor="middle" fill="#1a1a1a" font-weight="normal" font-style="normal" font-family="Liberation Sans" >0.16</text>
<text x="152.8" y="848.3" font-size="12" text-anchor="middle" fill="#1a1a1a" font-weight="normal" font-style="normal" font-family="Liberation Sans" >0.18</text>
<text x="202.3" y="848.3" font-size="12" text-anchor="middle" fill="#1a1a1a" font-weight="normal" font-style="normal" font-family="Liberation Sans" >0.2</text>
<text x="251.8" y="848.3" font-size="12" text-anchor="middle" fill="#1a1a1a" font-weight="normal" font-style="normal" font-family="Liberation Sans" >0.22</text>
<text x="301.3" y="848.3" font-size="12" text-anchor="middle" fill="#1a1a1a" font-weight="normal" font-style="normal" font-family="Liberation Sans" >0.24</text>
<text x="350.8" y="848.3" font-size="12" text-anchor="middle" fill="#1a1a1a" font-weight="normal" font-style="normal" font-family="Liberation Sans" >0.26</text>
<text x="202.7" y="869.5" font-size="19" text-anchor="middle" font-style="italic" font-family="Liberation Serif" fill="#222">&#8467;/&#955;</text>
<text x="0.5" y="11.2" font-size="17" text-anchor="start" fill="#000" font-weight="bold" font-style="normal" font-family="Liberation Sans" >a</text>
<text x="94.3" y="11.8" font-size="12.7" text-anchor="middle" fill="#1a1a1a" font-weight="normal" font-style="normal" font-family="Liberation Sans" >Excitation</text>
<text x="272.3" y="11.8" font-size="12.7" text-anchor="middle" fill="#1a1a1a" font-weight="normal" font-style="normal" font-family="Liberation Sans" >Density of states</text>
<defs><linearGradient id="gsp" x1="0" x2="1" y1="0" y2="0"><stop offset="0%" stop-color="#5e4fa2"/><stop offset="10%" stop-color="#4a80b6"/><stop offset="20%" stop-color="#66c2a5"/><stop offset="30%" stop-color="#abdda4"/><stop offset="40%" stop-color="#e6f598"/><stop offset="50%" stop-color="#ffffbf"/><stop offset="60%" stop-color="#fee08b"/><stop offset="70%" stop-color="#fdae61"/><stop offset="80%" stop-color="#f46d43"/><stop offset="90%" stop-color="#d53e4f"/><stop offset="100%" stop-color="#9e0142"/></linearGradient>
<linearGradient id="ghot" x1="0" x2="1" y1="0" y2="0"><stop offset="0" stop-color="#0b0000"/><stop offset="0.365" stop-color="#ff0000"/><stop offset="0.746" stop-color="#ffff00"/><stop offset="1" stop-color="#ffffff"/></linearGradient></defs>
<rect x="40" y="29.1" width="108.4" height="8.3" fill="url(#gsp)" stroke="#888" stroke-width="0.3"/>
<rect x="187.8" y="29.2" width="176.7" height="8.2" fill="url(#ghot)" stroke="#888" stroke-width="0.3"/>
<text x="58.8" y="27.6" font-size="9.6" text-anchor="middle" fill="#1a1a1a" font-weight="normal" font-style="normal" font-family="Liberation Sans" >0.5</text>
<text x="94.9" y="27.6" font-size="9.6" text-anchor="middle" fill="#1a1a1a" font-weight="normal" font-style="normal" font-family="Liberation Sans" >1.5</text>
<text x="130.9" y="27.6" font-size="9.6" text-anchor="middle" fill="#1a1a1a" font-weight="normal" font-style="normal" font-family="Liberation Sans" >2.5</text>
<text x="141.5" y="21.5" font-size="7" fill="#1a1a1a" font-family="Liberation Sans">x10<tspan dy="-3" font-size="5">-11</tspan></text>
<text x="232.5" y="27.6" font-size="9.6" fill="#1a1a1a" font-family="Liberation Sans">10<tspan dy="-4" font-size="6.5">&#8722;1</tspan></text>
<text x="299.6" y="27.6" font-size="9.6" fill="#1a1a1a" font-family="Liberation Sans">10<tspan dy="-4" font-size="6.5">0</tspan></text><defs><filter id="bl" x="-50%" y="-50%" width="200%" height="200%"><feGaussianBlur stdDeviation="2.2"/></filter><filter id="bs" x="-50%" y="-50%" width="200%" height="200%"><feGaussianBlur stdDeviation="1.2"/></filter><filter id="bb" x="-50%" y="-50%" width="200%" height="200%"><feGaussianBlur stdDeviation="4.5"/></filter></defs>
<rect x="415" y="5.9" width="268.6" height="129" fill="none" stroke="#1c6890" stroke-width="1.7" stroke-dasharray="6.6 4.2"/>
<rect x="531.6" y="143.2" width="151.6" height="134" fill="none" stroke="#8e389f" stroke-width="1.7" stroke-dasharray="6.6 4.2"/>
<rect x="415.5" y="285.8" width="268" height="135.8" fill="none" stroke="#e05a1c" stroke-width="1.7" stroke-dasharray="6.6 4.2"/>
<text x="387.3" y="12.8" font-size="17" text-anchor="start" fill="#000" font-weight="bold" font-style="normal" font-family="Liberation Sans" >b</text>
<text x="420.8" y="24.2" font-size="15.5" text-anchor="start" fill="#000" font-weight="bold" font-style="normal" font-family="Liberation Sans" >(i)</text>
<text x="536.0" y="161.0" font-size="15.5" text-anchor="start" fill="#000" font-weight="bold" font-style="normal" font-family="Liberation Sans" >(ii)</text>
<text x="420.8" y="306.0" font-size="15.5" text-anchor="start" fill="#000" font-weight="bold" font-style="normal" font-family="Liberation Sans" >(iv)</text>
<text x="491.0" y="21.0" font-size="13" text-anchor="middle" fill="#000" font-weight="normal" font-style="normal" font-family="Liberation Sans" >Mode 1</text>
<text x="491.0" y="33.5" font-size="12.2" text-anchor="middle" fill="#000" font-weight="normal" font-style="normal" font-family="Liberation Sans" >470+3i THz</text>
<text x="612.5" y="21.0" font-size="13" text-anchor="middle" fill="#000" font-weight="normal" font-style="normal" font-family="Liberation Sans" >Mode 2</text>
<text x="612.5" y="33.5" font-size="12.2" text-anchor="middle" fill="#000" font-weight="normal" font-style="normal" font-family="Liberation Sans" >618+25i THz</text>
<text x="602.5" y="161.5" font-size="13" text-anchor="middle" fill="#000" font-weight="normal" font-style="normal" font-family="Liberation Sans" >Mode 3</text>
<text x="602.5" y="174.0" font-size="12.2" text-anchor="middle" fill="#000" font-weight="normal" font-style="normal" font-family="Liberation Sans" >765+11i THz</text>
<text x="490.0" y="307.0" font-size="13" text-anchor="middle" fill="#000" font-weight="normal" font-style="normal" font-family="Liberation Sans" >Mode 4</text>
<text x="490.0" y="319.5" font-size="12.2" text-anchor="middle" fill="#000" font-weight="normal" font-style="normal" font-family="Liberation Sans" >439+8i THz</text>
<text x="611.7" y="307.0" font-size="13" text-anchor="middle" fill="#000" font-weight="normal" font-style="normal" font-family="Liberation Sans" >Mode 5</text>
<text x="611.7" y="319.5" font-size="12.2" text-anchor="middle" fill="#000" font-weight="normal" font-style="normal" font-family="Liberation Sans" >535+13i THz</text>
<clipPath id="cpm1"><rect x="444.4" y="37.0" width="90.2" height="89.2"/></clipPath>
<g clip-path="url(#cpm1)">
<rect x="444.4" y="37.0" width="90.2" height="89.2" fill="#5fe8b0"/>
<ellipse cx="489.4" cy="37.0" rx="50.0" ry="3.0" fill="#e0f820" opacity="1" filter="url(#bl)"/>
<ellipse cx="456.4" cy="37.0" rx="14.0" ry="3.5" fill="#fff000" opacity="1" filter="url(#bl)"/>
<ellipse cx="489.4" cy="51.0" rx="70.0" ry="12.0" fill="#20d8ff" opacity="1" filter="url(#bb)"/>
<ellipse cx="458.1" cy="50.7" rx="5.0" ry="4.0" fill="#0040ff" opacity="0.9" filter="url(#bl)"/>
<ellipse cx="473.8" cy="49.8" rx="5.0" ry="4.0" fill="#0040ff" opacity="0.8" filter="url(#bl)"/>
<ellipse cx="505.4" cy="49.0" rx="6.0" ry="6.0" fill="#0000d0" opacity="0.9" filter="url(#bl)"/>
<ellipse cx="529.9" cy="49.8" rx="5.0" ry="7.0" fill="#0040ff" opacity="0.9" filter="url(#bl)"/>
<ellipse cx="524.4" cy="60.0" rx="5.0" ry="4.0" fill="#0040ff" opacity="0.8" filter="url(#bl)"/>
<ellipse cx="484.4" cy="54.0" rx="5.0" ry="4.0" fill="#0090ff" opacity="0.7" filter="url(#bl)"/>
<ellipse cx="494.4" cy="45.0" rx="4.0" ry="3.0" fill="#0090ff" opacity="0.6" filter="url(#bl)"/>
<ellipse cx="489.4" cy="62.0" rx="70.0" ry="2.2" fill="#e0f820" opacity="0.9" filter="url(#bl)"/>
<ellipse cx="489.4" cy="73.0" rx="70.0" ry="8.5" fill="#ffc800" opacity="1" filter="url(#bb)"/>
<ellipse cx="451.1" cy="73.0" rx="7.0" ry="5.0" fill="#ff5000" opacity="0.95" filter="url(#bl)"/>
<ellipse cx="470.4" cy="71.0" rx="8.0" ry="4.0" fill="#ff8800" opacity="0.9" filter="url(#bl)"/>
<ellipse cx="500.1" cy="74.3" rx="8.0" ry="5.0" fill="#ff5000" opacity="0.95" filter="url(#bl)"/>
<ellipse cx="528.1" cy="70.0" rx="6.0" ry="4.0" fill="#ff8800" opacity="0.8" filter="url(#bl)"/>
<ellipse cx="484.4" cy="76.0" rx="6.0" ry="3.0" fill="#ff8800" opacity="0.7" filter="url(#bl)"/>
<ellipse cx="489.4" cy="85.5" rx="70.0" ry="2.2" fill="#e0f820" opacity="0.9" filter="url(#bl)"/>
<ellipse cx="489.4" cy="97.0" rx="70.0" ry="9.0" fill="#20d8ff" opacity="1" filter="url(#bb)"/>
<ellipse cx="487.8" cy="97.0" rx="6.0" ry="6.0" fill="#0000d0" opacity="0.9" filter="url(#bl)"/>
<ellipse cx="473.8" cy="93.6" rx="5.0" ry="4.0" fill="#0040ff" opacity="0.8" filter="url(#bl)"/>
<ellipse cx="529.9" cy="95.3" rx="5.0" ry="6.0" fill="#0040ff" opacity="0.9" filter="url(#bl)"/>
<ellipse cx="504.4" cy="97.0" rx="6.0" ry="4.0" fill="#0090ff" opacity="0.7" filter="url(#bl)"/>
<ellipse cx="456.4" cy="97.0" rx="5.0" ry="4.0" fill="#0090ff" opacity="0.6" filter="url(#bl)"/>
<ellipse cx="514.4" cy="95.0" rx="4.0" ry="3.0" fill="#0090ff" opacity="0.6" filter="url(#bl)"/>
<ellipse cx="489.4" cy="107.5" rx="70.0" ry="2.2" fill="#e0f820" opacity="0.9" filter="url(#bl)"/>
<ellipse cx="489.4" cy="117.0" rx="70.0" ry="7.5" fill="#ffc800" opacity="1" filter="url(#bb)"/>
<ellipse cx="451.1" cy="115.5" rx="6.0" ry="5.0" fill="#f01000" opacity="0.9" filter="url(#bl)"/>
<ellipse cx="500.1" cy="119.9" rx="7.0" ry="4.0" fill="#f01000" opacity="0.95" filter="url(#bl)"/>
<ellipse cx="473.8" cy="114.6" rx="7.0" ry="4.0" fill="#ff8800" opacity="0.9" filter="url(#bl)"/>
<ellipse cx="517.4" cy="114.6" rx="7.0" ry="4.0" fill="#ff8800" opacity="0.9" filter="url(#bl)"/>
<ellipse cx="532.4" cy="117.0" rx="3.0" ry="4.0" fill="#ff5000" opacity="0.8" filter="url(#bl)"/>
<ellipse cx="489.4" cy="126.5" rx="70.0" ry="2.0" fill="#e0f820" opacity="0.9" filter="url(#bl)"/>
<rect x="444.1" y="42.8" width="6.9" height="6.9" fill="#78f0a0" fill-opacity="0.45"/>
<rect x="470.1" y="36.1" width="6.9" height="6.9" fill="#78f0a0" fill-opacity="0.45"/>
<rect x="482.9" y="41.0" width="6.9" height="6.9" fill="#78f0a0" fill-opacity="0.45"/>
<rect x="462.8" y="47.8" width="6.9" height="6.9" fill="#78f0a0" fill-opacity="0.45"/>
<rect x="506.8" y="44.5" width="6.9" height="6.9" fill="#78f0a0" fill-opacity="0.45"/>
<rect x="519.4" y="48.9" width="6.9" height="6.9" fill="#78f0a0" fill-opacity="0.45"/>
<rect x="516.8" y="35.4" width="6.9" height="6.9" fill="#78f0a0" fill-opacity="0.45"/>
<rect x="495.2" y="56.5" width="6.9" height="6.9" fill="#78f0a0" fill-opacity="0.45"/>
<rect x="471.2" y="59.1" width="6.9" height="6.9" fill="#78f0a0" fill-opacity="0.45"/>
<rect x="442.3" y="60.8" width="6.9" height="6.9" fill="#78f0a0" fill-opacity="0.45"/>
<rect x="457.2" y="65.0" width="6.9" height="6.9" fill="#78f0a0" fill-opacity="0.45"/>
<rect x="507.6" y="71.2" width="6.9" height="6.9" fill="#78f0a0" fill-opacity="0.45"/>
<rect x="486.1" y="74.0" width="6.9" height="6.9" fill="#78f0a0" fill-opacity="0.45"/>
<rect x="460.2" y="79.2" width="6.9" height="6.9" fill="#78f0a0" fill-opacity="0.45"/>
<rect x="528.1" y="77.8" width="6.9" height="6.9" fill="#78f0a0" fill-opacity="0.45"/>
<rect x="496.3" y="84.5" width="6.9" height="6.9" fill="#78f0a0" fill-opacity="0.45"/>
<rect x="517.6" y="85.5" width="6.9" height="6.9" fill="#78f0a0" fill-opacity="0.45"/>
<rect x="480.1" y="89.2" width="6.9" height="6.9" fill="#78f0a0" fill-opacity="0.45"/>
<rect x="446.8" y="90.5" width="6.9" height="6.9" fill="#78f0a0" fill-opacity="0.45"/>
<rect x="460.8" y="96.2" width="6.9" height="6.9" fill="#78f0a0" fill-opacity="0.45"/>
<rect x="489.3" y="99.2" width="6.9" height="6.9" fill="#78f0a0" fill-opacity="0.45"/>
<rect x="514.7" y="99.2" width="6.9" height="6.9" fill="#78f0a0" fill-opacity="0.45"/>
<rect x="502.8" y="105.5" width="6.9" height="6.9" fill="#78f0a0" fill-opacity="0.45"/>
<rect x="478.2" y="106.8" width="6.9" height="6.9" fill="#78f0a0" fill-opacity="0.45"/>
<rect x="455.4" y="111.5" width="6.9" height="6.9" fill="#78f0a0" fill-opacity="0.45"/>
<rect x="528.1" y="110.2" width="6.9" height="6.9" fill="#78f0a0" fill-opacity="0.45"/>
<rect x="489.6" y="117.2" width="6.9" height="6.9" fill="#78f0a0" fill-opacity="0.45"/>
<rect x="502.8" y="120.0" width="6.9" height="6.9" fill="#78f0a0" fill-opacity="0.45"/>
<rect x="444.1" y="42.8" width="6.9" height="6.9" fill="none" stroke="#000" stroke-width="1.4"/>
<rect x="470.1" y="36.1" width="6.9" height="6.9" fill="none" stroke="#000" stroke-width="1.4"/>
<rect x="482.9" y="41.0" width="6.9" height="6.9" fill="none" stroke="#000" stroke-width="1.4"/>
<rect x="462.8" y="47.8" width="6.9" height="6.9" fill="none" stroke="#000" stroke-width="1.4"/>
<rect x="506.8" y="44.5" width="6.9" height="6.9" fill="none" stroke="#000" stroke-width="1.4"/>
<rect x="519.4" y="48.9" width="6.9" height="6.9" fill="none" stroke="#000" stroke-width="1.4"/>
<rect x="516.8" y="35.4" width="6.9" height="6.9" fill="none" stroke="#000" stroke-width="1.4"/>
<rect x="495.2" y="56.5" width="6.9" height="6.9" fill="none" stroke="#000" stroke-width="1.4"/>
<rect x="471.2" y="59.1" width="6.9" height="6.9" fill="none" stroke="#000" stroke-width="1.4"/>
<rect x="442.3" y="60.8" width="6.9" height="6.9" fill="none" stroke="#000" stroke-width="1.4"/>
<rect x="457.2" y="65.0" width="6.9" height="6.9" fill="none" stroke="#000" stroke-width="1.4"/>
<rect x="507.6" y="71.2" width="6.9" height="6.9" fill="none" stroke="#000" stroke-width="1.4"/>
<rect x="486.1" y="74.0" width="6.9" height="6.9" fill="none" stroke="#000" stroke-width="1.4"/>
<rect x="460.2" y="79.2" width="6.9" height="6.9" fill="none" stroke="#000" stroke-width="1.4"/>
<rect x="528.1" y="77.8" width="6.9" height="6.9" fill="none" stroke="#000" stroke-width="1.4"/>
<rect x="496.3" y="84.5" width="6.9" height="6.9" fill="none" stroke="#000" stroke-width="1.4"/>
<rect x="517.6" y="85.5" width="6.9" height="6.9" fill="none" stroke="#000" stroke-width="1.4"/>
<rect x="480.1" y="89.2" width="6.9" height="6.9" fill="none" stroke="#000" stroke-width="1.4"/>
<rect x="446.8" y="90.5" width="6.9" height="6.9" fill="none" stroke="#000" stroke-width="1.4"/>
<rect x="460.8" y="96.2" width="6.9" height="6.9" fill="none" stroke="#000" stroke-width="1.4"/>
<rect x="489.3" y="99.2" width="6.9" height="6.9" fill="none" stroke="#000" stroke-width="1.4"/>
<rect x="514.7" y="99.2" width="6.9" height="6.9" fill="none" stroke="#000" stroke-width="1.4"/>
<rect x="502.8" y="105.5" width="6.9" height="6.9" fill="none" stroke="#000" stroke-width="1.4"/>
<rect x="478.2" y="106.8" width="6.9" height="6.9" fill="none" stroke="#000" stroke-width="1.4"/>
<rect x="455.4" y="111.5" width="6.9" height="6.9" fill="none" stroke="#000" stroke-width="1.4"/>
<rect x="528.1" y="110.2" width="6.9" height="6.9" fill="none" stroke="#000" stroke-width="1.4"/>
<rect x="489.6" y="117.2" width="6.9" height="6.9" fill="none" stroke="#000" stroke-width="1.4"/>
<rect x="502.8" y="120.0" width="6.9" height="6.9" fill="none" stroke="#000" stroke-width="1.4"/>
</g>
<rect x="444.4" y="37.0" width="90.2" height="89.2" fill="none" stroke="#999" stroke-width="0.6"/>
<clipPath id="cpm2"><rect x="567.3" y="37.0" width="90.4" height="89.2"/></clipPath>
<g clip-path="url(#cpm2)">
<rect x="567.3" y="37.0" width="90.4" height="89.2" fill="#b8f848"/>
<ellipse cx="581.3" cy="105.0" rx="14.0" ry="6.0" fill="#fff000" opacity="0.9" filter="url(#bb)"/>
<ellipse cx="607.3" cy="109.0" rx="8.0" ry="10.0" fill="#fff000" opacity="0.7" filter="url(#bb)"/>
<ellipse cx="627.3" cy="67.0" rx="14.0" ry="10.0" fill="#e0f820" opacity="0.6" filter="url(#bb)"/>
<ellipse cx="597.3" cy="82.0" rx="10.0" ry="8.0" fill="#e0f820" opacity="0.6" filter="url(#bb)"/>
<ellipse cx="647.3" cy="77.0" rx="6.0" ry="12.0" fill="#5fe8b0" opacity="0.6" filter="url(#bb)"/>
<ellipse cx="575.3" cy="57.0" rx="6.0" ry="10.0" fill="#5fe8b0" opacity="0.7" filter="url(#bb)"/>
<ellipse cx="617.3" cy="95.0" rx="12.0" ry="8.0" fill="#5fe8b0" opacity="0.5" filter="url(#bb)"/>
<ellipse cx="570.3" cy="113.5" rx="2.0" ry="3.5" fill="#00008f" opacity="1" filter="url(#bs)"/>
<ellipse cx="655.8" cy="45.0" rx="1.5" ry="4.0" fill="#0040ff" opacity="0.8" filter="url(#bs)"/>
<ellipse cx="655.3" cy="63.0" rx="1.5" ry="4.0" fill="#0090ff" opacity="0.8" filter="url(#bs)"/>
<ellipse cx="569.3" cy="83.0" rx="1.5" ry="3.0" fill="#0090ff" opacity="0.7" filter="url(#bs)"/>
<ellipse cx="570.5" cy="46.3" rx="5.5" ry="5.5" fill="#50f0e0" opacity="0.85" filter="url(#bl)"/>
<ellipse cx="570.5" cy="46.3" rx="2.8" ry="2.8" fill="#0040ff" opacity="1" filter="url(#bs)"/>
<ellipse cx="596.4" cy="39.6" rx="4.5" ry="4.5" fill="#fff000" opacity="0.9" filter="url(#bl)"/>
<ellipse cx="596.4" cy="39.6" rx="2.6" ry="2.6" fill="#ff8800" opacity="1" filter="url(#bs)"/>
<ellipse cx="609.3" cy="44.5" rx="4.5" ry="4.5" fill="#fff000" opacity="0.9" filter="url(#bl)"/>
<ellipse cx="609.3" cy="44.5" rx="2.6" ry="2.6" fill="#f01000" opacity="1" filter="url(#bs)"/>
<ellipse cx="633.2" cy="48.0" rx="4.5" ry="4.5" fill="#fff000" opacity="0.9" filter="url(#bl)"/>
<ellipse cx="633.2" cy="48.0" rx="2.6" ry="2.6" fill="#fff000" opacity="1" filter="url(#bs)"/>
<ellipse cx="645.8" cy="52.4" rx="5.5" ry="5.5" fill="#50f0e0" opacity="0.85" filter="url(#bl)"/>
<ellipse cx="645.8" cy="52.4" rx="2.8" ry="2.8" fill="#20d8ff" opacity="1" filter="url(#bs)"/>
<ellipse cx="643.2" cy="38.9" rx="5.5" ry="5.5" fill="#50f0e0" opacity="0.85" filter="url(#bl)"/>
<ellipse cx="643.2" cy="38.9" rx="2.8" ry="2.8" fill="#0040ff" opacity="1" filter="url(#bs)"/>
<ellipse cx="621.6" cy="60.0" rx="5.5" ry="5.5" fill="#50f0e0" opacity="0.85" filter="url(#bl)"/>
<ellipse cx="621.6" cy="60.0" rx="2.8" ry="2.8" fill="#0090ff" opacity="1" filter="url(#bs)"/>
<ellipse cx="597.6" cy="62.6" rx="5.5" ry="5.5" fill="#50f0e0" opacity="0.85" filter="url(#bl)"/>
<ellipse cx="597.6" cy="62.6" rx="2.8" ry="2.8" fill="#20d8ff" opacity="1" filter="url(#bs)"/>
<ellipse cx="568.7" cy="64.3" rx="5.5" ry="5.5" fill="#50f0e0" opacity="0.85" filter="url(#bl)"/>
<ellipse cx="568.7" cy="64.3" rx="2.8" ry="2.8" fill="#0040ff" opacity="1" filter="url(#bs)"/>
<ellipse cx="583.6" cy="68.5" rx="5.5" ry="5.5" fill="#50f0e0" opacity="0.85" filter="url(#bl)"/>
<ellipse cx="583.6" cy="68.5" rx="2.8" ry="2.8" fill="#0040ff" opacity="1" filter="url(#bs)"/>
<ellipse cx="633.9" cy="74.7" rx="5.5" ry="5.5" fill="#50f0e0" opacity="0.85" filter="url(#bl)"/>
<ellipse cx="633.9" cy="74.7" rx="2.8" ry="2.8" fill="#0040ff" opacity="1" filter="url(#bs)"/>
<ellipse cx="612.5" cy="77.5" rx="5.5" ry="5.5" fill="#50f0e0" opacity="0.85" filter="url(#bl)"/>
<ellipse cx="612.5" cy="77.5" rx="2.8" ry="2.8" fill="#0040ff" opacity="1" filter="url(#bs)"/>
<ellipse cx="586.6" cy="82.7" rx="5.5" ry="5.5" fill="#50f0e0" opacity="0.85" filter="url(#bl)"/>
<ellipse cx="586.6" cy="82.7" rx="2.8" ry="2.8" fill="#0000d0" opacity="1" filter="url(#bs)"/>
<ellipse cx="654.5" cy="81.3" rx="5.5" ry="5.5" fill="#50f0e0" opacity="0.85" filter="url(#bl)"/>
<ellipse cx="654.5" cy="81.3" rx="2.8" ry="2.8" fill="#0040ff" opacity="1" filter="url(#bs)"/>
<ellipse cx="622.7" cy="88.0" rx="5.5" ry="5.5" fill="#50f0e0" opacity="0.85" filter="url(#bl)"/>
<ellipse cx="622.7" cy="88.0" rx="2.8" ry="2.8" fill="#0040ff" opacity="1" filter="url(#bs)"/>
<ellipse cx="644.0" cy="88.9" rx="5.5" ry="5.5" fill="#50f0e0" opacity="0.85" filter="url(#bl)"/>
<ellipse cx="644.0" cy="88.9" rx="2.8" ry="2.8" fill="#0040ff" opacity="1" filter="url(#bs)"/>
<ellipse cx="606.4" cy="92.7" rx="5.5" ry="5.5" fill="#50f0e0" opacity="0.85" filter="url(#bl)"/>
<ellipse cx="606.4" cy="92.7" rx="2.8" ry="2.8" fill="#0040ff" opacity="1" filter="url(#bs)"/>
<ellipse cx="573.1" cy="93.9" rx="5.5" ry="5.5" fill="#50f0e0" opacity="0.85" filter="url(#bl)"/>
<ellipse cx="573.1" cy="93.9" rx="2.8" ry="2.8" fill="#00008f" opacity="1" filter="url(#bs)"/>
<ellipse cx="587.1" cy="99.7" rx="5.5" ry="5.5" fill="#50f0e0" opacity="0.85" filter="url(#bl)"/>
<ellipse cx="587.1" cy="99.7" rx="2.8" ry="2.8" fill="#00008f" opacity="1" filter="url(#bs)"/>
<ellipse cx="615.7" cy="102.7" rx="5.5" ry="5.5" fill="#50f0e0" opacity="0.85" filter="url(#bl)"/>
<ellipse cx="615.7" cy="102.7" rx="2.8" ry="2.8" fill="#0090ff" opacity="1" filter="url(#bs)"/>
<ellipse cx="641.1" cy="102.7" rx="5.5" ry="5.5" fill="#50f0e0" opacity="0.85" filter="url(#bl)"/>
<ellipse cx="641.1" cy="102.7" rx="2.8" ry="2.8" fill="#00008f" opacity="1" filter="url(#bs)"/>
<ellipse cx="629.1" cy="109.0" rx="5.5" ry="5.5" fill="#50f0e0" opacity="0.85" filter="url(#bl)"/>
<ellipse cx="629.1" cy="109.0" rx="2.8" ry="2.8" fill="#0000d0" opacity="1" filter="url(#bs)"/>
<ellipse cx="581.8" cy="115.0" rx="5.5" ry="5.5" fill="#50f0e0" opacity="0.85" filter="url(#bl)"/>
<ellipse cx="581.8" cy="115.0" rx="2.8" ry="2.8" fill="#0040ff" opacity="1" filter="url(#bs)"/>
<ellipse cx="654.5" cy="113.7" rx="5.5" ry="5.5" fill="#50f0e0" opacity="0.85" filter="url(#bl)"/>
<ellipse cx="654.5" cy="113.7" rx="2.8" ry="2.8" fill="#00008f" opacity="1" filter="url(#bs)"/>
<ellipse cx="616.0" cy="120.7" rx="4.5" ry="4.5" fill="#fff000" opacity="0.9" filter="url(#bl)"/>
<ellipse cx="616.0" cy="120.7" rx="2.6" ry="2.6" fill="#f01000" opacity="1" filter="url(#bs)"/>
<ellipse cx="629.1" cy="123.4" rx="4.5" ry="4.5" fill="#fff000" opacity="0.9" filter="url(#bl)"/>
<ellipse cx="629.1" cy="123.4" rx="2.6" ry="2.6" fill="#fff000" opacity="1" filter="url(#bs)"/>
<rect x="567.0" y="42.8" width="6.9" height="6.9" fill="none" stroke="#000" stroke-width="1.4"/>
<rect x="592.9" y="36.1" width="6.9" height="6.9" fill="none" stroke="#000" stroke-width="1.4"/>
<rect x="605.8" y="41.0" width="6.9" height="6.9" fill="none" stroke="#000" stroke-width="1.4"/>
<rect x="585.7" y="47.8" width="6.9" height="6.9" fill="none" stroke="#000" stroke-width="1.4"/>
<rect x="629.7" y="44.5" width="6.9" height="6.9" fill="none" stroke="#000" stroke-width="1.4"/>
<rect x="642.3" y="48.9" width="6.9" height="6.9" fill="none" stroke="#000" stroke-width="1.4"/>
<rect x="639.7" y="35.4" width="6.9" height="6.9" fill="none" stroke="#000" stroke-width="1.4"/>
<rect x="618.1" y="56.5" width="6.9" height="6.9" fill="none" stroke="#000" stroke-width="1.4"/>
<rect x="594.1" y="59.1" width="6.9" height="6.9" fill="none" stroke="#000" stroke-width="1.4"/>
<rect x="565.2" y="60.8" width="6.9" height="6.9" fill="none" stroke="#000" stroke-width="1.4"/>
<rect x="580.1" y="65.0" width="6.9" height="6.9" fill="none" stroke="#000" stroke-width="1.4"/>
<rect x="630.4" y="71.2" width="6.9" height="6.9" fill="none" stroke="#000" stroke-width="1.4"/>
<rect x="609.0" y="74.0" width="6.9" height="6.9" fill="none" stroke="#000" stroke-width="1.4"/>
<rect x="583.1" y="79.2" width="6.9" height="6.9" fill="none" stroke="#000" stroke-width="1.4"/>
<rect x="651.0" y="77.8" width="6.9" height="6.9" fill="none" stroke="#000" stroke-width="1.4"/>
<rect x="619.2" y="84.5" width="6.9" height="6.9" fill="none" stroke="#000" stroke-width="1.4"/>
<rect x="640.5" y="85.5" width="6.9" height="6.9" fill="none" stroke="#000" stroke-width="1.4"/>
<rect x="602.9" y="89.2" width="6.9" height="6.9" fill="none" stroke="#000" stroke-width="1.4"/>
<rect x="569.6" y="90.5" width="6.9" height="6.9" fill="none" stroke="#000" stroke-width="1.4"/>
<rect x="583.6" y="96.2" width="6.9" height="6.9" fill="none" stroke="#000" stroke-width="1.4"/>
<rect x="612.2" y="99.2" width="6.9" height="6.9" fill="none" stroke="#000" stroke-width="1.4"/>
<rect x="637.6" y="99.2" width="6.9" height="6.9" fill="none" stroke="#000" stroke-width="1.4"/>
<rect x="625.6" y="105.5" width="6.9" height="6.9" fill="none" stroke="#000" stroke-width="1.4"/>
<rect x="601.1" y="106.8" width="6.9" height="6.9" fill="none" stroke="#000" stroke-width="1.4"/>
<rect x="578.3" y="111.5" width="6.9" height="6.9" fill="none" stroke="#000" stroke-width="1.4"/>
<rect x="651.0" y="110.2" width="6.9" height="6.9" fill="none" stroke="#000" stroke-width="1.4"/>
<rect x="612.5" y="117.2" width="6.9" height="6.9" fill="none" stroke="#000" stroke-width="1.4"/>
<rect x="625.6" y="120.0" width="6.9" height="6.9" fill="none" stroke="#000" stroke-width="1.4"/>
</g>
<rect x="567.3" y="37.0" width="90.4" height="89.2" fill="none" stroke="#999" stroke-width="0.6"/>
<clipPath id="cpm3"><rect x="557.4" y="177.1" width="89.5" height="88.9"/></clipPath>
<g clip-path="url(#cpm3)">
<rect x="557.4" y="177.1" width="89.5" height="88.9" fill="#8af58a"/>
<ellipse cx="581.4" cy="251.1" rx="20.0" ry="11.0" fill="#fff000" opacity="0.6" filter="url(#bb)"/>
<ellipse cx="593.4" cy="190.1" rx="8.0" ry="11.0" fill="#fff000" opacity="0.55" filter="url(#bb)"/>
<ellipse cx="620.4" cy="250.1" rx="6.0" ry="12.0" fill="#fff000" opacity="0.55" filter="url(#bb)"/>
<ellipse cx="640.4" cy="186.1" rx="6.0" ry="6.0" fill="#e0f820" opacity="0.6" filter="url(#bb)"/>
<ellipse cx="617.4" cy="217.1" rx="10.0" ry="8.0" fill="#e0f820" opacity="0.55" filter="url(#bb)"/>
<ellipse cx="569.4" cy="191.1" rx="8.0" ry="8.0" fill="#e0f820" opacity="0.5" filter="url(#bb)"/>
<ellipse cx="580.4" cy="217.1" rx="6.0" ry="4.0" fill="#20d8ff" opacity="0.7" filter="url(#bb)"/>
<ellipse cx="607.4" cy="185.1" rx="7.0" ry="5.0" fill="#20d8ff" opacity="0.6" filter="url(#bb)"/>
<ellipse cx="641.4" cy="233.1" rx="6.0" ry="6.0" fill="#20d8ff" opacity="0.6" filter="url(#bb)"/>
<ellipse cx="565.4" cy="205.1" rx="6.0" ry="5.0" fill="#20d8ff" opacity="0.6" filter="url(#bb)"/>
<ellipse cx="607.4" cy="239.1" rx="6.0" ry="5.0" fill="#50f0e0" opacity="0.5" filter="url(#bb)"/>
<ellipse cx="569.1" cy="205.0" rx="3.5" ry="3.5" fill="#0090ff" opacity="0.85" filter="url(#bl)"/>
<ellipse cx="568.1" cy="217.0" rx="3.5" ry="3.5" fill="#0090ff" opacity="0.85" filter="url(#bl)"/>
<ellipse cx="591.3" cy="205.0" rx="3.5" ry="3.5" fill="#0090ff" opacity="0.85" filter="url(#bl)"/>
<ellipse cx="590.3" cy="217.0" rx="3.5" ry="3.5" fill="#0090ff" opacity="0.85" filter="url(#bl)"/>
<ellipse cx="595.6" cy="212.8" rx="3.5" ry="3.5" fill="#0090ff" opacity="0.85" filter="url(#bl)"/>
<ellipse cx="594.6" cy="224.8" rx="3.5" ry="3.5" fill="#0090ff" opacity="0.85" filter="url(#bl)"/>
<ellipse cx="560.7" cy="215.6" rx="3.5" ry="3.5" fill="#0090ff" opacity="0.85" filter="url(#bl)"/>
<ellipse cx="559.7" cy="227.6" rx="3.5" ry="3.5" fill="#0090ff" opacity="0.85" filter="url(#bl)"/>
<ellipse cx="632.6" cy="217.7" rx="3.5" ry="3.5" fill="#0090ff" opacity="0.85" filter="url(#bl)"/>
<ellipse cx="631.6" cy="229.7" rx="3.5" ry="3.5" fill="#0090ff" opacity="0.85" filter="url(#bl)"/>
<ellipse cx="572.7" cy="220.2" rx="3.5" ry="3.5" fill="#0090ff" opacity="0.85" filter="url(#bl)"/>
<ellipse cx="571.7" cy="232.2" rx="3.5" ry="3.5" fill="#0090ff" opacity="0.85" filter="url(#bl)"/>
<ellipse cx="589.7" cy="220.2" rx="3.5" ry="3.5" fill="#0090ff" opacity="0.85" filter="url(#bl)"/>
<ellipse cx="588.7" cy="232.2" rx="3.5" ry="3.5" fill="#0090ff" opacity="0.85" filter="url(#bl)"/>
<ellipse cx="562.3" cy="229.7" rx="3.5" ry="3.5" fill="#0090ff" opacity="0.85" filter="url(#bl)"/>
<ellipse cx="561.3" cy="241.7" rx="3.5" ry="3.5" fill="#0090ff" opacity="0.85" filter="url(#bl)"/>
<ellipse cx="629.5" cy="230.4" rx="3.5" ry="3.5" fill="#0090ff" opacity="0.85" filter="url(#bl)"/>
<ellipse cx="628.5" cy="242.4" rx="3.5" ry="3.5" fill="#0090ff" opacity="0.85" filter="url(#bl)"/>
<ellipse cx="562.3" cy="241.4" rx="3.5" ry="3.5" fill="#0090ff" opacity="0.85" filter="url(#bl)"/>
<ellipse cx="561.3" cy="253.4" rx="3.5" ry="3.5" fill="#0090ff" opacity="0.85" filter="url(#bl)"/>
<ellipse cx="607.9" cy="247.1" rx="3.5" ry="3.5" fill="#0090ff" opacity="0.85" filter="url(#bl)"/>
<ellipse cx="606.9" cy="259.1" rx="3.5" ry="3.5" fill="#0090ff" opacity="0.85" filter="url(#bl)"/>
<ellipse cx="593.4" cy="214.9" rx="2.6" ry="2.6" fill="#0040ff" opacity="0.9" filter="url(#bs)"/>
<ellipse cx="631.2" cy="218.6" rx="2.6" ry="2.6" fill="#0040ff" opacity="0.9" filter="url(#bs)"/>
<ellipse cx="630.6" cy="230.1" rx="2.6" ry="2.6" fill="#0040ff" opacity="0.9" filter="url(#bs)"/>
<ellipse cx="561.4" cy="229.1" rx="2.4" ry="2.4" fill="#0040ff" opacity="0.9" filter="url(#bs)"/>
<ellipse cx="561.4" cy="241.6" rx="2.4" ry="2.4" fill="#0040ff" opacity="0.9" filter="url(#bs)"/>
<ellipse cx="571.4" cy="219.1" rx="2.4" ry="2.4" fill="#0040ff" opacity="0.8" filter="url(#bs)"/>
<ellipse cx="589.4" cy="233.1" rx="2.4" ry="2.4" fill="#0040ff" opacity="0.8" filter="url(#bs)"/>
<rect x="574.1" y="178.2" width="7.2" height="7.2" fill="#e4f830" fill-opacity="0.38"/>
<rect x="583.0" y="178.6" width="7.2" height="7.2" fill="#e4f830" fill-opacity="0.38"/>
<rect x="581.3" y="186.0" width="7.2" height="7.2" fill="#e4f830" fill-opacity="0.38"/>
<rect x="632.8" y="183.4" width="7.2" height="7.2" fill="#e4f830" fill-opacity="0.38"/>
<rect x="632.1" y="192.6" width="7.2" height="7.2" fill="#e4f830" fill-opacity="0.38"/>
<rect x="597.8" y="198.3" width="7.2" height="7.2" fill="#e4f830" fill-opacity="0.38"/>
<rect x="608.0" y="198.7" width="7.2" height="7.2" fill="#e4f830" fill-opacity="0.38"/>
<rect x="641.9" y="198.7" width="7.2" height="7.2" fill="#e4f830" fill-opacity="0.38"/>
<rect x="625.8" y="203.6" width="7.2" height="7.2" fill="#e4f830" fill-opacity="0.38"/>
<rect x="636.4" y="206.7" width="7.2" height="7.2" fill="#e4f830" fill-opacity="0.38"/>
<rect x="565.0" y="207.4" width="7.2" height="7.2" fill="#e4f830" fill-opacity="0.38"/>
<rect x="587.2" y="207.4" width="7.2" height="7.2" fill="#e4f830" fill-opacity="0.38"/>
<rect x="600.6" y="206.7" width="7.2" height="7.2" fill="#e4f830" fill-opacity="0.38"/>
<rect x="623.2" y="211.6" width="7.2" height="7.2" fill="#e4f830" fill-opacity="0.38"/>
<rect x="591.5" y="215.2" width="7.2" height="7.2" fill="#e4f830" fill-opacity="0.38"/>
<rect x="556.6" y="218.0" width="7.2" height="7.2" fill="#e4f830" fill-opacity="0.38"/>
<rect x="628.5" y="220.1" width="7.2" height="7.2" fill="#e4f830" fill-opacity="0.38"/>
<rect x="568.6" y="222.6" width="7.2" height="7.2" fill="#e4f830" fill-opacity="0.38"/>
<rect x="585.6" y="222.6" width="7.2" height="7.2" fill="#e4f830" fill-opacity="0.38"/>
<rect x="605.2" y="229.0" width="7.2" height="7.2" fill="#e4f830" fill-opacity="0.38"/>
<rect x="597.2" y="231.7" width="7.2" height="7.2" fill="#e4f830" fill-opacity="0.38"/>
<rect x="558.2" y="232.1" width="7.2" height="7.2" fill="#e4f830" fill-opacity="0.38"/>
<rect x="625.4" y="232.8" width="7.2" height="7.2" fill="#e4f830" fill-opacity="0.38"/>
<rect x="611.6" y="238.5" width="7.2" height="7.2" fill="#e4f830" fill-opacity="0.38"/>
<rect x="558.2" y="243.8" width="7.2" height="7.2" fill="#e4f830" fill-opacity="0.38"/>
<rect x="603.8" y="249.5" width="7.2" height="7.2" fill="#e4f830" fill-opacity="0.38"/>
<rect x="612.2" y="249.5" width="7.2" height="7.2" fill="#e4f830" fill-opacity="0.38"/>
<rect x="634.5" y="250.1" width="7.2" height="7.2" fill="#e4f830" fill-opacity="0.38"/>
<rect x="602.7" y="259.7" width="7.2" height="7.2" fill="#e4f830" fill-opacity="0.38"/>
<ellipse cx="635.7" cy="196.2" rx="3.2" ry="1.6" fill="#ffc800" opacity="0.9" filter="url(#bs)" transform="rotate(-20 635.7 196.2)"/>
<ellipse cx="568.6" cy="211.0" rx="3.3" ry="1.4" fill="#f01000" opacity="1" filter="url(#bs)" transform="rotate(-20 568.6 211.0)"/>
<ellipse cx="590.8" cy="211.0" rx="3.3" ry="1.4" fill="#f01000" opacity="1" filter="url(#bs)" transform="rotate(-20 590.8 211.0)"/>
<ellipse cx="626.8" cy="215.2" rx="3.2" ry="1.6" fill="#fff000" opacity="0.9" filter="url(#bs)" transform="rotate(-20 626.8 215.2)"/>
<ellipse cx="595.1" cy="218.8" rx="3.3" ry="1.4" fill="#f01000" opacity="1" filter="url(#bs)" transform="rotate(-20 595.1 218.8)"/>
<ellipse cx="560.2" cy="221.6" rx="3.3" ry="1.4" fill="#f01000" opacity="1" filter="url(#bs)" transform="rotate(-20 560.2 221.6)"/>
<ellipse cx="632.1" cy="223.7" rx="3.3" ry="1.4" fill="#f01000" opacity="1" filter="url(#bs)" transform="rotate(-20 632.1 223.7)"/>
<ellipse cx="572.2" cy="226.2" rx="3.3" ry="1.4" fill="#f01000" opacity="1" filter="url(#bs)" transform="rotate(-20 572.2 226.2)"/>
<ellipse cx="589.2" cy="226.2" rx="3.3" ry="1.4" fill="#f01000" opacity="1" filter="url(#bs)" transform="rotate(-20 589.2 226.2)"/>
<ellipse cx="561.8" cy="235.7" rx="3.3" ry="1.4" fill="#f01000" opacity="1" filter="url(#bs)" transform="rotate(-20 561.8 235.7)"/>
<ellipse cx="629.0" cy="236.4" rx="3.3" ry="1.4" fill="#f01000" opacity="1" filter="url(#bs)" transform="rotate(-20 629.0 236.4)"/>
<ellipse cx="615.2" cy="242.1" rx="3.2" ry="1.6" fill="#ffc800" opacity="0.9" filter="url(#bs)" transform="rotate(-20 615.2 242.1)"/>
<ellipse cx="561.8" cy="247.4" rx="3.3" ry="1.4" fill="#f01000" opacity="1" filter="url(#bs)" transform="rotate(-20 561.8 247.4)"/>
<ellipse cx="607.4" cy="253.1" rx="3.3" ry="1.4" fill="#ff5000" opacity="1" filter="url(#bs)" transform="rotate(-20 607.4 253.1)"/>
<ellipse cx="606.3" cy="263.3" rx="3.2" ry="1.6" fill="#ff8800" opacity="0.9" filter="url(#bs)" transform="rotate(-20 606.3 263.3)"/>
<rect x="574.1" y="178.2" width="7.2" height="7.2" fill="none" stroke="#000" stroke-width="1.4"/>
<rect x="583.0" y="178.6" width="7.2" height="7.2" fill="none" stroke="#000" stroke-width="1.4"/>
<rect x="581.3" y="186.0" width="7.2" height="7.2" fill="none" stroke="#000" stroke-width="1.4"/>
<rect x="632.8" y="183.4" width="7.2" height="7.2" fill="none" stroke="#000" stroke-width="1.4"/>
<rect x="632.1" y="192.6" width="7.2" height="7.2" fill="none" stroke="#000" stroke-width="1.4"/>
<rect x="597.8" y="198.3" width="7.2" height="7.2" fill="none" stroke="#000" stroke-width="1.4"/>
<rect x="608.0" y="198.7" width="7.2" height="7.2" fill="none" stroke="#000" stroke-width="1.4"/>
<rect x="641.9" y="198.7" width="7.2" height="7.2" fill="none" stroke="#000" stroke-width="1.4"/>
<rect x="625.8" y="203.6" width="7.2" height="7.2" fill="none" stroke="#000" stroke-width="1.4"/>
<rect x="636.4" y="206.7" width="7.2" height="7.2" fill="none" stroke="#000" stroke-width="1.4"/>
<rect x="565.0" y="207.4" width="7.2" height="7.2" fill="none" stroke="#000" stroke-width="1.4"/>
<rect x="587.2" y="207.4" width="7.2" height="7.2" fill="none" stroke="#000" stroke-width="1.4"/>
<rect x="600.6" y="206.7" width="7.2" height="7.2" fill="none" stroke="#000" stroke-width="1.4"/>
<rect x="623.2" y="211.6" width="7.2" height="7.2" fill="none" stroke="#000" stroke-width="1.4"/>
<rect x="591.5" y="215.2" width="7.2" height="7.2" fill="none" stroke="#000" stroke-width="1.4"/>
<rect x="556.6" y="218.0" width="7.2" height="7.2" fill="none" stroke="#000" stroke-width="1.4"/>
<rect x="628.5" y="220.1" width="7.2" height="7.2" fill="none" stroke="#000" stroke-width="1.4"/>
<rect x="568.6" y="222.6" width="7.2" height="7.2" fill="none" stroke="#000" stroke-width="1.4"/>
<rect x="585.6" y="222.6" width="7.2" height="7.2" fill="none" stroke="#000" stroke-width="1.4"/>
<rect x="605.2" y="229.0" width="7.2" height="7.2" fill="none" stroke="#000" stroke-width="1.4"/>
<rect x="597.2" y="231.7" width="7.2" height="7.2" fill="none" stroke="#000" stroke-width="1.4"/>
<rect x="558.2" y="232.1" width="7.2" height="7.2" fill="none" stroke="#000" stroke-width="1.4"/>
<rect x="625.4" y="232.8" width="7.2" height="7.2" fill="none" stroke="#000" stroke-width="1.4"/>
<rect x="611.6" y="238.5" width="7.2" height="7.2" fill="none" stroke="#000" stroke-width="1.4"/>
<rect x="558.2" y="243.8" width="7.2" height="7.2" fill="none" stroke="#000" stroke-width="1.4"/>
<rect x="603.8" y="249.5" width="7.2" height="7.2" fill="none" stroke="#000" stroke-width="1.4"/>
<rect x="612.2" y="249.5" width="7.2" height="7.2" fill="none" stroke="#000" stroke-width="1.4"/>
<rect x="634.5" y="250.1" width="7.2" height="7.2" fill="none" stroke="#000" stroke-width="1.4"/>
<rect x="602.7" y="259.7" width="7.2" height="7.2" fill="none" stroke="#000" stroke-width="1.4"/>
</g>
<rect x="557.4" y="177.1" width="89.5" height="88.9" fill="none" stroke="#999" stroke-width="0.6"/>
<defs><linearGradient id="gjet" x1="0" x2="0" y1="0" y2="1"><stop offset="0" stop-color="#800000"/><stop offset="0.125" stop-color="#ff0000"/><stop offset="0.375" stop-color="#ffff00"/><stop offset="0.5" stop-color="#80ff80"/><stop offset="0.625" stop-color="#00ffff"/><stop offset="0.875" stop-color="#0000ff"/><stop offset="1" stop-color="#000080"/></linearGradient></defs>
<rect x="651.6" y="182.8" width="7.4" height="77.9" fill="url(#gjet)" stroke="#555" stroke-width="0.4"/>
<text x="660.5" y="187.0" font-size="9.5" text-anchor="start" fill="#000" font-weight="normal" font-style="normal" font-family="Liberation Sans" >1</text>
<text x="660.5" y="225.5" font-size="9.5" text-anchor="start" fill="#000" font-weight="normal" font-style="normal" font-family="Liberation Sans" >0</text>
<text x="659.5" y="264.0" font-size="9.5" text-anchor="start" fill="#000" font-weight="normal" font-style="normal" font-family="Liberation Sans" >-1</text>
<text x="653" y="176.8" font-size="8.8" fill="#000" font-family="Liberation Sans">x 10<tspan dy="-3.8" font-size="6">15</tspan></text>
<clipPath id="cpm4"><rect x="443.8" y="322.7" width="89.7" height="88.3"/></clipPath>
<g clip-path="url(#cpm4)">
<rect x="443.8" y="322.7" width="89.7" height="88.3" fill="#7cf59a"/>
<ellipse cx="455.8" cy="331.7" rx="15.0" ry="10.0" fill="#fff000" opacity="0.75" filter="url(#bb)"/>
<ellipse cx="446.8" cy="362.7" rx="5.0" ry="16.0" fill="#e0f820" opacity="0.7" filter="url(#bb)"/>
<ellipse cx="451.8" cy="384.7" rx="9.0" ry="8.0" fill="#fff000" opacity="0.7" filter="url(#bb)"/>
<ellipse cx="504.8" cy="403.7" rx="10.0" ry="5.0" fill="#fff000" opacity="0.85" filter="url(#bb)"/>
<ellipse cx="523.8" cy="348.7" rx="7.0" ry="5.0" fill="#fff000" opacity="0.7" filter="url(#bb)"/>
<ellipse cx="528.8" cy="372.7" rx="4.0" ry="7.0" fill="#fff000" opacity="0.75" filter="url(#bl)"/>
<ellipse cx="515.8" cy="328.7" rx="8.0" ry="5.0" fill="#e0f820" opacity="0.6" filter="url(#bb)"/>
<ellipse cx="488.8" cy="338.7" rx="7.0" ry="6.0" fill="#e0f820" opacity="0.7" filter="url(#bb)"/>
<ellipse cx="487.8" cy="376.7" rx="5.0" ry="9.0" fill="#e0f820" opacity="0.5" filter="url(#bb)"/>
<ellipse cx="495.8" cy="351.7" rx="15.0" ry="11.0" fill="#20d8ff" opacity="1" filter="url(#bb)"/>
<ellipse cx="467.8" cy="357.7" rx="10.0" ry="8.0" fill="#50f0e0" opacity="0.5" filter="url(#bb)"/>
<ellipse cx="476.6" cy="382.2" rx="6.0" ry="5.0" fill="#20d8ff" opacity="0.8" filter="url(#bl)"/>
<ellipse cx="481.8" cy="397.7" rx="10.0" ry="8.0" fill="#20d8ff" opacity="0.9" filter="url(#bb)"/>
<ellipse cx="527.8" cy="388.7" rx="5.0" ry="10.0" fill="#20d8ff" opacity="0.85" filter="url(#bl)"/>
<ellipse cx="515.8" cy="342.7" rx="6.0" ry="5.0" fill="#50f0e0" opacity="0.5" filter="url(#bb)"/>
<ellipse cx="475.6" cy="324.9" rx="6.0" ry="3.0" fill="#0000d0" opacity="1" filter="url(#bs)"/>
<ellipse cx="476.3" cy="332.7" rx="5.5" ry="3.2" fill="#f01000" opacity="1" filter="url(#bs)"/>
<ellipse cx="481.8" cy="336.2" rx="4.5" ry="3.5" fill="#ff8800" opacity="0.8" filter="url(#bl)"/>
<ellipse cx="470.3" cy="333.7" rx="3.0" ry="3.0" fill="#ff8800" opacity="0.7" filter="url(#bl)"/>
<ellipse cx="482.2" cy="350.9" rx="6.0" ry="3.0" fill="#0040ff" opacity="1" filter="url(#bs)" transform="rotate(35 482.2 350.9)"/>
<ellipse cx="518.7" cy="355.2" rx="4.0" ry="4.0" fill="#0040ff" opacity="1" filter="url(#bs)"/>
<ellipse cx="525.8" cy="357.2" rx="4.0" ry="3.5" fill="#0090ff" opacity="0.9" filter="url(#bl)"/>
<ellipse cx="508.5" cy="371.3" rx="3.8" ry="4.0" fill="#f01000" opacity="1" filter="url(#bs)"/>
<ellipse cx="517.8" cy="371.3" rx="3.6" ry="3.8" fill="#ff5000" opacity="1" filter="url(#bs)"/>
<ellipse cx="527.4" cy="373.7" rx="3.0" ry="4.0" fill="#ff8800" opacity="0.9" filter="url(#bl)"/>
<ellipse cx="473.8" cy="365.7" rx="4.0" ry="4.0" fill="#ffc800" opacity="0.8" filter="url(#bl)"/>
<ellipse cx="465.4" cy="381.5" rx="3.6" ry="3.8" fill="#0040ff" opacity="1" filter="url(#bs)"/>
<ellipse cx="464.7" cy="391.0" rx="4.0" ry="3.8" fill="#ff5000" opacity="1" filter="url(#bs)"/>
<ellipse cx="458.3" cy="391.2" rx="3.5" ry="3.5" fill="#ff8800" opacity="0.9" filter="url(#bl)"/>
<ellipse cx="446.4" cy="340.7" rx="2.0" ry="2.0" fill="#ff8800" opacity="0.9" filter="url(#bs)"/>
<ellipse cx="478.5" cy="410.7" rx="4.5" ry="2.5" fill="#0000d0" opacity="1" filter="url(#bs)"/>
<ellipse cx="523.1" cy="386.7" rx="3.5" ry="3.5" fill="#0040ff" opacity="0.95" filter="url(#bl)"/>
<ellipse cx="532.3" cy="393.7" rx="1.5" ry="2.5" fill="#0040ff" opacity="0.9" filter="url(#bs)"/>
<ellipse cx="498.8" cy="403.2" rx="4.0" ry="3.5" fill="#ffc800" opacity="0.9" filter="url(#bl)"/>
<ellipse cx="507.8" cy="362.7" rx="4.0" ry="3.0" fill="#e0f820" opacity="0.7" filter="url(#bl)"/>
<rect x="471.9" y="323.4" width="7.3" height="7.3" fill="none" stroke="#000" stroke-width="1.4"/>
<rect x="478.0" y="325.9" width="7.3" height="7.3" fill="none" stroke="#000" stroke-width="1.4"/>
<rect x="508.5" y="326.2" width="7.3" height="7.3" fill="none" stroke="#000" stroke-width="1.4"/>
<rect x="517.4" y="321.6" width="7.3" height="7.3" fill="none" stroke="#000" stroke-width="1.4"/>
<rect x="521.6" y="333.2" width="7.3" height="7.3" fill="none" stroke="#000" stroke-width="1.4"/>
<rect x="526.9" y="339.6" width="7.3" height="7.3" fill="none" stroke="#000" stroke-width="1.4"/>
<rect x="481.4" y="337.2" width="7.3" height="7.3" fill="none" stroke="#000" stroke-width="1.4"/>
<rect x="474.7" y="340.4" width="7.3" height="7.3" fill="none" stroke="#000" stroke-width="1.4"/>
<rect x="473.8" y="346.2" width="7.3" height="7.3" fill="none" stroke="#000" stroke-width="1.4"/>
<rect x="452.3" y="350.6" width="7.3" height="7.3" fill="none" stroke="#000" stroke-width="1.4"/>
<rect x="472.5" y="351.9" width="7.3" height="7.3" fill="none" stroke="#000" stroke-width="1.4"/>
<rect x="521.6" y="346.2" width="7.3" height="7.3" fill="none" stroke="#000" stroke-width="1.4"/>
<rect x="514.6" y="349.9" width="7.3" height="7.3" fill="none" stroke="#000" stroke-width="1.4"/>
<rect x="515.9" y="352.9" width="7.3" height="7.3" fill="none" stroke="#000" stroke-width="1.4"/>
<rect x="467.2" y="357.1" width="7.3" height="7.3" fill="none" stroke="#000" stroke-width="1.4"/>
<rect x="463.0" y="362.4" width="7.3" height="7.3" fill="none" stroke="#000" stroke-width="1.4"/>
<rect x="499.4" y="360.9" width="7.3" height="7.3" fill="none" stroke="#000" stroke-width="1.4"/>
<rect x="512.6" y="360.9" width="7.3" height="7.3" fill="none" stroke="#000" stroke-width="1.4"/>
<rect x="466.6" y="367.1" width="7.3" height="7.3" fill="none" stroke="#000" stroke-width="1.4"/>
<rect x="508.5" y="367.7" width="7.3" height="7.3" fill="none" stroke="#000" stroke-width="1.4"/>
<rect x="520.2" y="366.2" width="7.3" height="7.3" fill="none" stroke="#000" stroke-width="1.4"/>
<rect x="460.9" y="371.4" width="7.3" height="7.3" fill="none" stroke="#000" stroke-width="1.4"/>
<rect x="515.5" y="374.7" width="7.3" height="7.3" fill="none" stroke="#000" stroke-width="1.4"/>
<rect x="442.5" y="375.7" width="7.3" height="7.3" fill="none" stroke="#000" stroke-width="1.4"/>
<rect x="448.2" y="377.2" width="7.3" height="7.3" fill="none" stroke="#000" stroke-width="1.4"/>
<rect x="455.4" y="375.9" width="7.3" height="7.3" fill="none" stroke="#000" stroke-width="1.4"/>
<rect x="461.8" y="378.4" width="7.3" height="7.3" fill="none" stroke="#000" stroke-width="1.4"/>
<rect x="462.4" y="385.1" width="7.3" height="7.3" fill="none" stroke="#000" stroke-width="1.4"/>
<rect x="521.6" y="382.2" width="7.3" height="7.3" fill="none" stroke="#000" stroke-width="1.4"/>
<rect x="518.4" y="385.1" width="7.3" height="7.3" fill="none" stroke="#000" stroke-width="1.4"/>
<rect x="443.4" y="394.1" width="7.3" height="7.3" fill="none" stroke="#000" stroke-width="1.4"/>
<rect x="459.0" y="390.8" width="7.3" height="7.3" fill="none" stroke="#000" stroke-width="1.4"/>
<rect x="466.2" y="394.1" width="7.3" height="7.3" fill="none" stroke="#000" stroke-width="1.4"/>
<rect x="497.5" y="392.6" width="7.3" height="7.3" fill="none" stroke="#000" stroke-width="1.4"/>
<rect x="497.1" y="399.4" width="7.3" height="7.3" fill="none" stroke="#000" stroke-width="1.4"/>
<rect x="506.4" y="398.8" width="7.3" height="7.3" fill="none" stroke="#000" stroke-width="1.4"/>
</g>
<rect x="443.8" y="322.7" width="89.7" height="88.3" fill="none" stroke="#999" stroke-width="0.6"/>
<clipPath id="cpm5"><rect x="566.8" y="322.7" width="89.7" height="88.3"/></clipPath>
<g clip-path="url(#cpm5)">
<rect x="566.8" y="322.7" width="89.7" height="88.3" fill="#b6f650"/>
<ellipse cx="614.5" cy="345.7" rx="9.0" ry="14.0" fill="#20d8ff" opacity="0.95" filter="url(#bb)"/>
<ellipse cx="636.8" cy="355.7" rx="9.0" ry="12.0" fill="#20d8ff" opacity="0.85" filter="url(#bb)"/>
<ellipse cx="649.8" cy="367.7" rx="7.0" ry="14.0" fill="#20d8ff" opacity="0.95" filter="url(#bb)"/>
<ellipse cx="569.8" cy="365.7" rx="5.0" ry="12.0" fill="#20d8ff" opacity="0.95" filter="url(#bb)"/>
<ellipse cx="596.3" cy="391.2" rx="7.0" ry="9.0" fill="#20d8ff" opacity="0.9" filter="url(#bb)"/>
<ellipse cx="611.8" cy="394.7" rx="6.0" ry="10.0" fill="#50f0e0" opacity="0.85" filter="url(#bb)"/>
<ellipse cx="649.8" cy="398.7" rx="8.0" ry="10.0" fill="#20d8ff" opacity="0.85" filter="url(#bb)"/>
<ellipse cx="586.8" cy="334.7" rx="16.0" ry="10.0" fill="#e0f820" opacity="0.7" filter="url(#bb)"/>
<ellipse cx="611.8" cy="367.7" rx="7.0" ry="9.0" fill="#e0f820" opacity="0.6" filter="url(#bb)"/>
<ellipse cx="626.8" cy="382.7" rx="8.0" ry="10.0" fill="#80ff80" opacity="0.6" filter="url(#bb)"/>
<ellipse cx="578.8" cy="346.7" rx="5.0" ry="4.0" fill="#20d8ff" opacity="0.8" filter="url(#bl)"/>
<ellipse cx="594.8" cy="352.7" rx="2.5" ry="2.0" fill="#20d8ff" opacity="0.8" filter="url(#bs)"/>
<ellipse cx="578.3" cy="352.1" rx="3.6" ry="2.4" fill="#0040ff" opacity="1" filter="url(#bs)"/>
<ellipse cx="578.3" cy="356.5" rx="3.6" ry="2.4" fill="#f01000" opacity="1" filter="url(#bs)"/>
<ellipse cx="600.7" cy="345.0" rx="3.6" ry="3.4" fill="#f01000" opacity="1" filter="url(#bs)"/>
<ellipse cx="608.7" cy="339.2" rx="3.2" ry="3.2" fill="#ff5000" opacity="1" filter="url(#bs)"/>
<ellipse cx="597.0" cy="360.4" rx="3.5" ry="3.5" fill="#ff8800" opacity="0.9" filter="url(#bl)"/>
<ellipse cx="591.8" cy="370.7" rx="3.0" ry="3.0" fill="#ff8800" opacity="0.8" filter="url(#bl)"/>
<ellipse cx="602.8" cy="359.7" rx="4.0" ry="4.0" fill="#fff000" opacity="0.8" filter="url(#bl)"/>
<ellipse cx="625.5" cy="361.3" rx="3.3" ry="2.4" fill="#f01000" opacity="1" filter="url(#bs)"/>
<ellipse cx="625.5" cy="366.3" rx="3.3" ry="2.4" fill="#0040ff" opacity="1" filter="url(#bs)"/>
<ellipse cx="573.1" cy="380.2" rx="6.0" ry="3.6" fill="#900000" opacity="1" filter="url(#bs)"/>
<ellipse cx="588.3" cy="382.3" rx="3.4" ry="3.6" fill="#ff5000" opacity="1" filter="url(#bs)"/>
<ellipse cx="585.3" cy="393.9" rx="3.4" ry="3.4" fill="#f01000" opacity="1" filter="url(#bs)"/>
<ellipse cx="592.6" cy="397.6" rx="3.6" ry="3.6" fill="#ff5000" opacity="1" filter="url(#bs)"/>
<ellipse cx="646.7" cy="386.7" rx="3.4" ry="3.4" fill="#f01000" opacity="1" filter="url(#bs)"/>
<ellipse cx="655.0" cy="380.7" rx="1.8" ry="4.5" fill="#f01000" opacity="1" filter="url(#bs)"/>
<ellipse cx="652.5" cy="369.1" rx="4.0" ry="4.5" fill="#0040ff" opacity="0.95" filter="url(#bl)"/>
<ellipse cx="641.5" cy="378.7" rx="3.0" ry="3.0" fill="#0090ff" opacity="0.9" filter="url(#bl)"/>
<ellipse cx="638.8" cy="353.7" rx="3.0" ry="3.0" fill="#0090ff" opacity="0.6" filter="url(#bl)"/>
<ellipse cx="633.5" cy="402.0" rx="3.0" ry="2.5" fill="#ffc800" opacity="0.9" filter="url(#bs)"/>
<ellipse cx="633.5" cy="405.7" rx="3.0" ry="2.2" fill="#20d8ff" opacity="0.8" filter="url(#bs)"/>
<ellipse cx="640.8" cy="411.2" rx="4.0" ry="1.5" fill="#ff8800" opacity="0.9" filter="url(#bs)"/>
<ellipse cx="643.8" cy="324.7" rx="3.5" ry="3.0" fill="#ffc800" opacity="0.85" filter="url(#bl)"/>
<rect x="594.4" y="323.4" width="7.3" height="7.3" fill="none" stroke="#000" stroke-width="1.4"/>
<rect x="600.5" y="325.9" width="7.3" height="7.3" fill="none" stroke="#000" stroke-width="1.4"/>
<rect x="631.0" y="326.2" width="7.3" height="7.3" fill="none" stroke="#000" stroke-width="1.4"/>
<rect x="639.9" y="321.6" width="7.3" height="7.3" fill="none" stroke="#000" stroke-width="1.4"/>
<rect x="644.1" y="333.2" width="7.3" height="7.3" fill="none" stroke="#000" stroke-width="1.4"/>
<rect x="649.4" y="339.6" width="7.3" height="7.3" fill="none" stroke="#000" stroke-width="1.4"/>
<rect x="603.9" y="337.2" width="7.3" height="7.3" fill="none" stroke="#000" stroke-width="1.4"/>
<rect x="597.2" y="340.4" width="7.3" height="7.3" fill="none" stroke="#000" stroke-width="1.4"/>
<rect x="596.4" y="346.2" width="7.3" height="7.3" fill="none" stroke="#000" stroke-width="1.4"/>
<rect x="574.9" y="350.6" width="7.3" height="7.3" fill="none" stroke="#000" stroke-width="1.4"/>
<rect x="595.0" y="351.9" width="7.3" height="7.3" fill="none" stroke="#000" stroke-width="1.4"/>
<rect x="644.1" y="346.2" width="7.3" height="7.3" fill="none" stroke="#000" stroke-width="1.4"/>
<rect x="637.1" y="349.9" width="7.3" height="7.3" fill="none" stroke="#000" stroke-width="1.4"/>
<rect x="638.4" y="352.9" width="7.3" height="7.3" fill="none" stroke="#000" stroke-width="1.4"/>
<rect x="589.8" y="357.1" width="7.3" height="7.3" fill="none" stroke="#000" stroke-width="1.4"/>
<rect x="585.5" y="362.4" width="7.3" height="7.3" fill="none" stroke="#000" stroke-width="1.4"/>
<rect x="621.9" y="360.9" width="7.3" height="7.3" fill="none" stroke="#000" stroke-width="1.4"/>
<rect x="635.2" y="360.9" width="7.3" height="7.3" fill="none" stroke="#000" stroke-width="1.4"/>
<rect x="589.1" y="367.1" width="7.3" height="7.3" fill="none" stroke="#000" stroke-width="1.4"/>
<rect x="631.0" y="367.7" width="7.3" height="7.3" fill="none" stroke="#000" stroke-width="1.4"/>
<rect x="642.9" y="366.2" width="7.3" height="7.3" fill="none" stroke="#000" stroke-width="1.4"/>
<rect x="583.4" y="371.4" width="7.3" height="7.3" fill="none" stroke="#000" stroke-width="1.4"/>
<rect x="638.0" y="374.7" width="7.3" height="7.3" fill="none" stroke="#000" stroke-width="1.4"/>
<rect x="565.0" y="375.7" width="7.3" height="7.3" fill="none" stroke="#000" stroke-width="1.4"/>
<rect x="570.8" y="377.2" width="7.3" height="7.3" fill="none" stroke="#000" stroke-width="1.4"/>
<rect x="577.9" y="375.9" width="7.3" height="7.3" fill="none" stroke="#000" stroke-width="1.4"/>
<rect x="584.4" y="378.4" width="7.3" height="7.3" fill="none" stroke="#000" stroke-width="1.4"/>
<rect x="584.9" y="385.1" width="7.3" height="7.3" fill="none" stroke="#000" stroke-width="1.4"/>
<rect x="644.1" y="382.2" width="7.3" height="7.3" fill="none" stroke="#000" stroke-width="1.4"/>
<rect x="640.9" y="385.1" width="7.3" height="7.3" fill="none" stroke="#000" stroke-width="1.4"/>
<rect x="565.9" y="394.1" width="7.3" height="7.3" fill="none" stroke="#000" stroke-width="1.4"/>
<rect x="581.5" y="390.8" width="7.3" height="7.3" fill="none" stroke="#000" stroke-width="1.4"/>
<rect x="588.8" y="394.1" width="7.3" height="7.3" fill="none" stroke="#000" stroke-width="1.4"/>
<rect x="620.0" y="392.6" width="7.3" height="7.3" fill="none" stroke="#000" stroke-width="1.4"/>
<rect x="619.6" y="399.4" width="7.3" height="7.3" fill="none" stroke="#000" stroke-width="1.4"/>
<rect x="628.9" y="398.8" width="7.3" height="7.3" fill="none" stroke="#000" stroke-width="1.4"/>
</g>
<rect x="566.8" y="322.7" width="89.7" height="88.3" fill="none" stroke="#999" stroke-width="0.6"/>
<rect x="415" y="142.6" width="100.5" height="135.6" fill="#fff" stroke="#000" stroke-width="1.4"/>
<clipPath id="ta"><rect x="420.5" y="150.5" width="33" height="32"/></clipPath><g clip-path="url(#ta)"><rect x="420.5" y="150.5" width="33" height="32" fill="#7ef0a0"/><ellipse cx="424.5" cy="166.5" rx="5.0" ry="16.0" fill="#e0f820" opacity="0.8" filter="url(#bb)"/><ellipse cx="437.0" cy="160.0" rx="6.5" ry="5.0" fill="#fff000" opacity="1" filter="url(#bl)"/><ellipse cx="437.0" cy="160.0" rx="4.2" ry="3.0" fill="#ff5000" opacity="1" filter="url(#bs)"/><ellipse cx="437.0" cy="173.0" rx="7.0" ry="5.0" fill="#20d8ff" opacity="1" filter="url(#bl)"/><ellipse cx="437.0" cy="173.0" rx="4.4" ry="3.0" fill="#0040ff" opacity="1" filter="url(#bs)"/></g><rect x="428.7" y="158.5" width="16.5" height="16" fill="none" stroke="#222" stroke-width="0.6"/><rect x="420.5" y="150.5" width="33" height="32" fill="none" stroke="#888" stroke-width="0.5"/>
<clipPath id="tb"><rect x="420.5" y="194.8" width="33" height="32"/></clipPath><g clip-path="url(#tb)"><rect x="420.5" y="194.8" width="33" height="32" fill="#8cf088"/><ellipse cx="437.0" cy="210.8" rx="13.0" ry="11.0" fill="#fff000" opacity="1" filter="url(#bl)"/><ellipse cx="437.0" cy="210.8" rx="11.5" ry="8.5" fill="#ff5000" opacity="0.9" filter="url(#bl)"/><ellipse cx="437.0" cy="210.8" rx="8.5" ry="7.5" fill="#9cf070" opacity="1" filter="url(#bs)"/><ellipse cx="437.0" cy="210.8" rx="7.2" ry="7.2" fill="#fff000" opacity="1" filter="url(#bs)"/><ellipse cx="437.0" cy="210.8" rx="5.4" ry="5.6" fill="#f01000" opacity="1" filter="url(#bs)"/></g><rect x="428.7" y="202.8" width="16.5" height="16" fill="none" stroke="#222" stroke-width="0.6"/><rect x="420.5" y="194.8" width="33" height="32" fill="none" stroke="#888" stroke-width="0.5"/>
<clipPath id="tc"><rect x="420.5" y="236.4" width="33" height="32"/></clipPath><g clip-path="url(#tc)"><rect x="420.5" y="236.4" width="33" height="32" fill="#84f090"/><ellipse cx="425.5" cy="243.4" rx="9.0" ry="8.0" fill="#20d8ff" opacity="0.9" filter="url(#bb)"/><ellipse cx="448.5" cy="243.4" rx="9.0" ry="8.0" fill="#fff000" opacity="0.9" filter="url(#bb)"/><ellipse cx="425.5" cy="261.4" rx="9.0" ry="8.0" fill="#fff000" opacity="0.9" filter="url(#bb)"/><ellipse cx="448.5" cy="261.4" rx="9.0" ry="8.0" fill="#20d8ff" opacity="0.9" filter="url(#bb)"/><ellipse cx="432.7" cy="247.2" rx="3.2" ry="2.8" fill="#20d8ff" opacity="1" filter="url(#bs)"/><ellipse cx="432.7" cy="246.9" rx="1.6" ry="1.4" fill="#0090ff" opacity="1" filter="url(#bs)"/><ellipse cx="441.5" cy="247.2" rx="3.2" ry="2.8" fill="#fff000" opacity="1" filter="url(#bs)"/><ellipse cx="441.5" cy="246.9" rx="1.6" ry="1.5" fill="#ff8800" opacity="1" filter="url(#bs)"/><ellipse cx="432.7" cy="257.8" rx="3.2" ry="2.8" fill="#fff000" opacity="1" filter="url(#bs)"/><ellipse cx="432.7" cy="258.2" rx="1.6" ry="1.5" fill="#ff8800" opacity="1" filter="url(#bs)"/><ellipse cx="441.5" cy="257.8" rx="3.2" ry="2.8" fill="#20d8ff" opacity="1" filter="url(#bs)"/><ellipse cx="441.5" cy="258.2" rx="1.6" ry="1.4" fill="#0090ff" opacity="1" filter="url(#bs)"/></g><rect x="428.7" y="244.4" width="16.5" height="16" fill="none" stroke="#222" stroke-width="0.6"/><rect x="420.5" y="236.4" width="33" height="32" fill="none" stroke="#888" stroke-width="0.5"/>
<text x="457.3" y="164.2" font-size="12.1" text-anchor="start" fill="#000" font-weight="normal" font-style="normal" font-family="Liberation Sans" >MDz</text>
<text x="457.0" y="177.2" font-size="9.8" text-anchor="start" fill="#000" font-weight="normal" font-style="normal" font-family="Liberation Sans" >511+20i THz</text>
<text x="457.3" y="208.8" font-size="12.1" text-anchor="start" fill="#000" font-weight="normal" font-style="normal" font-family="Liberation Sans" >EDx</text>
<text x="457.0" y="221.9" font-size="9.8" text-anchor="start" fill="#000" font-weight="normal" font-style="normal" font-family="Liberation Sans" >610+25i THz</text>
<text x="457.3" y="250.5" font-size="12.1" text-anchor="start" fill="#000" font-weight="normal" font-style="normal" font-family="Liberation Sans" >EQ</text>
<text x="457.0" y="263.6" font-size="9.8" text-anchor="start" fill="#000" font-weight="normal" font-style="normal" font-family="Liberation Sans" >759+29i THz</text><g stroke="#b5b5b5" stroke-width="0.5" fill="none">
<path d="M457.8 567.3L516.4 542.8L634.1 592.6"/>
<path d="M457.8 546.4L516.4 521.9L634.1 571.7"/>
<path d="M457.8 525.4L516.4 500.9L634.1 550.7"/>
<path d="M457.8 504.5L516.4 480.0L634.1 529.8"/>
<path d="M457.8 483.6L516.4 459.1L634.1 508.9"/>
<path d="M545.8 555.2V463.4"/>
<path d="M545.8 555.2L487.2 579.7"/>
<path d="M575.2 567.7V475.9"/>
<path d="M575.2 567.7L516.6 592.2"/>
<path d="M604.7 580.1V488.3"/>
<path d="M604.7 580.1L546.1 604.6"/>
<path d="M487.1 555.0L604.8 604.8"/>
<path d="M501.8 548.9L619.5 598.7"/>
</g>
<g stroke="#444" stroke-width="0.6" fill="none">
<path d="M457.8 567.3 L516.4 542.8 L634.1 592.6"/>
<path d="M516.4 542.8V451.0"/>
</g>
<polygon points="516.4,451.0 634.1,500.8 634.1,551.2 634.1,551.2 610.0,552.2 585.0,553.0 560.0,553.2 539.4,552.5 539.4,552.5 516.4,542.8" fill="#0072bd" fill-opacity="0.4"/>
<polygon points="539.4,552.5 560.0,553.2 585.0,553.0 610.0,552.2 634.1,551.2 634.1,592.6 539.4,552.5" fill="#d95319" fill-opacity="0.4"/>
<polygon points="516.4,542.8 516.4,451.0 634.1,500.8 634.1,592.6" fill="none" stroke="#555" stroke-opacity="0.35" stroke-width="0.5"/>
<polyline points="562.3,562.0 577.6,561.4 599.5,560.6 621.4,559.3 634.1,558.2" fill="none" stroke="#111" stroke-width="0.9"/>
<polyline points="518.0,542.6 533.8,543.8 551.3,545.3 568.8,546.3 586.3,546.8 603.9,546.3 621.4,544.2 634.1,541.0" fill="none" stroke="#111" stroke-width="0.9" stroke-dasharray="3.2 2.6"/>
<polygon points="501.8,457.1 614.6,504.9 614.6,504.8 608.0,511.5 595.0,521.0 577.6,531.0 560.0,539.5 542.6,546.5 527.0,552.5 514.4,554.2 514.4,554.3 501.8,548.9" fill="#0072bd" fill-opacity="0.4"/>
<polygon points="514.4,554.2 527.0,552.5 542.6,546.5 560.0,539.5 577.6,531.0 595.0,521.0 608.0,511.5 614.6,504.8 614.6,504.9 619.5,506.9 619.5,598.7 514.4,554.3" fill="#d95319" fill-opacity="0.4"/>
<polygon points="501.8,548.9 501.8,457.1 619.5,506.9 619.5,598.7" fill="none" stroke="#555" stroke-opacity="0.35" stroke-width="0.5"/>
<polyline points="527.2,559.4 542.6,552.3 562.3,545.7 586.3,537.4 603.9,529.3 619.5,517.2" fill="none" stroke="#111" stroke-width="0.9"/>
<polyline points="503.0,549.6 511.9,548.8 527.2,545.3 542.6,539.6 560.1,532.1 577.6,523.4 595.1,512.4 608.2,501.9" fill="none" stroke="#111" stroke-width="0.9" stroke-dasharray="3.2 2.6"/>
<polygon points="487.1,463.2 565.0,496.2 565.0,496.2 557.0,507.0 547.0,520.5 533.8,534.5 518.5,546.5 506.0,553.5 495.9,558.8 495.9,558.8 487.1,555.0" fill="#0072bd" fill-opacity="0.4"/>
<polygon points="495.9,558.8 506.0,553.5 518.5,546.5 533.8,534.5 547.0,520.5 557.0,507.0 565.0,496.2 565.0,496.2 604.8,513.0 604.8,604.8 495.9,558.8" fill="#d95319" fill-opacity="0.4"/>
<polygon points="487.1,555.0 487.1,463.2 604.8,513.0 604.8,604.8" fill="none" stroke="#555" stroke-opacity="0.35" stroke-width="0.5"/>
<polyline points="505.3,562.5 518.5,554.4 533.8,543.5 549.1,529.3 562.3,515.0 572.5,500.1" fill="none" stroke="#111" stroke-width="0.9"/>
<polyline points="489.0,556.2 498.8,552.3 514.1,541.3 529.4,527.1 544.7,510.7 557.4,493.6" fill="none" stroke="#111" stroke-width="0.9" stroke-dasharray="3.2 2.6"/>
<polygon points="457.8,475.5 496.8,492.0 496.8,492.0 494.2,504.2 489.0,519.4 483.2,535.8 475.0,549.8 468.0,560.5 462.2,569.2 462.2,569.2 457.8,567.3" fill="#0072bd" fill-opacity="0.4"/>
<polygon points="462.2,569.2 468.0,560.5 475.0,549.8 483.2,535.8 489.0,519.4 494.2,504.2 496.8,492.0 496.8,492.0 575.5,525.3 575.5,617.1 462.2,569.2" fill="#d95319" fill-opacity="0.4"/>
<polygon points="457.8,567.3 457.8,475.5 575.5,525.3 575.5,617.1" fill="none" stroke="#555" stroke-opacity="0.35" stroke-width="0.5"/>
<polyline points="465.7,570.4 471.5,559.1 477.4,549.8 483.2,538.1 487.9,531.1 492.6,519.4 498.4,505.4 501.9,494.9 502.5,494.4" fill="none" stroke="#111" stroke-width="0.9"/>
<polyline points="459.9,567.3 468.0,552.1 475.0,538.1 482.0,520.6 487.9,507.7 493.3,494.2 495.2,491.4" fill="none" stroke="#111" stroke-width="0.9" stroke-dasharray="3.2 2.6"/>
<g stroke="#666" stroke-width="0.55" fill="none">
<path d="M457.8 567.3V475.5"/>
<path d="M457.8 567.3L575.5 617.1L634.1 592.6"/>
<path d="M575.5 617.1V525.3"/>
<path d="M457.8 475.5L516.4 451.0L634.1 500.8L575.5 525.3Z"/>
<path d="M634.1 592.6V500.8"/>
</g>
<path d="M457.8 567.3h-2.5" stroke="#444" stroke-width="0.6"/>
<text x="454.3" y="572.7" font-size="11" text-anchor="end" fill="#1a1a1a" font-weight="normal" font-style="normal" font-family="Liberation Sans" >0</text>
<path d="M457.8 546.4h-2.5" stroke="#444" stroke-width="0.6"/>
<text x="454.3" y="551.0" font-size="11" text-anchor="end" fill="#1a1a1a" font-weight="normal" font-style="normal" font-family="Liberation Sans" >0.1</text>
<path d="M457.8 525.4h-2.5" stroke="#444" stroke-width="0.6"/>
<text x="454.3" y="530.0" font-size="11" text-anchor="end" fill="#1a1a1a" font-weight="normal" font-style="normal" font-family="Liberation Sans" >0.2</text>
<path d="M457.8 504.5h-2.5" stroke="#444" stroke-width="0.6"/>
<text x="454.3" y="509.1" font-size="11" text-anchor="end" fill="#1a1a1a" font-weight="normal" font-style="normal" font-family="Liberation Sans" >0.3</text>
<path d="M457.8 483.6h-2.5" stroke="#444" stroke-width="0.6"/>
<text x="454.3" y="488.2" font-size="11" text-anchor="end" fill="#1a1a1a" font-weight="normal" font-style="normal" font-family="Liberation Sans" >0.4</text>
<text x="478.0" y="591.9" font-size="11" text-anchor="middle" fill="#1a1a1a" font-weight="normal" font-style="normal" font-family="Liberation Sans" >10</text>
<text x="507.0" y="603.8" font-size="11" text-anchor="middle" fill="#1a1a1a" font-weight="normal" font-style="normal" font-family="Liberation Sans" >20</text>
<text x="536.0" y="615.5" font-size="11" text-anchor="middle" fill="#1a1a1a" font-weight="normal" font-style="normal" font-family="Liberation Sans" >30</text>
<text x="563.1" y="627.0" font-size="11" text-anchor="middle" fill="#1a1a1a" font-weight="normal" font-style="normal" font-family="Liberation Sans" >40</text>
<text x="587.1" y="633.6" font-size="11" text-anchor="middle" fill="#1a1a1a" font-weight="normal" font-style="normal" font-family="Liberation Sans" >0.175</text>
<text x="609.6" y="622.0" font-size="11" text-anchor="middle" fill="#1a1a1a" font-weight="normal" font-style="normal" font-family="Liberation Sans" >0.125</text>
<text x="627.7" y="612.4" font-size="11" text-anchor="middle" fill="#1a1a1a" font-weight="normal" font-style="normal" font-family="Liberation Sans" >0.1</text>
<text x="652.1" y="601.9" font-size="11" text-anchor="middle" fill="#1a1a1a" font-weight="normal" font-style="normal" font-family="Liberation Sans" >0.075</text>
<text transform="translate(432.3,525.7) rotate(-90)" font-size="11" text-anchor="middle" fill="#1a1a1a" font-family="Liberation Sans">Packing fraction <tspan font-family="Liberation Serif" font-style="italic" font-size="12">p</tspan></text>
<text transform="translate(497,618.5) rotate(25)" font-size="11" text-anchor="middle" fill="#1a1a1a" font-family="Liberation Sans">Density <tspan font-family="Liberation Serif" font-style="italic" font-size="13">&#961;</tspan> (&#181;m<tspan dy="-3.5" font-size="6.5">-2</tspan><tspan dy="3.5">)</tspan></text>
<text transform="translate(631.5,633) rotate(-24)" font-size="11" text-anchor="middle" fill="#1a1a1a" font-family="Liberation Sans">Size <tspan font-family="Liberation Serif" font-style="italic" font-size="14">&#8467;</tspan> (&#181;m)</text>
<text x="389.5" y="451.2" font-size="17" text-anchor="start" fill="#000" font-weight="bold" font-style="normal" font-family="Liberation Sans" >c</text>
<rect x="599.3" y="435.9" width="76.2" height="47.7" fill="#fff" stroke="#444" stroke-width="0.7"/>
<rect x="601.6" y="438.5" width="21.4" height="8.3" fill="#6aabda" stroke="#4a90c8" stroke-width="0.4"/>
<rect x="601.6" y="450" width="21.4" height="8.3" fill="#eda084" stroke="#e08a6a" stroke-width="0.4"/>
<path d="M601.6 465.2H623" stroke="#000" stroke-width="1"/>
<path d="M601.6 476.9H623" stroke="#000" stroke-width="1.1" stroke-dasharray="5.8 4"/>
<text x="625.2" y="446.4" font-size="8.3" text-anchor="start" fill="#000" font-weight="normal" font-style="normal" font-family="Liberation Sans" >Particulate</text>
<text x="625.2" y="457.9" font-size="8.3" text-anchor="start" fill="#000" font-weight="normal" font-style="normal" font-family="Liberation Sans" >Aggregate</text>
<text x="626" y="469.5" font-size="9.5" font-style="italic" font-family="Liberation Serif" fill="#000">O</text>
<path d="M628.6 462.0q1.1 -1.5 2.2 -0.4t2.2 -0.6" stroke="#000" stroke-width="0.6" fill="none"/>
<path d="M634.3 467.3h5.6M634.3 465.1h5.6" stroke="#000" stroke-width="0.7"/>
<text x="641.6" y="469.2" font-size="8.3" text-anchor="start" fill="#000" font-weight="normal" font-style="normal" font-family="Liberation Sans" >30%</text>
<text x="626" y="480.9" font-size="9.5" font-style="italic" font-family="Liberation Serif" fill="#000">O</text>
<path d="M628.6 473.4q1.1 -1.5 2.2 -0.4t2.2 -0.6" stroke="#000" stroke-width="0.6" fill="none"/>
<path d="M634.3 478.7h5.6M634.3 476.5h5.6" stroke="#000" stroke-width="0.7"/>
<text x="641.6" y="480.6" font-size="8.3" text-anchor="start" fill="#000" font-weight="normal" font-style="normal" font-family="Liberation Sans" >10%</text><path d="M485.5 718.1 L485.9 713.4 L486.4 716.8 L486.8 713.2 L487.3 712.1 L487.7 704.8 L488.2 714.2 L488.6 699.8 L489.1 702.3 L489.5 704.0 L490.0 708.0 L490.4 698.7 L490.9 707.5 L491.3 708.5 L491.8 695.4 L492.2 701.2 L492.7 692.0 L493.1 697.0 L493.6 691.6 L494.0 704.2 L494.5 696.2 L494.9 702.9 L495.4 700.1 L495.8 701.5 L496.3 692.3 L496.7 691.4 L497.2 699.4 L497.6 693.6 L498.1 702.4 L498.5 698.1 L499.0 700.4 L499.4 707.2 L499.9 701.7 L500.3 696.1 L500.8 697.6 L501.2 704.1 L501.7 704.4 L502.1 706.8 L502.6 703.9 L503.0 708.3 L503.5 705.1 L503.9 709.0 L504.4 711.8 L504.8 703.5 L505.3 707.0 L505.7 709.5 L506.2 712.8 L506.6 706.9 L507.1 711.9 L507.5 713.3 L508.0 717.6 L508.4 710.1 L508.9 714.4 L509.3 708.4 L509.8 713.1 L510.2 709.0 L510.7 719.6 L511.1 713.1 L511.6 718.5 L512.0 712.9 L512.5 719.6 L512.9 712.7 L513.4 711.7 L513.8 715.0 L514.3 718.7 L514.7 719.0 L515.2 715.3 L515.6 708.3 L516.1 715.1 L516.5 709.3 L517.0 715.3 L517.4 716.8 L517.9 710.4 L518.3 710.8 L518.8 701.9 L519.2 708.4 L519.7 701.7 L520.1 708.6 L520.6 704.4 L521.0 710.0 L521.5 698.7 L521.9 699.2 L522.4 707.4 L522.8 704.4 L523.3 705.4 L523.7 709.8 L524.2 705.0 L524.6 710.1 L525.1 706.2 L525.5 712.6 L526.0 709.3 L526.4 702.6 L526.9 706.0 L527.3 712.6 L527.8 704.9 L528.2 702.0 L528.7 705.5 L529.1 703.8 L529.6 706.5 L530.0 703.3 L530.5 700.1 L530.9 701.8 L531.4 701.5 L531.8 708.5 L532.3 709.3 L532.7 703.7 L533.2 695.3 L533.6 704.7 L534.1 703.7 L534.5 706.2 L535.0 699.2 L535.4 695.1 L535.9 703.6 L536.3 696.5 L536.8 706.3 L537.2 707.0 L537.7 701.5 L538.1 709.7 L538.6 698.3 L539.0 710.1 L539.5 703.1 L539.9 707.7 L540.4 707.8 L540.8 711.4 L541.3 711.4 L541.7 697.6 L542.2 697.4 L542.6 705.5 L543.1 698.0 L543.5 707.4 L544.0 705.5 L544.4 707.5 L544.9 704.1 L545.3 701.6 L545.8 711.7 L546.2 708.4 L546.7 697.6 L547.1 699.0 L547.6 707.0 L548.0 701.8 L548.5 703.6 L548.9 709.2 L549.4 702.8 L549.8 711.4 L550.3 708.3 L550.7 705.8 L551.2 700.2 L551.6 703.6" fill="none" stroke="#8a2f96" stroke-width="1.0" stroke-linejoin="round"/><path d="M485.5 716.3 L485.9 717.7 L486.4 707.3 L486.8 706.6 L487.3 712.6 L487.7 713.0 L488.2 701.9 L488.6 711.3 L489.1 709.8 L489.5 707.6 L490.0 701.7 L490.4 702.3 L490.9 700.2 L491.3 706.3 L491.8 697.8 L492.2 697.1 L492.7 705.6 L493.1 704.8 L493.6 704.9 L494.0 702.0 L494.5 691.3 L494.9 690.9 L495.4 696.9 L495.8 701.3 L496.3 702.3 L496.7 699.4 L497.2 704.5 L497.6 693.4 L498.1 694.9 L498.5 697.0 L499.0 696.4 L499.4 697.9 L499.9 695.6 L500.3 700.2 L500.8 695.6 L501.2 703.9 L501.7 710.7 L502.1 703.9 L502.6 707.3 L503.0 707.7 L503.5 713.1 L503.9 710.7 L504.4 712.6 L504.8 705.9 L505.3 715.0 L505.7 704.7 L506.2 708.6 L506.6 714.1 L507.1 708.6 L507.5 717.1 L508.0 717.0 L508.4 707.2 L508.9 708.5 L509.3 706.4 L509.8 718.2 L510.2 711.2 L510.7 712.3 L511.1 710.8 L511.6 708.8 L512.0 713.4 L512.5 710.4 L512.9 714.9 L513.4 709.9 L513.8 714.2 L514.3 720.2 L514.7 712.2 L515.2 720.2 L515.6 707.9 L516.1 714.5 L516.5 714.3 L517.0 718.5 L517.4 717.2 L517.9 710.4 L518.3 713.1 L518.8 715.5 L519.2 711.3 L519.7 714.1 L520.1 713.4 L520.6 706.1 L521.0 708.3 L521.5 700.7 L521.9 704.1 L522.4 710.1 L522.8 705.3 L523.3 701.0 L523.7 699.2 L524.2 701.3 L524.6 700.2 L525.1 702.3 L525.5 704.9 L526.0 700.6 L526.4 712.2 L526.9 706.6 L527.3 708.5 L527.8 708.9 L528.2 701.2 L528.7 699.9 L529.1 700.4 L529.6 711.8 L530.0 698.4 L530.5 702.5 L530.9 708.7 L531.4 704.0 L531.8 695.2 L532.3 708.0 L532.7 700.1 L533.2 696.5 L533.6 698.8 L534.1 702.5 L534.5 694.3 L535.0 703.6 L535.4 703.4 L535.9 697.9 L536.3 701.1 L536.8 697.8 L537.2 695.4 L537.7 704.1 L538.1 702.2 L538.6 708.4 L539.0 698.9 L539.5 702.7 L539.9 706.3 L540.4 697.5 L540.8 702.0 L541.3 707.1 L541.7 700.7 L542.2 702.6 L542.6 706.0 L543.1 703.6 L543.5 710.7 L544.0 710.4 L544.4 710.0 L544.9 703.9 L545.3 700.4 L545.8 707.1 L546.2 703.9 L546.7 705.1 L547.1 707.3 L547.6 711.6 L548.0 709.6 L548.5 699.3 L548.9 711.1 L549.4 707.7 L549.8 702.3 L550.3 708.4 L550.7 704.6 L551.2 705.9 L551.6 706.1" fill="none" stroke="#8a2f96" stroke-width="1.0" stroke-linejoin="round"/><path d="M485.5 711.0 L485.9 711.6 L486.4 711.2 L486.8 705.7 L487.3 712.4 L487.7 706.3 L488.2 707.3 L488.6 713.0 L489.1 711.0 L489.5 701.7 L490.0 702.6 L490.4 704.1 L490.9 696.6 L491.3 705.7 L491.8 697.8 L492.2 694.0 L492.7 702.3 L493.1 698.9 L493.6 691.3 L494.0 698.6 L494.5 700.9 L494.9 690.1 L495.4 698.3 L495.8 692.9 L496.3 696.0 L496.7 691.4 L497.2 698.4 L497.6 704.8 L498.1 696.1 L498.5 693.0 L499.0 705.2 L499.4 707.4 L499.9 701.2 L500.3 708.2 L500.8 708.8 L501.2 706.9 L501.7 709.0 L502.1 699.7 L502.6 710.6 L503.0 704.8 L503.5 703.4 L503.9 708.1 L504.4 713.1 L504.8 707.3 L505.3 702.5 L505.7 706.2 L506.2 706.8 L506.6 713.5 L507.1 717.9 L507.5 712.2 L508.0 708.1 L508.4 715.0 L508.9 707.4 L509.3 706.5 L509.8 715.2 L510.2 711.7 L510.7 713.1 L511.1 708.1 L511.6 713.7 L512.0 715.5 L512.5 720.6 L512.9 707.4 L513.4 714.2 L513.8 713.8 L514.3 715.7 L514.7 718.9 L515.2 714.0 L515.6 715.0 L516.1 713.8 L516.5 717.0 L517.0 717.8 L517.4 708.6 L517.9 713.5 L518.3 711.6 L518.8 706.5 L519.2 712.3 L519.7 710.2 L520.1 706.7 L520.6 707.5 L521.0 712.7 L521.5 707.6 L521.9 707.1 L522.4 702.8 L522.8 708.4 L523.3 709.9 L523.7 701.9 L524.2 702.7 L524.6 708.2 L525.1 703.1 L525.5 700.6 L526.0 704.0 L526.4 710.2 L526.9 707.9 L527.3 708.7 L527.8 708.8 L528.2 706.9 L528.7 712.5 L529.1 709.8 L529.6 711.5 L530.0 707.0 L530.5 708.1 L530.9 706.8 L531.4 709.3 L531.8 700.0 L532.3 699.5 L532.7 694.5 L533.2 695.1 L533.6 708.2 L534.1 700.7 L534.5 695.6 L535.0 695.6 L535.4 702.0 L535.9 704.2 L536.3 707.2 L536.8 703.5 L537.2 700.1 L537.7 705.9 L538.1 698.4 L538.6 700.7 L539.0 697.7 L539.5 706.3 L539.9 704.4 L540.4 703.1 L540.8 700.1 L541.3 709.5 L541.7 702.9 L542.2 710.9 L542.6 701.4 L543.1 707.1 L543.5 708.6 L544.0 700.0 L544.4 700.2 L544.9 709.0 L545.3 698.8 L545.8 704.7 L546.2 698.7 L546.7 712.0 L547.1 710.0 L547.6 701.0 L548.0 710.2 L548.5 708.7 L548.9 699.1 L549.4 701.5 L549.8 707.1 L550.3 708.1 L550.7 702.7 L551.2 699.4 L551.6 704.9" fill="none" stroke="#8a2f96" stroke-width="1.0" stroke-linejoin="round"/><path d="M485.5 716.3 L485.9 713.1 L486.4 708.6 L486.8 708.5 L487.3 712.9 L487.7 708.1 L488.2 711.3 L488.6 702.2 L489.1 708.4 L489.5 709.2 L490.0 709.6 L490.4 700.2 L490.9 708.2 L491.3 702.6 L491.8 697.3 L492.2 692.7 L492.7 701.6 L493.1 705.2 L493.6 699.2 L494.0 694.8 L494.5 694.7 L494.9 696.5 L495.4 702.8 L495.8 695.4 L496.3 695.3 L496.7 697.4 L497.2 693.9 L497.6 695.4 L498.1 703.5 L498.5 705.3 L499.0 698.1 L499.4 700.4 L499.9 707.4 L500.3 705.2 L500.8 702.1 L501.2 710.2 L501.7 709.8 L502.1 704.2 L502.6 700.8 L503.0 711.1 L503.5 712.6 L503.9 709.8 L504.4 712.3 L504.8 701.1 L505.3 710.7 L505.7 714.0 L506.2 706.8 L506.6 705.4 L507.1 716.9 L507.5 715.6 L508.0 709.7 L508.4 713.2 L508.9 708.5 L509.3 710.4 L509.8 715.7 L510.2 717.1 L510.7 719.0 L511.1 716.2 L511.6 718.1 L512.0 709.7 L512.5 717.0 L512.9 720.6 L513.4 719.6 L513.8 717.9 L514.3 719.4 L514.7 713.4 L515.2 711.5 L515.6 715.9 L516.1 715.0 L516.5 706.5 L517.0 708.7 L517.4 712.3 L517.9 703.9 L518.3 702.9 L518.8 706.6 L519.2 702.1 L519.7 706.0 L520.1 709.5 L520.6 706.0 L521.0 698.7 L521.5 711.9 L521.9 701.3 L522.4 697.2 L522.8 703.3 L523.3 709.5 L523.7 711.2 L524.2 699.8 L524.6 699.4 L525.1 710.9 L525.5 711.4 L526.0 712.8 L526.4 711.5 L526.9 712.5 L527.3 712.0 L527.8 700.6 L528.2 701.9 L528.7 699.4 L529.1 698.1 L529.6 711.7 L530.0 711.5 L530.5 704.4 L530.9 697.8 L531.4 697.3 L531.8 708.6 L532.3 708.4 L532.7 703.1 L533.2 704.9 L533.6 702.7 L534.1 704.2 L534.5 708.4 L535.0 700.5 L535.4 695.4 L535.9 695.6 L536.3 704.5 L536.8 695.8 L537.2 696.7 L537.7 708.6 L538.1 709.6 L538.6 697.4 L539.0 699.2 L539.5 711.0 L539.9 710.1 L540.4 705.9 L540.8 703.7 L541.3 708.7 L541.7 704.3 L542.2 711.8 L542.6 708.9 L543.1 707.1 L543.5 699.2 L544.0 708.3 L544.4 699.3 L544.9 699.7 L545.3 710.4 L545.8 706.1 L546.2 705.9 L546.7 708.0 L547.1 710.2 L547.6 711.7 L548.0 698.5 L548.5 698.1 L548.9 698.7 L549.4 712.2 L549.8 705.5 L550.3 703.1 L550.7 706.6 L551.2 699.3 L551.6 703.3" fill="none" stroke="#8a2f96" stroke-width="1.0" stroke-linejoin="round"/><path d="M485.5 712.2 L485.9 714.6 L486.4 708.2 L486.8 716.2 L487.3 704.0 L487.7 703.3 L488.2 703.0 L488.6 713.5 L489.1 702.4 L489.5 707.6 L490.0 706.6 L490.4 701.3 L490.9 699.2 L491.3 704.9 L491.8 694.2 L492.2 692.6 L492.7 697.8 L493.1 696.1 L493.6 692.0 L494.0 691.8 L494.5 697.2 L494.9 703.0 L495.4 698.9 L495.8 692.0 L496.3 694.9 L496.7 700.0 L497.2 691.9 L497.6 694.1 L498.1 692.7 L498.5 699.1 L499.0 700.7 L499.4 706.1 L499.9 694.3 L500.3 696.6 L500.8 699.4 L501.2 702.1 L501.7 701.1 L502.1 712.1 L502.6 703.2 L503.0 712.2 L503.5 714.0 L503.9 704.1 L504.4 702.6 L504.8 713.6 L505.3 701.6 L505.7 703.8 L506.2 705.4 L506.6 703.4 L507.1 713.1 L507.5 704.2 L508.0 708.4 L508.4 712.9 L508.9 714.9 L509.3 707.4 L509.8 713.7 L510.2 716.4 L510.7 707.5 L511.1 713.5 L511.6 712.2 L512.0 708.1 L512.5 715.1 L512.9 708.2 L513.4 716.5 L513.8 714.0 L514.3 719.0 L514.7 713.7 L515.2 718.8 L515.6 712.0 L516.1 713.5 L516.5 714.3 L517.0 714.7 L517.4 708.3 L517.9 703.6 L518.3 712.2 L518.8 712.3 L519.2 713.4 L519.7 708.9 L520.1 711.3 L520.6 701.6 L521.0 703.6 L521.5 704.0 L521.9 702.6 L522.4 702.0 L522.8 706.3 L523.3 709.3 L523.7 705.1 L524.2 708.6 L524.6 707.0 L525.1 709.0 L525.5 708.0 L526.0 701.9 L526.4 712.5 L526.9 703.3 L527.3 704.4 L527.8 707.5 L528.2 709.0 L528.7 712.0 L529.1 700.2 L529.6 698.2 L530.0 705.9 L530.5 704.7 L530.9 706.5 L531.4 698.0 L531.8 706.7 L532.3 695.6 L532.7 696.3 L533.2 696.7 L533.6 695.1 L534.1 694.2 L534.5 703.5 L535.0 708.7 L535.4 700.5 L535.9 696.7 L536.3 699.1 L536.8 698.6 L537.2 705.9 L537.7 704.7 L538.1 704.7 L538.6 710.5 L539.0 700.1 L539.5 705.5 L539.9 702.2 L540.4 707.5 L540.8 702.1 L541.3 709.3 L541.7 701.1 L542.2 707.6 L542.6 700.5 L543.1 708.9 L543.5 705.3 L544.0 701.1 L544.4 708.6 L544.9 699.2 L545.3 708.2 L545.8 709.0 L546.2 705.6 L546.7 705.5 L547.1 708.9 L547.6 706.0 L548.0 698.6 L548.5 698.6 L548.9 711.8 L549.4 704.9 L549.8 707.5 L550.3 703.0 L550.7 702.9 L551.2 707.8 L551.6 702.2" fill="none" stroke="#8a2f96" stroke-width="1.0" stroke-linejoin="round"/><path d="M485.5 711.1 L485.9 709.7 L486.4 708.3 L486.8 706.9 L487.3 705.5 L487.7 704.1 L488.2 703.0 L488.6 702.0 L489.1 701.1 L489.5 700.1 L490.0 699.2 L490.4 698.2 L490.9 697.3 L491.3 696.3 L491.8 695.4 L492.2 694.7 L492.7 694.2 L493.1 693.8 L493.6 693.3 L494.0 692.9 L494.5 692.4 L494.9 691.9 L495.4 691.5 L495.8 691.7 L496.3 692.2 L496.7 692.7 L497.2 693.1 L497.6 693.6 L498.1 694.0 L498.5 694.5 L499.0 695.0 L499.4 695.6 L499.9 696.3 L500.3 697.0 L500.8 697.7 L501.2 698.3 L501.7 699.0 L502.1 699.7 L502.6 700.4 L503.0 701.0 L503.5 701.6 L503.9 702.1 L504.4 702.7 L504.8 703.3 L505.3 703.8 L505.7 704.4 L506.2 705.0 L506.6 705.5 L507.1 706.0 L507.5 706.4 L508.0 706.8 L508.4 707.2 L508.9 707.6 L509.3 708.0 L509.8 708.4 L510.2 708.7 L510.7 709.1 L511.1 709.4 L511.6 709.4 L512.0 709.4 L512.5 709.4 L512.9 709.4 L513.4 709.4 L513.8 709.4 L514.3 709.4 L514.7 709.4 L515.2 709.4 L515.6 709.4 L516.1 709.2 L516.5 708.2 L517.0 707.2 L517.4 706.3 L517.9 705.3 L518.3 704.4 L518.8 703.4 L519.2 702.7 L519.7 702.3 L520.1 701.8 L520.6 701.4 L521.0 700.9 L521.5 700.5 L521.9 700.0 L522.4 699.6 L522.8 699.1 L523.3 699.3 L523.7 699.8 L524.2 700.3 L524.6 700.8 L525.1 701.3 L525.5 701.8 L526.0 702.3 L526.4 702.8 L526.9 703.3 L527.3 702.9 L527.8 702.3 L528.2 701.7 L528.7 701.1 L529.1 700.5 L529.6 699.9 L530.0 699.2 L530.5 698.6 L530.9 698.0 L531.4 697.7 L531.8 697.4 L532.3 697.1 L532.7 696.8 L533.2 696.5 L533.6 696.2 L534.1 696.0 L534.5 696.2 L535.0 696.5 L535.4 696.7 L535.9 696.9 L536.3 697.1 L536.8 697.4 L537.2 697.6 L537.7 697.8 L538.1 698.0 L538.6 698.2 L539.0 698.4 L539.5 698.6 L539.9 698.7 L540.4 698.9 L540.8 699.1 L541.3 699.3 L541.7 699.5 L542.2 699.6 L542.6 699.8 L543.1 700.0 L543.5 700.0 L544.0 700.0 L544.4 700.0 L544.9 700.0 L545.3 700.0 L545.8 700.0 L546.2 700.0 L546.7 700.0 L547.1 700.0 L547.6 700.0 L548.0 700.0 L548.5 700.0 L548.9 700.0 L549.4 700.0 L549.8 700.0 L550.3 700.0 L550.7 700.0 L551.2 700.0 L551.6 700.0 L551.6 710.0 L551.2 710.0 L550.7 710.0 L550.3 710.0 L549.8 710.0 L549.4 710.0 L548.9 710.0 L548.5 710.0 L548.0 710.0 L547.6 710.0 L547.1 710.0 L546.7 710.0 L546.2 710.0 L545.8 710.0 L545.3 710.0 L544.9 710.0 L544.4 710.0 L544.0 710.0 L543.5 710.0 L543.1 710.0 L542.6 709.9 L542.2 709.7 L541.7 709.5 L541.3 709.4 L540.8 709.2 L540.4 709.0 L539.9 708.8 L539.5 708.6 L539.0 708.5 L538.6 708.3 L538.1 708.1 L537.7 707.9 L537.2 707.7 L536.8 707.4 L536.3 707.2 L535.9 707.0 L535.4 706.8 L535.0 706.5 L534.5 706.3 L534.1 706.1 L533.6 706.3 L533.2 706.6 L532.7 706.9 L532.3 707.2 L531.8 707.5 L531.4 707.8 L530.9 708.1 L530.5 708.6 L530.0 709.1 L529.6 709.6 L529.1 710.2 L528.7 710.7 L528.2 711.2 L527.8 711.7 L527.3 712.2 L526.9 712.5 L526.4 712.1 L526.0 711.7 L525.5 711.3 L525.1 710.9 L524.6 710.5 L524.2 710.1 L523.7 709.7 L523.3 709.3 L522.8 709.2 L522.4 709.6 L521.9 710.1 L521.5 710.5 L521.0 711.0 L520.6 711.4 L520.1 711.9 L519.7 712.3 L519.2 712.8 L518.8 713.4 L518.3 714.2 L517.9 715.1 L517.4 715.9 L517.0 716.8 L516.5 717.6 L516.1 718.4 L515.6 718.6 L515.2 718.6 L514.7 718.6 L514.3 718.6 L513.8 718.6 L513.4 718.6 L512.9 718.6 L512.5 718.6 L512.0 718.6 L511.6 718.6 L511.1 718.6 L510.7 718.4 L510.2 718.1 L509.8 717.8 L509.3 717.6 L508.9 717.3 L508.4 717.0 L508.0 716.7 L507.5 716.4 L507.1 716.1 L506.6 715.6 L506.2 715.0 L505.7 714.5 L505.3 713.9 L504.8 713.4 L504.4 712.8 L503.9 712.2 L503.5 711.7 L503.0 711.1 L502.6 710.4 L502.1 709.8 L501.7 709.1 L501.2 708.4 L500.8 707.7 L500.3 707.1 L499.9 706.4 L499.4 705.7 L499.0 705.0 L498.5 704.5 L498.1 703.9 L497.6 703.3 L497.2 702.8 L496.7 702.2 L496.3 701.6 L495.8 701.1 L495.4 700.7 L494.9 701.3 L494.5 701.9 L494.0 702.5 L493.6 703.0 L493.1 703.6 L492.7 704.2 L492.2 704.7 L491.8 705.4 L491.3 706.3 L490.9 707.1 L490.4 708.0 L490.0 708.8 L489.5 709.7 L489.1 710.5 L488.6 711.4 L488.2 712.2 L487.7 713.1 L487.3 713.8 L486.8 714.6 L486.4 715.4 L485.9 716.2 L485.5 716.9Z" fill="#8a2f96"/>
<path d="M584.0 719.0 L584.5 723.5 L584.9 719.1 L585.4 736.6 L585.8 733.9 L586.3 729.5 L586.7 717.5 L587.2 725.2 L587.6 734.9 L588.1 728.8 L588.5 723.9 L589.0 723.4 L589.4 718.9 L589.9 714.9 L590.3 726.9 L590.8 729.8 L591.2 719.4 L591.7 728.0 L592.1 723.9 L592.6 717.2 L593.0 726.7 L593.5 733.6 L593.9 728.4 L594.4 723.6 L594.8 714.9 L595.3 720.3 L595.7 728.4 L596.2 730.4 L596.6 722.0 L597.1 719.0 L597.5 732.4 L598.0 716.3 L598.4 724.2 L598.9 729.2 L599.3 726.8 L599.8 716.3 L600.2 720.2 L600.7 719.6 L601.1 727.8 L601.6 720.8 L602.0 733.9 L602.5 718.4 L602.9 726.0 L603.4 737.8 L603.8 739.6 L604.3 724.6 L604.7 722.2 L605.2 718.0 L605.6 734.1 L606.1 719.5 L606.5 741.2 L607.0 725.1 L607.4 740.6 L607.9 735.1 L608.3 728.1 L608.8 726.1 L609.2 734.2 L609.7 740.3 L610.1 725.2 L610.6 733.9 L611.0 729.3 L611.5 720.4 L611.9 720.9 L612.4 720.8 L612.8 720.8 L613.3 726.7 L613.7 737.7 L614.2 741.0 L614.6 729.0 L615.1 737.2 L615.5 739.7 L616.0 725.5 L616.4 733.9 L616.9 741.2 L617.3 732.7 L617.8 736.0 L618.2 722.4 L618.7 728.9 L619.1 727.8 L619.6 737.3 L620.0 722.8 L620.5 736.7 L620.9 731.5 L621.4 733.3 L621.8 739.5 L622.3 735.5 L622.7 730.0 L623.2 723.8 L623.6 726.1 L624.1 722.3 L624.5 722.6 L625.0 731.0 L625.4 724.7 L625.9 737.7 L626.3 720.7 L626.8 731.3 L627.2 721.3 L627.7 734.5 L628.1 726.2 L628.6 734.2 L629.0 734.0 L629.5 736.0 L629.9 730.8 L630.4 727.6 L630.8 724.3 L631.3 732.4 L631.7 723.9 L632.2 733.4 L632.6 729.2 L633.1 725.2 L633.5 718.8 L634.0 720.1 L634.4 716.4 L634.9 729.3 L635.3 727.2 L635.8 728.7 L636.2 722.8 L636.7 733.1 L637.1 716.2 L637.6 719.4 L638.0 722.3 L638.5 713.5 L638.9 727.8 L639.4 718.5 L639.8 717.3 L640.3 725.6 L640.7 730.5 L641.2 713.0 L641.6 723.5 L642.1 721.8 L642.5 733.3 L643.0 720.0 L643.4 714.5 L643.9 733.1 L644.3 722.2 L644.8 722.6 L645.2 723.6 L645.7 717.8 L646.1 726.2 L646.6 727.6 L647.0 725.3 L647.5 724.9 L647.9 721.3 L648.4 726.2 L648.8 713.8 L649.3 720.0 L649.7 712.7 L650.2 724.3 L650.6 731.9 L651.1 731.6 L651.5 727.0 L652.0 723.2 L652.4 728.2 L652.9 716.9 L653.3 718.1 L653.8 719.1 L654.2 721.2 L654.7 730.0 L655.1 728.1 L655.6 722.4 L656.0 722.4" fill="none" stroke="#d95319" stroke-width="1.0" stroke-linejoin="round"/><path d="M584.0 720.5 L584.5 724.3 L584.9 730.6 L585.4 734.6 L585.8 728.9 L586.3 731.1 L586.7 732.7 L587.2 730.0 L587.6 733.6 L588.1 730.3 L588.5 734.4 L589.0 734.5 L589.4 735.4 L589.9 731.7 L590.3 715.0 L590.8 727.2 L591.2 716.8 L591.7 734.2 L592.1 725.2 L592.6 714.9 L593.0 722.7 L593.5 733.2 L593.9 733.1 L594.4 735.9 L594.8 728.9 L595.3 731.1 L595.7 716.6 L596.2 721.4 L596.6 716.8 L597.1 728.3 L597.5 724.9 L598.0 718.7 L598.4 731.0 L598.9 734.3 L599.3 718.7 L599.8 735.4 L600.2 722.2 L600.7 734.9 L601.1 730.5 L601.6 728.2 L602.0 726.6 L602.5 737.0 L602.9 730.6 L603.4 735.7 L603.8 739.9 L604.3 721.4 L604.7 723.3 L605.2 732.5 L605.6 721.9 L606.1 721.3 L606.5 740.0 L607.0 738.8 L607.4 738.7 L607.9 724.3 L608.3 730.7 L608.8 729.9 L609.2 719.7 L609.7 719.8 L610.1 722.7 L610.6 728.4 L611.0 723.3 L611.5 720.6 L611.9 729.2 L612.4 737.1 L612.8 720.5 L613.3 733.5 L613.7 727.5 L614.2 741.6 L614.6 736.4 L615.1 739.7 L615.5 737.3 L616.0 734.2 L616.4 721.2 L616.9 729.3 L617.3 721.1 L617.8 741.0 L618.2 733.4 L618.7 723.8 L619.1 725.6 L619.6 727.5 L620.0 734.2 L620.5 725.8 L620.9 740.4 L621.4 725.1 L621.8 738.0 L622.3 730.6 L622.7 720.6 L623.2 725.5 L623.6 724.2 L624.1 739.4 L624.5 726.2 L625.0 730.7 L625.4 724.0 L625.9 734.8 L626.3 726.6 L626.8 727.1 L627.2 734.6 L627.7 719.9 L628.1 724.2 L628.6 729.7 L629.0 728.1 L629.5 729.1 L629.9 735.1 L630.4 719.6 L630.8 720.0 L631.3 731.8 L631.7 723.5 L632.2 713.5 L632.6 732.3 L633.1 732.1 L633.5 721.3 L634.0 721.4 L634.4 733.6 L634.9 720.1 L635.3 715.6 L635.8 727.2 L636.2 718.4 L636.7 716.4 L637.1 727.2 L637.6 714.3 L638.0 733.7 L638.5 717.5 L638.9 720.3 L639.4 732.3 L639.8 725.6 L640.3 712.6 L640.7 732.0 L641.2 719.4 L641.6 715.4 L642.1 717.8 L642.5 724.3 L643.0 728.6 L643.4 723.9 L643.9 722.7 L644.3 728.4 L644.8 732.2 L645.2 722.8 L645.7 714.4 L646.1 715.3 L646.6 732.2 L647.0 732.3 L647.5 727.9 L647.9 725.3 L648.4 730.9 L648.8 728.9 L649.3 727.6 L649.7 723.8 L650.2 727.4 L650.6 719.7 L651.1 730.0 L651.5 728.9 L652.0 723.5 L652.4 713.4 L652.9 720.5 L653.3 721.8 L653.8 715.7 L654.2 724.2 L654.7 712.8 L655.1 717.9 L655.6 715.0 L656.0 723.1" fill="none" stroke="#d95319" stroke-width="1.0" stroke-linejoin="round"/><path d="M584.0 719.7 L584.5 720.5 L584.9 736.1 L585.4 721.8 L585.8 727.2 L586.3 721.0 L586.7 716.5 L587.2 731.1 L587.6 723.5 L588.1 725.7 L588.5 715.6 L589.0 719.2 L589.4 727.3 L589.9 730.0 L590.3 729.3 L590.8 736.1 L591.2 722.9 L591.7 734.2 L592.1 731.7 L592.6 730.5 L593.0 733.9 L593.5 735.0 L593.9 730.6 L594.4 715.9 L594.8 718.8 L595.3 727.5 L595.7 727.3 L596.2 737.0 L596.6 727.5 L597.1 733.3 L597.5 729.1 L598.0 716.3 L598.4 722.9 L598.9 725.8 L599.3 718.3 L599.8 726.1 L600.2 729.2 L600.7 734.4 L601.1 731.3 L601.6 736.1 L602.0 736.5 L602.5 717.9 L602.9 738.6 L603.4 727.0 L603.8 731.9 L604.3 723.9 L604.7 724.3 L605.2 729.1 L605.6 739.8 L606.1 728.0 L606.5 740.4 L607.0 740.0 L607.4 736.4 L607.9 728.1 L608.3 727.5 L608.8 736.6 L609.2 728.1 L609.7 720.5 L610.1 738.9 L610.6 726.3 L611.0 734.6 L611.5 737.0 L611.9 735.3 L612.4 741.6 L612.8 731.2 L613.3 740.8 L613.7 720.8 L614.2 730.0 L614.6 731.8 L615.1 733.0 L615.5 724.8 L616.0 738.0 L616.4 739.9 L616.9 741.1 L617.3 728.0 L617.8 742.1 L618.2 728.4 L618.7 725.5 L619.1 735.7 L619.6 720.4 L620.0 724.3 L620.5 722.4 L620.9 726.4 L621.4 739.0 L621.8 721.5 L622.3 740.2 L622.7 735.0 L623.2 736.1 L623.6 728.0 L624.1 738.1 L624.5 730.3 L625.0 736.8 L625.4 723.6 L625.9 737.5 L626.3 737.6 L626.8 724.5 L627.2 718.9 L627.7 736.7 L628.1 720.2 L628.6 732.3 L629.0 735.2 L629.5 714.9 L629.9 730.0 L630.4 715.4 L630.8 725.1 L631.3 732.0 L631.7 715.2 L632.2 717.9 L632.6 730.0 L633.1 728.2 L633.5 729.4 L634.0 724.1 L634.4 718.9 L634.9 720.3 L635.3 728.2 L635.8 733.9 L636.2 719.4 L636.7 717.7 L637.1 719.6 L637.6 714.2 L638.0 716.4 L638.5 730.1 L638.9 714.9 L639.4 715.8 L639.8 730.2 L640.3 717.5 L640.7 732.5 L641.2 718.7 L641.6 716.2 L642.1 721.0 L642.5 712.5 L643.0 721.4 L643.4 724.0 L643.9 733.1 L644.3 727.7 L644.8 720.6 L645.2 720.3 L645.7 721.2 L646.1 717.3 L646.6 716.0 L647.0 716.1 L647.5 729.2 L647.9 733.5 L648.4 723.2 L648.8 718.3 L649.3 724.8 L649.7 715.8 L650.2 724.1 L650.6 718.9 L651.1 728.1 L651.5 732.4 L652.0 732.5 L652.4 713.5 L652.9 716.3 L653.3 717.1 L653.8 731.7 L654.2 727.3 L654.7 715.4 L655.1 712.6 L655.6 718.9 L656.0 717.1" fill="none" stroke="#d95319" stroke-width="1.0" stroke-linejoin="round"/><path d="M584.0 733.8 L584.5 735.9 L584.9 722.0 L585.4 733.0 L585.8 722.9 L586.3 725.1 L586.7 716.0 L587.2 729.5 L587.6 717.0 L588.1 726.2 L588.5 718.7 L589.0 734.1 L589.4 719.3 L589.9 725.1 L590.3 727.0 L590.8 723.2 L591.2 717.7 L591.7 719.3 L592.1 726.6 L592.6 716.5 L593.0 734.6 L593.5 733.4 L593.9 716.6 L594.4 716.2 L594.8 725.4 L595.3 715.2 L595.7 737.5 L596.2 716.6 L596.6 726.7 L597.1 726.1 L597.5 727.8 L598.0 723.3 L598.4 727.0 L598.9 724.4 L599.3 716.8 L599.8 717.8 L600.2 737.3 L600.7 725.1 L601.1 732.0 L601.6 736.0 L602.0 718.9 L602.5 719.5 L602.9 732.0 L603.4 723.8 L603.8 728.6 L604.3 727.5 L604.7 725.3 L605.2 735.2 L605.6 735.3 L606.1 721.9 L606.5 728.5 L607.0 738.8 L607.4 740.2 L607.9 727.5 L608.3 737.9 L608.8 726.6 L609.2 722.1 L609.7 735.8 L610.1 729.7 L610.6 720.1 L611.0 730.3 L611.5 725.2 L611.9 729.3 L612.4 727.2 L612.8 735.8 L613.3 722.2 L613.7 732.0 L614.2 728.2 L614.6 730.0 L615.1 734.4 L615.5 731.1 L616.0 732.1 L616.4 735.7 L616.9 728.2 L617.3 736.2 L617.8 735.2 L618.2 726.9 L618.7 734.1 L619.1 730.0 L619.6 727.8 L620.0 734.9 L620.5 723.3 L620.9 722.9 L621.4 725.9 L621.8 738.2 L622.3 723.1 L622.7 729.1 L623.2 738.8 L623.6 718.3 L624.1 730.6 L624.5 732.2 L625.0 721.3 L625.4 738.0 L625.9 721.2 L626.3 727.1 L626.8 727.8 L627.2 726.5 L627.7 733.1 L628.1 728.2 L628.6 725.3 L629.0 722.2 L629.5 733.1 L629.9 723.4 L630.4 715.5 L630.8 717.4 L631.3 729.0 L631.7 718.8 L632.2 724.6 L632.6 731.8 L633.1 715.0 L633.5 716.6 L634.0 733.6 L634.4 732.7 L634.9 733.0 L635.3 719.9 L635.8 720.0 L636.2 721.2 L636.7 732.0 L637.1 715.7 L637.6 723.7 L638.0 718.2 L638.5 718.3 L638.9 714.1 L639.4 720.8 L639.8 713.6 L640.3 722.1 L640.7 727.4 L641.2 718.5 L641.6 719.6 L642.1 714.0 L642.5 732.5 L643.0 713.9 L643.4 728.7 L643.9 726.4 L644.3 716.1 L644.8 714.6 L645.2 717.8 L645.7 717.2 L646.1 721.9 L646.6 719.5 L647.0 715.9 L647.5 726.3 L647.9 713.6 L648.4 717.6 L648.8 728.6 L649.3 730.9 L649.7 729.0 L650.2 727.7 L650.6 715.4 L651.1 729.7 L651.5 713.4 L652.0 718.9 L652.4 724.4 L652.9 729.2 L653.3 729.3 L653.8 716.4 L654.2 713.0 L654.7 717.0 L655.1 722.9 L655.6 730.7 L656.0 727.6" fill="none" stroke="#d95319" stroke-width="1.0" stroke-linejoin="round"/><path d="M584.0 725.2 L584.5 734.8 L584.9 723.1 L585.4 724.7 L585.8 735.7 L586.3 717.2 L586.7 720.5 L587.2 734.6 L587.6 728.9 L588.1 723.9 L588.5 728.9 L589.0 720.2 L589.4 724.0 L589.9 717.9 L590.3 721.3 L590.8 734.9 L591.2 725.5 L591.7 736.7 L592.1 728.5 L592.6 731.3 L593.0 719.3 L593.5 735.7 L593.9 718.0 L594.4 731.2 L594.8 730.8 L595.3 716.1 L595.7 728.1 L596.2 728.4 L596.6 734.1 L597.1 727.3 L597.5 735.5 L598.0 732.6 L598.4 715.3 L598.9 730.6 L599.3 727.6 L599.8 727.0 L600.2 735.1 L600.7 725.7 L601.1 728.6 L601.6 737.2 L602.0 723.9 L602.5 737.0 L602.9 716.6 L603.4 721.8 L603.8 735.5 L604.3 729.9 L604.7 729.3 L605.2 735.3 L605.6 721.6 L606.1 728.8 L606.5 724.7 L607.0 737.7 L607.4 722.9 L607.9 718.5 L608.3 733.1 L608.8 721.1 L609.2 723.3 L609.7 730.4 L610.1 727.3 L610.6 733.0 L611.0 737.0 L611.5 741.6 L611.9 733.3 L612.4 727.0 L612.8 725.9 L613.3 730.1 L613.7 735.7 L614.2 736.5 L614.6 726.0 L615.1 721.1 L615.5 740.4 L616.0 732.9 L616.4 723.0 L616.9 729.9 L617.3 720.9 L617.8 728.6 L618.2 729.4 L618.7 726.0 L619.1 731.5 L619.6 722.7 L620.0 720.2 L620.5 741.0 L620.9 733.2 L621.4 737.2 L621.8 730.0 L622.3 731.0 L622.7 720.3 L623.2 730.0 L623.6 732.0 L624.1 736.9 L624.5 726.1 L625.0 723.1 L625.4 721.5 L625.9 734.7 L626.3 731.6 L626.8 736.1 L627.2 725.1 L627.7 727.9 L628.1 719.1 L628.6 724.8 L629.0 728.6 L629.5 723.8 L629.9 729.4 L630.4 731.6 L630.8 730.5 L631.3 734.2 L631.7 714.3 L632.2 717.7 L632.6 728.5 L633.1 714.3 L633.5 722.5 L634.0 726.3 L634.4 733.6 L634.9 731.6 L635.3 726.9 L635.8 727.4 L636.2 731.5 L636.7 715.7 L637.1 725.5 L637.6 715.1 L638.0 724.1 L638.5 713.8 L638.9 726.0 L639.4 731.1 L639.8 726.3 L640.3 728.2 L640.7 723.9 L641.2 720.6 L641.6 722.2 L642.1 722.7 L642.5 714.8 L643.0 717.9 L643.4 724.2 L643.9 725.4 L644.3 723.8 L644.8 731.7 L645.2 718.7 L645.7 729.4 L646.1 720.5 L646.6 729.8 L647.0 732.6 L647.5 719.1 L647.9 723.9 L648.4 722.7 L648.8 715.0 L649.3 712.3 L649.7 714.4 L650.2 728.1 L650.6 713.3 L651.1 716.1 L651.5 718.3 L652.0 716.2 L652.4 731.9 L652.9 722.2 L653.3 720.7 L653.8 716.9 L654.2 723.0 L654.7 726.3 L655.1 712.5 L655.6 723.4 L656.0 728.6" fill="none" stroke="#d95319" stroke-width="1.0" stroke-linejoin="round"/><path d="M584.0 719.7 L584.5 729.5 L584.9 729.5 L585.4 719.9 L585.8 722.5 L586.3 720.1 L586.7 733.0 L587.2 730.9 L587.6 730.3 L588.1 723.3 L588.5 725.2 L589.0 725.7 L589.4 719.2 L589.9 728.0 L590.3 718.5 L590.8 728.1 L591.2 737.0 L591.7 716.2 L592.1 723.9 L592.6 722.1 L593.0 727.2 L593.5 728.9 L593.9 726.5 L594.4 726.1 L594.8 733.6 L595.3 734.9 L595.7 719.5 L596.2 731.8 L596.6 725.5 L597.1 718.7 L597.5 716.5 L598.0 722.6 L598.4 715.9 L598.9 729.8 L599.3 719.8 L599.8 729.3 L600.2 722.4 L600.7 720.6 L601.1 730.4 L601.6 721.7 L602.0 737.4 L602.5 722.1 L602.9 717.9 L603.4 722.2 L603.8 726.2 L604.3 726.7 L604.7 726.5 L605.2 729.4 L605.6 723.7 L606.1 732.2 L606.5 728.3 L607.0 737.5 L607.4 732.3 L607.9 735.1 L608.3 727.8 L608.8 741.4 L609.2 739.2 L609.7 738.2 L610.1 727.0 L610.6 739.4 L611.0 735.0 L611.5 726.8 L611.9 726.0 L612.4 721.3 L612.8 737.1 L613.3 734.7 L613.7 738.7 L614.2 720.4 L614.6 723.7 L615.1 737.6 L615.5 724.3 L616.0 720.8 L616.4 737.2 L616.9 720.8 L617.3 732.6 L617.8 741.8 L618.2 724.0 L618.7 730.2 L619.1 731.7 L619.6 721.1 L620.0 725.5 L620.5 739.1 L620.9 740.0 L621.4 719.6 L621.8 734.4 L622.3 738.2 L622.7 726.3 L623.2 732.9 L623.6 729.4 L624.1 734.6 L624.5 735.3 L625.0 732.6 L625.4 725.5 L625.9 722.1 L626.3 718.2 L626.8 716.1 L627.2 735.3 L627.7 734.7 L628.1 721.3 L628.6 724.6 L629.0 715.5 L629.5 720.7 L629.9 723.7 L630.4 728.0 L630.8 723.6 L631.3 728.4 L631.7 714.8 L632.2 733.1 L632.6 733.6 L633.1 723.4 L633.5 725.4 L634.0 729.3 L634.4 727.0 L634.9 727.6 L635.3 721.2 L635.8 718.7 L636.2 727.1 L636.7 733.8 L637.1 715.2 L637.6 716.0 L638.0 723.7 L638.5 723.5 L638.9 723.5 L639.4 713.6 L639.8 723.3 L640.3 716.2 L640.7 725.7 L641.2 715.5 L641.6 721.4 L642.1 731.5 L642.5 717.8 L643.0 731.3 L643.4 726.7 L643.9 730.1 L644.3 718.9 L644.8 732.9 L645.2 725.6 L645.7 723.2 L646.1 729.0 L646.6 727.4 L647.0 716.9 L647.5 723.7 L647.9 714.9 L648.4 719.4 L648.8 722.8 L649.3 720.1 L649.7 718.5 L650.2 725.6 L650.6 712.5 L651.1 730.3 L651.5 725.5 L652.0 725.2 L652.4 722.6 L652.9 718.2 L653.3 724.6 L653.8 716.3 L654.2 726.1 L654.7 719.3 L655.1 714.2 L655.6 729.1 L656.0 731.6" fill="none" stroke="#d95319" stroke-width="1.0" stroke-linejoin="round"/><path d="M584.0 734.8 L584.5 721.3 L584.9 732.2 L585.4 730.5 L585.8 733.3 L586.3 717.5 L586.7 728.2 L587.2 716.8 L587.6 722.6 L588.1 730.5 L588.5 730.6 L589.0 732.2 L589.4 733.2 L589.9 723.9 L590.3 734.2 L590.8 730.8 L591.2 725.7 L591.7 732.0 L592.1 723.1 L592.6 718.6 L593.0 730.5 L593.5 721.1 L593.9 717.8 L594.4 719.1 L594.8 732.7 L595.3 722.1 L595.7 715.2 L596.2 720.7 L596.6 735.2 L597.1 729.6 L597.5 714.2 L598.0 734.1 L598.4 716.4 L598.9 729.4 L599.3 736.0 L599.8 718.5 L600.2 715.8 L600.7 739.0 L601.1 732.9 L601.6 723.7 L602.0 737.5 L602.5 724.1 L602.9 726.3 L603.4 720.6 L603.8 721.3 L604.3 724.1 L604.7 736.8 L605.2 734.2 L605.6 733.3 L606.1 729.0 L606.5 740.1 L607.0 736.5 L607.4 723.9 L607.9 729.8 L608.3 723.5 L608.8 732.7 L609.2 736.2 L609.7 721.3 L610.1 733.8 L610.6 737.5 L611.0 736.5 L611.5 727.5 L611.9 738.3 L612.4 732.4 L612.8 731.0 L613.3 738.4 L613.7 719.8 L614.2 739.1 L614.6 737.0 L615.1 724.6 L615.5 722.5 L616.0 740.9 L616.4 722.0 L616.9 737.7 L617.3 721.8 L617.8 732.4 L618.2 727.3 L618.7 723.9 L619.1 721.0 L619.6 735.4 L620.0 737.9 L620.5 736.5 L620.9 722.7 L621.4 733.2 L621.8 727.0 L622.3 725.3 L622.7 732.9 L623.2 723.3 L623.6 724.2 L624.1 730.3 L624.5 724.1 L625.0 717.8 L625.4 724.3 L625.9 718.7 L626.3 722.8 L626.8 718.9 L627.2 737.2 L627.7 724.8 L628.1 731.2 L628.6 719.4 L629.0 722.0 L629.5 717.4 L629.9 734.0 L630.4 715.3 L630.8 716.4 L631.3 722.3 L631.7 716.4 L632.2 728.6 L632.6 727.7 L633.1 721.6 L633.5 727.7 L634.0 734.1 L634.4 716.8 L634.9 715.3 L635.3 715.4 L635.8 718.0 L636.2 723.2 L636.7 720.7 L637.1 721.8 L637.6 729.0 L638.0 731.4 L638.5 719.3 L638.9 728.4 L639.4 726.9 L639.8 719.4 L640.3 731.6 L640.7 728.1 L641.2 716.1 L641.6 729.5 L642.1 729.8 L642.5 717.8 L643.0 715.8 L643.4 721.5 L643.9 728.6 L644.3 722.9 L644.8 732.7 L645.2 724.5 L645.7 718.4 L646.1 732.3 L646.6 712.5 L647.0 726.6 L647.5 720.6 L647.9 715.2 L648.4 718.2 L648.8 733.3 L649.3 712.8 L649.7 727.5 L650.2 733.2 L650.6 719.2 L651.1 713.0 L651.5 716.4 L652.0 715.3 L652.4 730.3 L652.9 714.0 L653.3 723.3 L653.8 730.0 L654.2 723.0 L654.7 731.1 L655.1 715.9 L655.6 727.5 L656.0 719.6" fill="none" stroke="#d95319" stroke-width="1.0" stroke-linejoin="round"/><path d="M584.0 720.3 L584.5 720.1 L584.9 720.0 L585.4 719.9 L585.8 719.7 L586.3 719.6 L586.7 719.5 L587.2 719.3 L587.6 719.2 L588.1 719.0 L588.5 718.9 L589.0 718.8 L589.4 718.6 L589.9 718.5 L590.3 718.4 L590.8 718.4 L591.2 718.4 L591.7 718.4 L592.1 718.3 L592.6 718.3 L593.0 718.3 L593.5 718.3 L593.9 718.2 L594.4 718.2 L594.8 718.2 L595.3 718.2 L595.7 718.1 L596.2 718.1 L596.6 718.1 L597.1 718.1 L597.5 718.0 L598.0 718.0 L598.4 718.2 L598.9 718.4 L599.3 718.7 L599.8 718.9 L600.2 719.1 L600.7 719.3 L601.1 719.6 L601.6 719.8 L602.0 720.0 L602.5 720.2 L602.9 720.5 L603.4 720.7 L603.8 720.9 L604.3 721.1 L604.7 721.2 L605.2 721.4 L605.6 721.5 L606.1 721.6 L606.5 721.8 L607.0 721.9 L607.4 722.0 L607.9 722.2 L608.3 722.3 L608.8 722.5 L609.2 722.6 L609.7 722.7 L610.1 722.9 L610.6 723.0 L611.0 723.1 L611.5 723.3 L611.9 723.4 L612.4 723.4 L612.8 723.4 L613.3 723.4 L613.7 723.4 L614.2 723.4 L614.6 723.4 L615.1 723.4 L615.5 723.4 L616.0 723.4 L616.4 723.4 L616.9 723.4 L617.3 723.4 L617.8 723.4 L618.2 723.4 L618.7 723.4 L619.1 723.4 L619.6 723.4 L620.0 723.4 L620.5 723.1 L620.9 722.8 L621.4 722.5 L621.8 722.2 L622.3 721.9 L622.7 721.6 L623.2 721.3 L623.6 721.0 L624.1 720.7 L624.5 720.4 L625.0 720.1 L625.4 719.8 L625.9 719.5 L626.3 719.3 L626.8 719.1 L627.2 718.9 L627.7 718.7 L628.1 718.5 L628.6 718.3 L629.0 718.1 L629.5 718.0 L629.9 717.8 L630.4 717.6 L630.8 717.4 L631.3 717.2 L631.7 717.0 L632.2 716.8 L632.6 716.8 L633.1 716.7 L633.5 716.7 L634.0 716.6 L634.4 716.6 L634.9 716.5 L635.3 716.4 L635.8 716.4 L636.2 716.3 L636.7 716.3 L637.1 716.2 L637.6 716.2 L638.0 716.1 L638.5 716.1 L638.9 716.0 L639.4 715.9 L639.8 715.9 L640.3 715.9 L640.7 715.9 L641.2 715.9 L641.6 715.9 L642.1 715.9 L642.5 715.9 L643.0 715.9 L643.4 715.9 L643.9 715.9 L644.3 715.9 L644.8 715.9 L645.2 715.9 L645.7 715.9 L646.1 715.9 L646.6 715.9 L647.0 715.9 L647.5 715.9 L647.9 715.9 L648.4 715.8 L648.8 715.8 L649.3 715.8 L649.7 715.7 L650.2 715.7 L650.6 715.7 L651.1 715.6 L651.5 715.6 L652.0 715.6 L652.4 715.6 L652.9 715.5 L653.3 715.5 L653.8 715.5 L654.2 715.4 L654.7 715.4 L655.1 715.4 L655.6 715.3 L656.0 715.3 L656.0 728.8 L655.6 728.8 L655.1 728.9 L654.7 729.0 L654.2 729.1 L653.8 729.2 L653.3 729.2 L652.9 729.3 L652.4 729.4 L652.0 729.5 L651.5 729.5 L651.1 729.6 L650.6 729.7 L650.2 729.8 L649.7 729.8 L649.3 729.9 L648.8 730.0 L648.4 730.1 L647.9 730.1 L647.5 730.1 L647.0 730.1 L646.6 730.1 L646.1 730.1 L645.7 730.1 L645.2 730.1 L644.8 730.1 L644.3 730.1 L643.9 730.1 L643.4 730.1 L643.0 730.1 L642.5 730.1 L642.1 730.1 L641.6 730.1 L641.2 730.1 L640.7 730.1 L640.3 730.1 L639.8 730.2 L639.4 730.2 L638.9 730.3 L638.5 730.3 L638.0 730.4 L637.6 730.4 L637.1 730.5 L636.7 730.6 L636.2 730.6 L635.8 730.7 L635.3 730.7 L634.9 730.8 L634.4 730.8 L634.0 730.9 L633.5 731.0 L633.1 731.0 L632.6 731.1 L632.2 731.1 L631.7 731.3 L631.3 731.6 L630.8 731.8 L630.4 732.1 L629.9 732.3 L629.5 732.6 L629.0 732.8 L628.6 733.1 L628.1 733.4 L627.7 733.6 L627.2 733.9 L626.8 734.1 L626.3 734.4 L625.9 734.7 L625.4 735.0 L625.0 735.3 L624.5 735.6 L624.1 735.9 L623.6 736.2 L623.2 736.5 L622.7 736.8 L622.3 737.1 L621.8 737.4 L621.4 737.7 L620.9 738.0 L620.5 738.3 L620.0 738.6 L619.6 738.6 L619.1 738.6 L618.7 738.6 L618.2 738.6 L617.8 738.6 L617.3 738.6 L616.9 738.6 L616.4 738.6 L616.0 738.6 L615.5 738.6 L615.1 738.6 L614.6 738.6 L614.2 738.6 L613.7 738.6 L613.3 738.6 L612.8 738.6 L612.4 738.6 L611.9 738.5 L611.5 738.5 L611.0 738.4 L610.6 738.3 L610.1 738.2 L609.7 738.1 L609.2 738.0 L608.8 737.9 L608.3 737.8 L607.9 737.7 L607.4 737.7 L607.0 737.6 L606.5 737.5 L606.1 737.4 L605.6 737.3 L605.2 737.2 L604.7 737.1 L604.3 737.0 L603.8 736.9 L603.4 736.7 L602.9 736.4 L602.5 736.2 L602.0 736.0 L601.6 735.8 L601.1 735.5 L600.7 735.3 L600.2 735.1 L599.8 734.9 L599.3 734.6 L598.9 734.4 L598.4 734.2 L598.0 734.0 L597.5 734.0 L597.1 733.9 L596.6 733.9 L596.2 733.9 L595.7 733.9 L595.3 733.8 L594.8 733.8 L594.4 733.8 L593.9 733.8 L593.5 733.7 L593.0 733.7 L592.6 733.7 L592.1 733.7 L591.7 733.6 L591.2 733.6 L590.8 733.6 L590.3 733.6 L589.9 733.6 L589.4 733.6 L589.0 733.6 L588.5 733.6 L588.1 733.6 L587.6 733.6 L587.2 733.6 L586.7 733.6 L586.3 733.7 L585.8 733.7 L585.4 733.7 L584.9 733.7 L584.5 733.7 L584.0 733.7Z" fill="#d95319"/>
<path d="M454.0 792.0 L454.4 790.4 L454.8 790.1 L455.2 790.0 L455.6 788.4 L456.0 789.7 L456.4 791.0 L456.8 788.3 L457.2 791.3 L457.6 790.9 L458.0 792.2 L458.4 793.4 L458.8 793.8 L459.2 790.5 L459.6 792.4 L460.0 793.0 L460.4 793.3 L460.8 790.9 L461.2 788.8 L461.6 789.6 L462.0 790.3 L462.4 795.6 L462.8 790.7 L463.2 792.1 L463.6 793.0 L464.0 793.3 L464.4 794.8 L464.8 792.9 L465.2 799.5 L465.6 796.9 L466.0 801.1 L466.4 798.5 L466.8 796.1 L467.2 796.6 L467.6 802.0 L468.0 797.3 L468.4 797.5 L468.8 798.6 L469.2 799.7 L469.6 806.2 L470.0 804.8 L470.4 802.6 L470.8 806.6 L471.2 805.4 L471.6 804.6 L472.0 804.9 L472.4 801.8 L472.8 803.1 L473.2 806.2 L473.6 808.7 L474.0 804.7 L474.4 809.6 L474.8 804.5 L475.2 806.3 L475.6 808.8 L476.0 805.3 L476.4 810.0 L476.8 805.6 L477.2 807.0 L477.6 806.9 L478.0 808.2 L478.4 807.0 L478.8 808.5 L479.2 797.1 L479.6 805.3 L480.0 798.6 L480.4 799.4 L480.8 809.8" fill="none" stroke="#0f72c0" stroke-width="1.0" stroke-linejoin="round"/><path d="M454.0 791.4 L454.4 788.8 L454.8 791.0 L455.2 788.1 L455.6 793.0 L456.0 788.6 L456.4 792.9 L456.8 790.7 L457.2 790.3 L457.6 788.0 L458.0 789.3 L458.4 793.7 L458.8 788.3 L459.2 792.3 L459.6 790.5 L460.0 789.5 L460.4 788.9 L460.8 794.7 L461.2 795.6 L461.6 789.5 L462.0 791.1 L462.4 791.5 L462.8 796.3 L463.2 794.5 L463.6 792.3 L464.0 796.8 L464.4 795.9 L464.8 797.4 L465.2 797.6 L465.6 801.0 L466.0 798.4 L466.4 798.6 L466.8 802.6 L467.2 800.2 L467.6 798.4 L468.0 802.5 L468.4 801.4 L468.8 804.5 L469.2 799.1 L469.6 806.2 L470.0 806.0 L470.4 802.3 L470.8 806.2 L471.2 807.7 L471.6 807.5 L472.0 802.4 L472.4 806.1 L472.8 805.1 L473.2 808.4 L473.6 805.4 L474.0 805.9 L474.4 803.9 L474.8 809.7 L475.2 808.8 L475.6 809.5 L476.0 808.0 L476.4 807.2 L476.8 809.1 L477.2 807.2 L477.6 808.7 L478.0 805.4 L478.4 802.5 L478.8 809.1 L479.2 803.6 L479.6 799.5 L480.0 802.2 L480.4 807.4 L480.8 804.8" fill="none" stroke="#0f72c0" stroke-width="1.0" stroke-linejoin="round"/><path d="M454.0 793.2 L454.4 789.3 L454.8 791.0 L455.2 792.2 L455.6 791.0 L456.0 788.9 L456.4 789.4 L456.8 789.2 L457.2 788.8 L457.6 791.2 L458.0 792.6 L458.4 791.4 L458.8 789.7 L459.2 792.1 L459.6 787.4 L460.0 793.8 L460.4 789.7 L460.8 795.5 L461.2 790.0 L461.6 790.0 L462.0 792.1 L462.4 796.7 L462.8 797.3 L463.2 790.9 L463.6 795.9 L464.0 795.9 L464.4 799.5 L464.8 797.2 L465.2 794.6 L465.6 799.5 L466.0 801.4 L466.4 801.0 L466.8 796.8 L467.2 796.0 L467.6 801.8 L468.0 802.0 L468.4 803.8 L468.8 803.0 L469.2 802.9 L469.6 806.1 L470.0 804.9 L470.4 800.5 L470.8 802.3 L471.2 805.7 L471.6 803.0 L472.0 808.7 L472.4 802.0 L472.8 809.2 L473.2 807.3 L473.6 807.7 L474.0 804.1 L474.4 805.6 L474.8 808.5 L475.2 806.1 L475.6 808.6 L476.0 807.4 L476.4 810.5 L476.8 807.5 L477.2 805.9 L477.6 807.6 L478.0 809.7 L478.4 807.3 L478.8 801.3 L479.2 798.6 L479.6 803.0 L480.0 795.6 L480.4 801.6 L480.8 809.9" fill="none" stroke="#0f72c0" stroke-width="1.0" stroke-linejoin="round"/><path d="M454.0 789.6 L454.4 793.1 L454.8 793.3 L455.2 792.5 L455.6 793.1 L456.0 791.0 L456.4 788.8 L456.8 791.4 L457.2 790.7 L457.6 789.4 L458.0 793.1 L458.4 789.2 L458.8 792.3 L459.2 787.5 L459.6 788.1 L460.0 791.9 L460.4 787.9 L460.8 790.5 L461.2 788.9 L461.6 794.9 L462.0 796.4 L462.4 795.3 L462.8 792.1 L463.2 795.2 L463.6 796.1 L464.0 796.7 L464.4 792.3 L464.8 797.0 L465.2 798.0 L465.6 795.7 L466.0 799.1 L466.4 796.4 L466.8 799.3 L467.2 800.1 L467.6 802.8 L468.0 797.2 L468.4 800.2 L468.8 801.2 L469.2 798.9 L469.6 805.2 L470.0 800.6 L470.4 802.6 L470.8 801.6 L471.2 803.6 L471.6 805.1 L472.0 802.8 L472.4 804.5 L472.8 809.2 L473.2 807.7 L473.6 808.9 L474.0 807.8 L474.4 803.9 L474.8 804.2 L475.2 804.3 L475.6 805.8 L476.0 810.0 L476.4 806.7 L476.8 806.6 L477.2 805.2 L477.6 805.8 L478.0 810.7 L478.4 809.2 L478.8 799.1 L479.2 799.0 L479.6 803.2 L480.0 792.8 L480.4 798.6 L480.8 809.4" fill="none" stroke="#0f72c0" stroke-width="1.0" stroke-linejoin="round"/><path d="M454.0 789.3 L454.4 789.1 L454.8 788.9 L455.2 788.8 L455.6 788.6 L456.0 788.4 L456.4 788.2 L456.8 788.0 L457.2 787.9 L457.6 788.0 L458.0 788.1 L458.4 788.2 L458.8 788.2 L459.2 788.3 L459.6 788.4 L460.0 788.5 L460.4 788.9 L460.8 789.3 L461.2 789.7 L461.6 790.1 L462.0 790.5 L462.4 790.9 L462.8 791.3 L463.2 791.7 L463.6 792.3 L464.0 792.8 L464.4 793.3 L464.8 793.9 L465.2 794.4 L465.6 794.9 L466.0 795.5 L466.4 796.0 L466.8 796.5 L467.2 797.1 L467.6 797.6 L468.0 798.1 L468.4 798.7 L468.8 799.2 L469.2 799.7 L469.6 800.1 L470.0 800.5 L470.4 800.9 L470.8 801.3 L471.2 801.7 L471.6 802.1 L472.0 802.5 L472.4 802.7 L472.8 803.0 L473.2 803.3 L473.6 803.5 L474.0 803.8 L474.4 804.1 L474.8 804.3 L475.2 804.6 L475.6 804.8 L476.0 805.0 L476.4 805.1 L476.8 805.3 L477.2 805.5 L477.6 805.7 L478.0 805.9 L478.4 803.0 L478.8 800.1 L479.2 797.1 L479.6 795.0 L480.0 795.3 L480.4 795.7 L480.8 796.0 L480.8 807.5 L480.4 806.7 L480.0 806.0 L479.6 805.2 L479.2 806.1 L478.8 807.4 L478.4 808.8 L478.0 810.1 L477.6 810.0 L477.2 809.9 L476.8 809.9 L476.4 809.8 L476.0 809.7 L475.6 809.6 L475.2 809.6 L474.8 809.4 L474.4 809.1 L474.0 808.9 L473.6 808.6 L473.2 808.3 L472.8 808.1 L472.4 807.8 L472.0 807.5 L471.6 807.1 L471.2 806.7 L470.8 806.3 L470.4 805.9 L470.0 805.5 L469.6 805.1 L469.2 804.7 L468.8 804.3 L468.4 803.7 L468.0 803.2 L467.6 802.7 L467.2 802.1 L466.8 801.6 L466.4 801.1 L466.0 800.5 L465.6 800.0 L465.2 799.5 L464.8 798.9 L464.4 798.4 L464.0 797.9 L463.6 797.3 L463.2 796.8 L462.8 796.3 L462.4 795.9 L462.0 795.5 L461.6 795.1 L461.2 794.7 L460.8 794.3 L460.4 793.9 L460.0 793.5 L459.6 793.3 L459.2 793.1 L458.8 793.0 L458.4 792.8 L458.0 792.6 L457.6 792.4 L457.2 792.2 L456.8 792.1 L456.4 792.2 L456.0 792.3 L455.6 792.4 L455.2 792.4 L454.8 792.5 L454.4 792.6 L454.0 792.7Z" fill="#0f72c0"/>
<path d="M512.5 803.6 L512.9 804.9 L513.3 802.5 L513.7 803.9 L514.1 804.0 L514.5 801.5 L514.9 801.8 L515.3 802.3 L515.7 796.5 L516.1 798.6 L516.5 796.8 L516.9 797.8 L517.3 797.5 L517.7 796.7 L518.1 794.3 L518.5 794.7 L518.9 796.6 L519.3 789.0 L519.7 796.9 L520.1 795.3 L520.5 787.7 L520.9 790.3 L521.3 793.0 L521.7 792.0 L522.1 785.5 L522.5 795.7 L522.9 794.7 L523.3 787.3 L523.7 791.8 L524.1 797.2 L524.5 785.8 L524.9 790.1 L525.3 789.9 L525.7 789.7 L526.1 795.4 L526.5 798.2 L526.9 790.1 L527.3 792.2 L527.7 792.8 L528.1 794.2 L528.5 791.7 L528.9 798.8 L529.3 796.2 L529.7 801.8 L530.1 800.0 L530.5 804.0 L530.9 794.7 L531.3 796.9 L531.7 797.3 L532.1 798.2 L532.5 798.2 L532.9 804.2 L533.3 803.2 L533.7 796.9 L534.1 797.8 L534.5 805.1 L534.9 806.2 L535.3 809.0 L535.7 808.1 L536.1 804.5 L536.5 803.7 L536.9 810.2 L537.3 808.3 L537.7 810.9 L538.1 803.8 L538.5 810.1 L538.9 812.7 L539.3 803.2 L539.7 805.5 L540.1 804.9 L540.5 810.6 L540.9 810.7 L541.3 805.1 L541.7 810.0 L542.1 814.4 L542.5 812.2 L542.9 814.4 L543.3 807.9 L543.7 813.6 L544.1 813.9 L544.5 806.8 L544.9 814.5 L545.3 810.8 L545.7 806.3 L546.1 802.6 L546.5 805.0 L546.9 809.9 L547.3 798.6 L547.7 807.3 L548.1 799.6 L548.5 802.5 L548.9 808.3 L549.3 803.9 L549.7 801.7 L550.1 807.8 L550.5 805.4 L550.9 807.2" fill="none" stroke="#8a2f96" stroke-width="1.0" stroke-linejoin="round"/><path d="M512.5 804.0 L512.9 806.3 L513.3 804.1 L513.7 805.3 L514.1 803.1 L514.5 804.9 L514.9 799.5 L515.3 801.4 L515.7 799.0 L516.1 796.5 L516.5 798.6 L516.9 802.1 L517.3 798.8 L517.7 791.7 L518.1 792.8 L518.5 799.3 L518.9 798.2 L519.3 798.0 L519.7 796.1 L520.1 790.9 L520.5 786.9 L520.9 789.2 L521.3 795.3 L521.7 783.5 L522.1 791.9 L522.5 787.1 L522.9 794.2 L523.3 786.1 L523.7 790.4 L524.1 797.3 L524.5 790.7 L524.9 786.6 L525.3 788.6 L525.7 795.4 L526.1 789.1 L526.5 799.0 L526.9 800.4 L527.3 796.4 L527.7 794.4 L528.1 791.9 L528.5 797.0 L528.9 802.9 L529.3 800.2 L529.7 795.8 L530.1 802.9 L530.5 793.9 L530.9 802.6 L531.3 796.5 L531.7 794.5 L532.1 803.5 L532.5 800.9 L532.9 806.1 L533.3 797.9 L533.7 796.4 L534.1 803.1 L534.5 803.3 L534.9 805.4 L535.3 807.5 L535.7 806.9 L536.1 810.4 L536.5 807.6 L536.9 810.9 L537.3 801.7 L537.7 811.9 L538.1 808.3 L538.5 804.7 L538.9 806.4 L539.3 807.4 L539.7 803.2 L540.1 809.7 L540.5 804.3 L540.9 805.0 L541.3 810.4 L541.7 807.1 L542.1 813.2 L542.5 810.5 L542.9 806.9 L543.3 806.6 L543.7 814.1 L544.1 811.8 L544.5 813.4 L544.9 815.9 L545.3 805.7 L545.7 813.6 L546.1 810.7 L546.5 806.6 L546.9 800.1 L547.3 797.5 L547.7 798.1 L548.1 800.0 L548.5 798.5 L548.9 812.9 L549.3 810.8 L549.7 801.2 L550.1 806.8 L550.5 808.4 L550.9 813.6" fill="none" stroke="#8a2f96" stroke-width="1.0" stroke-linejoin="round"/><path d="M512.5 803.9 L512.9 804.4 L513.3 805.1 L513.7 803.6 L514.1 801.3 L514.5 803.5 L514.9 799.2 L515.3 797.0 L515.7 801.0 L516.1 795.5 L516.5 795.6 L516.9 801.7 L517.3 800.3 L517.7 792.4 L518.1 797.8 L518.5 789.6 L518.9 791.2 L519.3 796.3 L519.7 789.1 L520.1 786.3 L520.5 784.8 L520.9 788.9 L521.3 793.4 L521.7 795.2 L522.1 791.5 L522.5 794.7 L522.9 791.0 L523.3 787.9 L523.7 795.2 L524.1 791.9 L524.5 796.8 L524.9 790.8 L525.3 788.5 L525.7 795.2 L526.1 789.4 L526.5 797.3 L526.9 797.0 L527.3 789.5 L527.7 793.2 L528.1 796.8 L528.5 790.3 L528.9 799.4 L529.3 792.5 L529.7 793.4 L530.1 792.8 L530.5 796.5 L530.9 800.0 L531.3 802.2 L531.7 802.5 L532.1 795.3 L532.5 805.3 L532.9 800.9 L533.3 801.4 L533.7 806.5 L534.1 797.5 L534.5 804.5 L534.9 807.6 L535.3 804.3 L535.7 801.3 L536.1 810.1 L536.5 805.9 L536.9 802.2 L537.3 804.5 L537.7 807.3 L538.1 802.9 L538.5 808.6 L538.9 803.1 L539.3 806.7 L539.7 809.0 L540.1 809.9 L540.5 808.4 L540.9 803.9 L541.3 808.3 L541.7 811.5 L542.1 810.1 L542.5 812.4 L542.9 810.2 L543.3 812.2 L543.7 812.2 L544.1 813.9 L544.5 814.5 L544.9 812.7 L545.3 808.5 L545.7 803.1 L546.1 808.4 L546.5 803.0 L546.9 810.0 L547.3 804.2 L547.7 797.1 L548.1 802.2 L548.5 811.1 L548.9 810.2 L549.3 808.6 L549.7 801.0 L550.1 807.2 L550.5 807.2 L550.9 808.2" fill="none" stroke="#8a2f96" stroke-width="1.0" stroke-linejoin="round"/><path d="M512.5 804.6 L512.9 804.3 L513.3 804.8 L513.7 803.2 L514.1 803.5 L514.5 805.0 L514.9 803.2 L515.3 798.1 L515.7 801.3 L516.1 798.5 L516.5 801.1 L516.9 799.9 L517.3 792.9 L517.7 799.1 L518.1 794.6 L518.5 793.1 L518.9 791.6 L519.3 793.5 L519.7 797.2 L520.1 797.3 L520.5 794.5 L520.9 794.0 L521.3 791.1 L521.7 794.6 L522.1 795.6 L522.5 787.6 L522.9 785.3 L523.3 793.9 L523.7 788.8 L524.1 793.0 L524.5 796.8 L524.9 797.0 L525.3 790.1 L525.7 790.2 L526.1 796.1 L526.5 790.3 L526.9 799.3 L527.3 793.2 L527.7 794.1 L528.1 792.2 L528.5 792.7 L528.9 791.7 L529.3 797.6 L529.7 792.5 L530.1 802.5 L530.5 802.5 L530.9 802.1 L531.3 797.6 L531.7 804.1 L532.1 798.2 L532.5 801.6 L532.9 802.3 L533.3 802.7 L533.7 800.8 L534.1 807.2 L534.5 801.5 L534.9 802.9 L535.3 809.5 L535.7 807.6 L536.1 809.7 L536.5 808.1 L536.9 800.6 L537.3 811.4 L537.7 807.3 L538.1 804.1 L538.5 809.5 L538.9 806.8 L539.3 805.4 L539.7 806.5 L540.1 806.2 L540.5 810.2 L540.9 811.9 L541.3 806.7 L541.7 806.4 L542.1 807.4 L542.5 805.0 L542.9 807.2 L543.3 806.8 L543.7 811.5 L544.1 805.8 L544.5 809.6 L544.9 814.8 L545.3 810.0 L545.7 806.2 L546.1 801.9 L546.5 803.7 L546.9 802.5 L547.3 804.7 L547.7 800.4 L548.1 800.1 L548.5 802.9 L548.9 809.0 L549.3 811.1 L549.7 802.6 L550.1 802.9 L550.5 812.8 L550.9 809.6" fill="none" stroke="#8a2f96" stroke-width="1.0" stroke-linejoin="round"/><path d="M512.5 805.0 L512.9 802.4 L513.3 803.8 L513.7 805.1 L514.1 805.0 L514.5 804.4 L514.9 802.2 L515.3 797.1 L515.7 800.2 L516.1 798.9 L516.5 797.0 L516.9 795.1 L517.3 791.4 L517.7 790.7 L518.1 798.5 L518.5 789.3 L518.9 790.1 L519.3 794.0 L519.7 797.9 L520.1 793.7 L520.5 795.9 L520.9 788.9 L521.3 787.0 L521.7 789.2 L522.1 786.7 L522.5 791.2 L522.9 785.2 L523.3 787.6 L523.7 789.6 L524.1 792.5 L524.5 788.3 L524.9 788.1 L525.3 796.3 L525.7 791.4 L526.1 791.0 L526.5 789.0 L526.9 797.2 L527.3 797.5 L527.7 792.1 L528.1 798.9 L528.5 790.4 L528.9 792.1 L529.3 798.0 L529.7 798.9 L530.1 796.7 L530.5 794.6 L530.9 801.0 L531.3 794.0 L531.7 801.7 L532.1 802.0 L532.5 806.0 L532.9 800.6 L533.3 798.3 L533.7 803.0 L534.1 797.3 L534.5 805.5 L534.9 798.1 L535.3 804.9 L535.7 800.2 L536.1 799.4 L536.5 808.4 L536.9 801.7 L537.3 811.2 L537.7 811.5 L538.1 807.8 L538.5 809.6 L538.9 812.2 L539.3 803.4 L539.7 812.4 L540.1 811.0 L540.5 807.2 L540.9 804.3 L541.3 813.3 L541.7 806.6 L542.1 805.0 L542.5 811.3 L542.9 809.8 L543.3 810.5 L543.7 815.3 L544.1 813.2 L544.5 808.8 L544.9 811.5 L545.3 812.2 L545.7 810.7 L546.1 801.3 L546.5 813.3 L546.9 797.4 L547.3 802.4 L547.7 808.2 L548.1 796.1 L548.5 805.8 L548.9 809.8 L549.3 812.8 L549.7 804.5 L550.1 803.2 L550.5 805.5 L550.9 814.3" fill="none" stroke="#8a2f96" stroke-width="1.0" stroke-linejoin="round"/><path d="M512.5 803.7 L512.9 802.9 L513.3 802.1 L513.7 801.2 L514.1 800.4 L514.5 799.5 L514.9 798.7 L515.3 797.8 L515.7 796.8 L516.1 795.8 L516.5 794.9 L516.9 793.9 L517.3 792.9 L517.7 791.9 L518.1 791.0 L518.5 790.3 L518.9 789.6 L519.3 788.8 L519.7 788.1 L520.1 787.4 L520.5 786.6 L520.9 785.9 L521.3 785.2 L521.7 785.0 L522.1 785.3 L522.5 785.7 L522.9 786.0 L523.3 786.3 L523.7 786.7 L524.1 787.0 L524.5 787.4 L524.9 787.7 L525.3 788.2 L525.7 788.7 L526.1 789.2 L526.5 789.7 L526.9 790.2 L527.3 790.7 L527.7 791.2 L528.1 791.7 L528.5 792.2 L528.9 792.7 L529.3 793.1 L529.7 793.6 L530.1 794.0 L530.5 794.5 L530.9 794.9 L531.3 795.3 L531.7 795.8 L532.1 796.2 L532.5 796.7 L532.9 797.1 L533.3 797.6 L533.7 798.1 L534.1 798.6 L534.5 799.1 L534.9 799.6 L535.3 800.1 L535.7 800.6 L536.1 801.1 L536.5 801.6 L536.9 802.1 L537.3 802.5 L537.7 802.8 L538.1 803.2 L538.5 803.5 L538.9 803.8 L539.3 804.2 L539.7 804.5 L540.1 804.9 L540.5 805.2 L540.9 805.6 L541.3 805.8 L541.7 806.0 L542.1 806.2 L542.5 806.4 L542.9 806.6 L543.3 806.8 L543.7 807.0 L544.1 807.2 L544.5 807.4 L544.9 807.6 L545.3 806.4 L545.7 804.7 L546.1 803.0 L546.5 801.3 L546.9 799.6 L547.3 798.0 L547.7 797.5 L548.1 798.3 L548.5 799.1 L548.9 799.9 L549.3 801.4 L549.7 803.0 L550.1 804.7 L550.5 806.4 L550.9 808.1 L550.9 813.4 L550.5 813.1 L550.1 812.8 L549.7 812.5 L549.3 812.1 L548.9 811.7 L548.5 810.9 L548.1 810.1 L547.7 809.3 L547.3 809.3 L546.9 810.2 L546.5 811.1 L546.1 811.9 L545.7 812.8 L545.3 813.7 L544.9 814.3 L544.5 814.1 L544.1 813.9 L543.7 813.7 L543.3 813.5 L542.9 813.3 L542.5 813.1 L542.1 812.9 L541.7 812.7 L541.3 812.5 L540.9 812.3 L540.5 812.0 L540.1 811.8 L539.7 811.5 L539.3 811.3 L538.9 811.0 L538.5 810.7 L538.1 810.5 L537.7 810.2 L537.3 810.0 L536.9 809.7 L536.5 809.2 L536.1 808.7 L535.7 808.2 L535.3 807.7 L534.9 807.2 L534.5 806.7 L534.1 806.2 L533.7 805.7 L533.3 805.2 L532.9 804.7 L532.5 804.3 L532.1 804.0 L531.7 803.6 L531.3 803.3 L530.9 802.9 L530.5 802.5 L530.1 802.2 L529.7 801.8 L529.3 801.5 L528.9 801.1 L528.5 800.6 L528.1 800.1 L527.7 799.6 L527.3 799.1 L526.9 798.6 L526.5 798.1 L526.1 797.6 L525.7 797.1 L525.3 796.6 L524.9 796.1 L524.5 795.8 L524.1 795.4 L523.7 795.1 L523.3 794.7 L522.9 794.4 L522.5 794.1 L522.1 793.7 L521.7 793.4 L521.3 793.5 L520.9 794.2 L520.5 794.8 L520.1 795.4 L519.7 796.1 L519.3 796.7 L518.9 797.3 L518.5 798.0 L518.1 798.6 L517.7 799.3 L517.3 799.9 L516.9 800.5 L516.5 801.2 L516.1 801.8 L515.7 802.4 L515.3 803.0 L514.9 803.6 L514.5 804.1 L514.1 804.5 L513.7 804.9 L513.3 805.4 L512.9 805.8 L512.5 806.3Z" fill="#8a2f96"/>
<polyline points="466.0,826.3 502.1,799.6 563.5,709.6 643.0,699.9" fill="none" stroke="#777" stroke-width="1.2"/>
<circle cx="466.0" cy="826.3" r="3.7" fill="#0f72c0" stroke="#333" stroke-width="0.6"/>
<circle cx="502.1" cy="799.6" r="3.7" fill="#8a2f96" stroke="#333" stroke-width="0.6"/>
<circle cx="563.5" cy="709.6" r="3.7" fill="#8a2f96" stroke="#333" stroke-width="0.6"/>
<circle cx="643.0" cy="699.9" r="3.7" fill="#d95319" stroke="#333" stroke-width="0.6"/>
<path d="M448.5 685.4V842.4H659.2V685.4" fill="none" stroke="#333" stroke-width="0.9"/>
<path d="M448.5 685.4H659.2" fill="none" stroke="#1b7a54" stroke-width="1"/>
<path d="M448.5 843.3h2.8M659.2 843.3h-2.8" stroke="#333" stroke-width="0.8"/>
<text x="444.3" y="846.7" font-size="12" text-anchor="end" fill="#1a1a1a" font-weight="normal" font-style="normal" font-family="Liberation Sans" >0.4</text>
<path d="M448.5 794.7h2.8M659.2 794.7h-2.8" stroke="#333" stroke-width="0.8"/>
<text x="444.3" y="798.1" font-size="12" text-anchor="end" fill="#1a1a1a" font-weight="normal" font-style="normal" font-family="Liberation Sans" >0.6</text>
<path d="M448.5 746.1h2.8M659.2 746.1h-2.8" stroke="#333" stroke-width="0.8"/>
<text x="444.3" y="749.5" font-size="12" text-anchor="end" fill="#1a1a1a" font-weight="normal" font-style="normal" font-family="Liberation Sans" >0.8</text>
<path d="M448.5 697.5h2.8M659.2 697.5h-2.8" stroke="#333" stroke-width="0.8"/>
<text x="444.3" y="700.9" font-size="12" text-anchor="end" fill="#1a1a1a" font-weight="normal" font-style="normal" font-family="Liberation Sans" >1</text>
<path d="M466.0 842.4v-2.8" stroke="#333" stroke-width="0.8"/>
<text x="466.0" y="857.0" font-size="12" text-anchor="middle" fill="#1a1a1a" font-weight="normal" font-style="normal" font-family="Liberation Sans" >0</text>
<path d="M502.1 842.4v-2.8" stroke="#333" stroke-width="0.8"/>
<text x="502.1" y="857.0" font-size="12" text-anchor="middle" fill="#1a1a1a" font-weight="normal" font-style="normal" font-family="Liberation Sans" >10</text>
<path d="M538.2 842.4v-2.8" stroke="#333" stroke-width="0.8"/>
<text x="538.2" y="857.0" font-size="12" text-anchor="middle" fill="#1a1a1a" font-weight="normal" font-style="normal" font-family="Liberation Sans" >20</text>
<path d="M574.4 842.4v-2.8" stroke="#333" stroke-width="0.8"/>
<text x="574.4" y="857.0" font-size="12" text-anchor="middle" fill="#1a1a1a" font-weight="normal" font-style="normal" font-family="Liberation Sans" >30</text>
<path d="M610.5 842.4v-2.8" stroke="#333" stroke-width="0.8"/>
<text x="610.5" y="857.0" font-size="12" text-anchor="middle" fill="#1a1a1a" font-weight="normal" font-style="normal" font-family="Liberation Sans" >40</text>
<path d="M646.6 842.4v-2.8" stroke="#333" stroke-width="0.8"/>
<text x="646.6" y="857.0" font-size="12" text-anchor="middle" fill="#1a1a1a" font-weight="normal" font-style="normal" font-family="Liberation Sans" >50</text>
<path d="M466.0 685.4v2.8" stroke="#1b7a54" stroke-width="0.8"/>
<text x="466.0" y="682.7" font-size="12" text-anchor="middle" fill="#1b7a54" font-weight="normal" font-style="normal" font-family="Liberation Sans" >0.5</text>
<path d="M502.1 685.4v2.8" stroke="#1b7a54" stroke-width="0.8"/>
<text x="502.1" y="682.7" font-size="12" text-anchor="middle" fill="#1b7a54" font-weight="normal" font-style="normal" font-family="Liberation Sans" >0.2</text>
<path d="M562.4 685.4v2.8" stroke="#1b7a54" stroke-width="0.8"/>
<text x="562.4" y="682.7" font-size="12" text-anchor="middle" fill="#1b7a54" font-weight="normal" font-style="normal" font-family="Liberation Sans" >0.16</text>
<path d="M641.9 685.4v2.8" stroke="#1b7a54" stroke-width="0.8"/>
<text x="641.9" y="682.7" font-size="12" text-anchor="middle" fill="#1b7a54" font-weight="normal" font-style="normal" font-family="Liberation Sans" >0.1</text>
<text x="553.5" y="670.6" font-size="12" text-anchor="middle" fill="#111" font-family="Liberation Sans">Packing fraction <tspan font-family="Liberation Serif" font-style="italic" font-size="13">p</tspan></text>
<text x="573.8" y="870.5" font-size="12.2" text-anchor="end" fill="#111" font-weight="normal" font-style="normal" font-family="Liberation Sans" >Overlap rate</text>
<text x="578.5" y="871" font-size="14" font-style="italic" font-family="Liberation Serif" fill="#111">O</text>
<path d="M582.8 859.6q1.4 -1.8 2.8 -0.5t2.8 -0.7" stroke="#111" stroke-width="0.8" fill="none"/>
<text x="590" y="870.8" font-size="12.5" font-family="Liberation Serif" fill="#333">(%)</text>
<text transform="translate(424.5,771) rotate(-90)" font-size="16" text-anchor="middle" fill="#111" font-family="Liberation Sans">&#934;</text>
<text x="388.0" y="685.6" font-size="17" text-anchor="start" fill="#000" font-weight="bold" font-style="normal" font-family="Liberation Sans" >d</text>
<text x="452.0" y="808.0" font-size="10.6" text-anchor="start" fill="#111" font-weight="bold" font-style="normal" font-family="Liberation Sans" >(i)</text>
<text x="519.0" y="813.9" font-size="10.6" text-anchor="start" fill="#111" font-weight="bold" font-style="normal" font-family="Liberation Sans" >(ii)</text>
<text x="527.0" y="721.8" font-size="10.6" text-anchor="start" fill="#111" font-weight="bold" font-style="normal" font-family="Liberation Sans" >(iii)</text>
<text x="604.3" y="716.5" font-size="10.6" text-anchor="start" fill="#111" font-weight="bold" font-style="normal" font-family="Liberation Sans" >(iv)</text>
</svg></body></html>
